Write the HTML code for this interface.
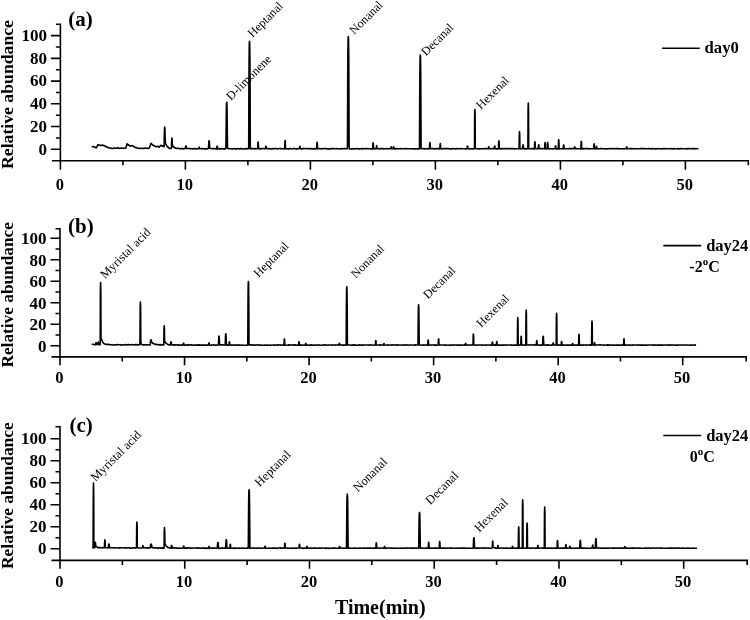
<!DOCTYPE html>
<html lang="en"><head><meta charset="utf-8"><title>Chromatograms</title>
<style>
html,body{margin:0;padding:0;background:#fff;}
svg{display:block;}
text{font-family:"Liberation Serif","Times New Roman",serif;fill:#000;}
.b{font-weight:bold;}
.tk{font-weight:bold;font-size:17px;}
.tkx{font-weight:bold;font-size:16.5px;}
.pk{font-size:12.2px;}
.pc{font-size:12.5px;}
.pm{font-size:12.4px;}
.sans{font-family:"Liberation Sans",Arial,sans-serif;font-size:11.8px;}
.ax{stroke:#000;stroke-width:1.6;fill:none;stroke-linecap:butt;}
.tr{stroke:#000;stroke-width:1.6;fill:none;stroke-linejoin:round;stroke-linecap:round;}
</style></head><body>
<svg width="750" height="620" viewBox="0 0 750 620">
<rect width="750" height="620" fill="#fff"/>

<path class="ax" d="M60.40 23.50 V160.70 M55.90 24.30 H60.40 M51.90 160.70 H749.10 M50.90 149.30 H60.40 M50.90 126.56 H60.40 M50.90 103.82 H60.40 M50.90 81.08 H60.40 M50.90 58.34 H60.40 M50.90 35.60 H60.40 M55.90 137.93 H60.40 M55.90 115.19 H60.40 M55.90 92.45 H60.40 M55.90 69.71 H60.40 M55.90 46.97 H60.40 M60.40 160.70 v9.0 M185.40 160.70 v9.0 M310.40 160.70 v9.0 M435.40 160.70 v9.0 M560.40 160.70 v9.0 M685.40 160.70 v9.0 M122.90 160.70 v4.5 M247.90 160.70 v4.5 M372.90 160.70 v4.5 M497.90 160.70 v4.5 M622.90 160.70 v4.5 M748.30 160.70 v4.5 "/>
<text class="tk" x="46.9" y="154.5" text-anchor="end">0</text>
<text class="tk" x="46.9" y="131.8" text-anchor="end">20</text>
<text class="tk" x="46.9" y="109.0" text-anchor="end">40</text>
<text class="tk" x="46.9" y="86.3" text-anchor="end">60</text>
<text class="tk" x="46.9" y="63.5" text-anchor="end">80</text>
<text class="tk" x="46.9" y="40.8" text-anchor="end">100</text>
<text class="tkx" x="59.8" y="190.4" text-anchor="middle">0</text>
<text class="tkx" x="184.8" y="190.4" text-anchor="middle">10</text>
<text class="tkx" x="309.8" y="190.4" text-anchor="middle">20</text>
<text class="tkx" x="434.8" y="190.4" text-anchor="middle">30</text>
<text class="tkx" x="559.8" y="190.4" text-anchor="middle">40</text>
<text class="tkx" x="684.8" y="190.4" text-anchor="middle">50</text>
<text class="b" font-size="17.70" text-anchor="middle" transform="translate(12.8 94.5) rotate(-90)">Relative abundance</text>
<text class="b" font-size="21" x="68.2" y="26.4">(a)</text>
<path class="tr" d="M92.30 146.75 L92.50 146.79 L92.70 146.83 L92.90 146.87 L93.10 146.91 L93.30 146.61 L93.50 146.65 L93.70 146.69 L93.90 146.74 L94.10 146.78 L94.30 146.86 L94.50 146.90 L94.70 146.99 L94.90 147.08 L95.10 147.17 L95.30 147.50 L95.50 147.59 L95.70 147.67 L95.90 147.76 L96.10 147.85 L96.30 147.82 L96.50 147.44 L96.70 147.05 L96.90 146.66 L97.10 146.28 L97.30 145.91 L97.50 145.52 L97.70 145.13 L97.90 144.74 L98.10 144.61 L98.30 144.63 L98.50 144.75 L98.70 144.87 L98.90 144.99 L99.10 145.11 L99.30 145.17 L99.50 145.29 L99.70 145.41 L99.90 145.35 L100.10 145.30 L100.30 145.57 L100.50 145.51 L100.70 145.46 L100.90 145.40 L101.10 145.34 L101.30 145.32 L101.50 145.26 L101.70 145.20 L101.90 145.26 L102.10 145.32 L102.30 145.00 L102.50 145.06 L102.70 145.12 L102.90 145.17 L103.10 145.23 L103.30 145.49 L103.50 145.55 L103.70 145.60 L103.90 145.66 L104.10 145.74 L104.30 145.67 L104.50 145.76 L104.70 145.85 L104.90 145.95 L105.10 146.04 L105.30 146.49 L105.50 146.58 L105.70 146.67 L105.90 146.76 L106.10 146.85 L106.30 146.73 L106.50 146.82 L106.70 146.92 L106.90 147.01 L107.10 147.09 L107.30 147.05 L107.50 147.13 L107.70 147.21 L107.90 147.30 L108.10 147.38 L108.30 147.70 L108.50 147.79 L108.70 147.87 L108.90 147.96 L109.10 148.04 L109.30 147.78 L109.50 147.87 L109.70 147.95 L109.90 147.95 L110.10 147.96 L110.30 147.98 L110.50 147.99 L110.70 147.99 L110.90 147.99 L111.10 148.00 L111.30 148.42 L111.50 148.42 L111.70 148.42 L111.90 148.43 L112.10 148.43 L112.30 148.44 L112.50 148.44 L112.70 148.44 L112.90 148.45 L113.10 148.45 L113.30 148.21 L113.50 148.21 L113.70 148.22 L113.90 148.22 L114.10 148.22 L114.30 148.04 L114.50 148.04 L114.70 148.04 L114.90 148.05 L115.10 148.05 L115.30 148.32 L115.50 148.32 L115.70 148.33 L115.90 148.33 L116.10 148.29 L116.30 148.29 L116.50 148.21 L116.70 148.13 L116.90 148.05 L117.10 147.97 L117.30 147.79 L117.50 147.71 L117.70 147.63 L117.90 147.72 L118.10 147.81 L118.30 148.08 L118.50 148.17 L118.70 148.26 L118.90 148.34 L119.10 148.39 L119.30 148.30 L119.50 148.30 L119.70 148.30 L119.90 148.30 L120.10 148.30 L120.30 148.19 L120.50 148.19 L120.70 148.19 L120.90 148.19 L121.10 148.19 L121.30 148.16 L121.50 148.16 L121.70 148.16 L121.90 148.16 L122.10 148.16 L122.30 148.29 L122.50 148.29 L122.70 148.29 L122.90 148.29 L123.10 148.29 L123.30 148.29 L123.50 148.29 L123.70 148.29 L123.90 148.29 L124.10 148.29 L124.30 148.30 L124.50 148.30 L124.70 148.30 L124.90 148.30 L125.10 148.30 L125.30 148.18 L125.50 148.18 L125.70 148.18 L125.90 147.80 L126.10 147.05 L126.30 146.37 L126.50 145.61 L126.70 144.85 L126.90 144.09 L127.10 143.81 L127.30 144.12 L127.50 144.30 L127.70 144.48 L127.90 144.66 L128.10 144.84 L128.30 144.64 L128.50 144.82 L128.70 144.96 L128.90 145.10 L129.10 145.24 L129.30 145.51 L129.50 145.65 L129.70 145.79 L129.90 145.93 L130.10 146.06 L130.30 146.16 L130.50 146.08 L130.70 146.00 L130.90 145.92 L131.10 145.84 L131.30 145.98 L131.50 145.90 L131.70 145.82 L131.90 145.74 L132.10 145.76 L132.30 145.50 L132.50 145.63 L132.70 145.75 L132.90 145.88 L133.10 146.00 L133.30 146.19 L133.50 146.31 L133.70 146.44 L133.90 146.56 L134.10 146.67 L134.30 147.10 L134.50 147.18 L134.70 147.26 L134.90 147.34 L135.10 147.42 L135.30 147.39 L135.50 147.47 L135.70 147.55 L135.90 147.63 L136.10 147.71 L136.30 147.61 L136.50 147.68 L136.70 147.76 L136.90 147.84 L137.10 147.92 L137.30 148.01 L137.50 148.09 L137.70 148.17 L137.90 148.24 L138.10 148.32 L138.30 148.30 L138.50 148.29 L138.70 148.29 L138.90 148.28 L139.10 148.28 L139.30 148.52 L139.50 148.51 L139.70 148.51 L139.90 148.51 L140.10 148.50 L140.30 148.30 L140.50 148.30 L140.70 148.29 L140.90 148.29 L141.10 148.28 L141.30 148.36 L141.50 148.35 L141.70 148.35 L141.90 148.34 L142.10 148.34 L142.30 148.51 L142.50 148.50 L142.70 148.50 L142.90 148.50 L143.10 148.49 L143.30 148.35 L143.50 148.35 L143.70 148.34 L143.90 148.34 L144.10 148.33 L144.30 148.19 L144.50 148.18 L144.70 148.18 L144.90 148.17 L145.10 148.17 L145.30 148.18 L145.50 148.18 L145.70 148.17 L145.90 148.17 L146.10 148.16 L146.30 148.32 L146.50 148.32 L146.70 148.31 L146.90 148.31 L147.10 148.31 L147.30 148.26 L147.50 148.26 L147.70 148.25 L147.90 148.25 L148.10 148.24 L148.30 148.50 L148.50 148.50 L148.70 148.36 L148.90 148.23 L149.10 148.09 L149.30 147.85 L149.50 147.72 L149.70 147.14 L149.90 146.57 L150.10 145.99 L150.30 145.15 L150.50 144.57 L150.70 144.00 L150.90 143.42 L151.10 143.23 L151.30 143.60 L151.50 143.80 L151.70 143.99 L151.90 144.18 L152.10 144.38 L152.30 144.69 L152.50 144.88 L152.70 145.07 L152.90 145.27 L153.10 145.42 L153.30 145.35 L153.50 145.46 L153.70 145.57 L153.90 145.68 L154.10 145.79 L154.30 145.82 L154.50 145.93 L154.70 146.04 L154.90 146.15 L155.10 146.26 L155.30 146.38 L155.50 146.49 L155.70 146.60 L155.90 146.56 L156.10 146.51 L156.30 146.61 L156.50 146.56 L156.70 146.52 L156.90 146.47 L157.10 146.43 L157.30 146.35 L157.50 146.30 L157.70 146.26 L157.90 146.42 L158.10 146.57 L158.30 146.70 L158.50 146.86 L158.70 147.01 L158.90 147.17 L159.10 147.15 L159.30 146.81 L159.50 146.61 L159.70 146.40 L159.90 146.20 L160.10 145.99 L160.30 145.91 L160.50 145.71 L160.70 145.50 L160.90 145.30 L161.10 145.28 L161.30 145.49 L161.50 145.65 L161.70 145.81 L161.90 145.97 L162.10 146.12 L162.30 146.24 L162.50 146.16 L162.70 146.08 L162.90 146.01 L163.10 145.93 L163.30 146.19 L163.50 146.33 L163.70 146.48 L163.90 146.63 L164.10 146.77 L164.30 136.99 L164.50 128.42 L164.70 127.10 L164.90 128.71 L165.10 137.58 L165.30 142.29 L165.50 142.96 L165.70 143.58 L165.90 144.15 L166.10 144.62 L166.30 144.87 L166.50 145.21 L166.70 145.52 L166.90 145.80 L167.10 146.05 L167.30 146.47 L167.50 146.68 L167.70 146.87 L167.90 147.05 L168.10 147.21 L168.30 147.45 L168.50 147.59 L168.70 147.94 L168.90 148.02 L169.10 148.09 L169.30 148.26 L169.50 148.32 L169.70 148.37 L169.90 148.42 L170.10 148.46 L170.30 148.34 L170.50 148.37 L170.70 148.40 L170.90 148.43 L171.10 148.45 L171.30 148.24 L171.50 148.26 L171.70 139.38 L171.90 138.08 L172.10 139.41 L172.30 145.15 L172.50 145.51 L172.70 145.82 L172.90 146.11 L173.10 146.36 L173.30 146.70 L173.50 146.91 L173.70 147.09 L173.90 147.25 L174.10 147.40 L174.30 147.38 L174.50 147.49 L174.70 147.60 L174.90 147.69 L175.10 147.78 L175.30 148.15 L175.50 148.22 L175.70 148.28 L175.90 148.33 L176.10 148.38 L176.30 148.29 L176.50 148.33 L176.70 148.36 L176.90 148.40 L177.10 148.43 L177.30 148.24 L177.50 148.27 L177.70 148.29 L177.90 148.30 L178.10 148.32 L178.30 148.51 L178.50 148.52 L178.70 148.54 L178.90 148.55 L179.10 148.56 L179.30 148.62 L179.50 148.63 L179.70 148.63 L179.90 148.64 L180.10 148.65 L180.30 148.74 L180.50 148.75 L180.70 148.75 L180.90 148.75 L181.10 148.76 L181.30 148.63 L181.50 148.63 L181.70 148.63 L181.90 148.63 L182.10 148.63 L182.30 148.44 L182.50 148.44 L182.70 148.44 L182.90 148.45 L183.10 148.45 L183.30 148.90 L183.50 148.90 L183.70 148.90 L183.90 148.91 L184.10 148.91 L184.30 148.54 L184.50 148.54 L184.70 148.54 L184.90 148.54 L185.10 148.54 L185.30 148.52 L185.50 147.25 L185.70 146.13 L185.90 145.95 L186.10 146.13 L186.30 147.22 L186.50 148.49 L186.70 148.49 L186.90 148.49 L187.10 148.49 L187.30 148.56 L187.50 148.56 L187.70 148.56 L187.90 148.56 L188.10 148.57 L188.30 148.53 L188.50 148.53 L188.70 148.53 L188.90 148.53 L189.10 148.53 L189.30 148.67 L189.50 148.67 L189.70 148.67 L189.90 148.67 L190.10 148.67 L190.30 148.65 L190.50 148.65 L190.70 148.65 L190.90 148.65 L191.10 148.65 L191.30 148.72 L191.50 148.72 L191.70 148.72 L191.90 148.72 L192.10 148.72 L192.30 148.90 L192.50 148.90 L192.70 148.90 L192.90 148.90 L193.10 148.90 L193.30 148.51 L193.50 148.51 L193.70 148.51 L193.90 148.51 L194.10 148.51 L194.30 148.65 L194.50 148.65 L194.70 148.65 L194.90 148.65 L195.10 148.65 L195.30 148.83 L195.50 148.83 L195.70 148.83 L195.90 148.83 L196.10 148.83 L196.30 148.69 L196.50 148.69 L196.70 148.69 L196.90 148.69 L197.10 148.69 L197.30 148.70 L197.50 148.70 L197.70 148.70 L197.90 148.70 L198.10 148.70 L198.30 148.76 L198.50 148.76 L198.70 148.76 L198.90 147.37 L199.10 147.08 L199.30 147.38 L199.50 148.77 L199.70 148.77 L199.90 148.77 L200.10 148.77 L200.30 148.68 L200.50 148.68 L200.70 148.68 L200.90 148.68 L201.10 148.68 L201.30 148.64 L201.50 148.64 L201.70 148.64 L201.90 148.64 L202.10 148.64 L202.30 148.64 L202.50 148.64 L202.70 148.64 L202.90 148.64 L203.10 148.64 L203.30 148.72 L203.50 148.72 L203.70 148.72 L203.90 148.72 L204.10 148.72 L204.30 148.92 L204.50 148.92 L204.70 148.92 L204.90 148.92 L205.10 148.92 L205.30 148.83 L205.50 148.83 L205.70 148.83 L205.90 148.83 L206.10 148.83 L206.30 148.85 L206.50 148.85 L206.70 148.85 L206.90 148.85 L207.10 148.85 L207.30 148.66 L207.50 148.66 L207.70 148.66 L207.90 148.66 L208.10 148.66 L208.30 148.53 L208.50 148.53 L208.70 144.71 L208.90 141.35 L209.10 140.78 L209.30 141.38 L209.50 144.74 L209.70 148.10 L209.90 148.23 L210.10 148.33 L210.30 148.39 L210.50 148.44 L210.70 148.47 L210.90 148.50 L211.10 148.52 L211.30 148.52 L211.50 148.53 L211.70 148.54 L211.90 148.54 L212.10 148.54 L212.30 148.81 L212.50 148.82 L212.70 148.82 L212.90 148.82 L213.10 148.82 L213.30 148.54 L213.50 148.54 L213.70 148.54 L213.90 148.54 L214.10 148.54 L214.30 148.62 L214.50 148.62 L214.70 148.62 L214.90 148.62 L215.10 148.62 L215.30 148.90 L215.50 148.90 L215.70 148.90 L215.90 148.90 L216.10 148.90 L216.30 148.94 L216.50 148.94 L216.70 148.94 L216.90 146.62 L217.10 146.14 L217.30 146.62 L217.50 148.94 L217.70 148.94 L217.90 148.94 L218.10 148.94 L218.30 148.59 L218.50 148.59 L218.70 148.59 L218.90 148.59 L219.10 148.59 L219.30 148.83 L219.50 148.83 L219.70 148.83 L219.90 148.83 L220.10 148.83 L220.30 148.89 L220.50 148.90 L220.70 148.90 L220.90 148.90 L221.10 148.90 L221.30 148.65 L221.50 148.65 L221.70 148.65 L221.90 148.65 L222.10 148.65 L222.30 148.78 L222.50 148.78 L222.70 148.78 L222.90 148.78 L223.10 148.78 L223.30 148.92 L223.50 148.92 L223.70 148.92 L223.90 148.92 L224.10 148.92 L224.30 148.87 L224.50 148.87 L224.70 148.87 L224.90 148.87 L225.10 148.87 L225.30 148.70 L225.50 148.70 L225.70 148.70 L225.90 148.70 L226.10 134.92 L226.30 112.81 L226.50 103.77 L226.70 102.26 L226.90 103.77 L227.10 112.81 L227.30 135.04 L227.50 147.81 L227.70 148.21 L227.90 148.45 L228.10 148.60 L228.30 148.48 L228.50 148.53 L228.70 148.56 L228.90 148.58 L229.10 148.59 L229.30 148.72 L229.50 148.73 L229.70 148.73 L229.90 148.73 L230.10 148.73 L230.30 148.80 L230.50 148.80 L230.70 148.80 L230.90 148.80 L231.10 148.80 L231.30 148.73 L231.50 148.73 L231.70 148.73 L231.90 148.73 L232.10 148.73 L232.30 148.94 L232.50 148.94 L232.70 148.94 L232.90 148.94 L233.10 148.94 L233.30 148.77 L233.50 148.77 L233.70 148.77 L233.90 148.77 L234.10 148.77 L234.30 148.75 L234.50 148.75 L234.70 148.75 L234.90 148.75 L235.10 148.75 L235.30 148.86 L235.50 148.86 L235.70 148.86 L235.90 148.86 L236.10 148.86 L236.30 148.90 L236.50 148.90 L236.70 148.90 L236.90 148.90 L237.10 148.90 L237.30 148.53 L237.50 148.53 L237.70 148.53 L237.90 148.53 L238.10 148.53 L238.30 148.71 L238.50 148.71 L238.70 148.71 L238.90 148.71 L239.10 148.71 L239.30 148.86 L239.50 148.86 L239.70 148.86 L239.90 148.86 L240.10 148.86 L240.30 148.67 L240.50 148.67 L240.70 148.67 L240.90 148.67 L241.10 148.67 L241.30 148.57 L241.50 148.57 L241.70 148.57 L241.90 148.57 L242.10 148.57 L242.30 148.95 L242.50 148.95 L242.70 148.95 L242.90 148.95 L243.10 148.95 L243.30 148.95 L243.50 148.95 L243.70 148.95 L243.90 148.95 L244.10 148.95 L244.30 148.89 L244.50 148.89 L244.70 148.89 L244.90 148.89 L245.10 148.89 L245.30 148.61 L245.50 148.61 L245.70 148.61 L245.90 148.61 L246.10 148.61 L246.30 148.88 L246.50 148.88 L246.70 148.88 L246.90 148.88 L247.10 148.88 L247.30 148.62 L247.50 148.62 L247.70 148.62 L247.90 148.62 L248.10 148.62 L248.30 148.63 L248.50 148.64 L248.70 148.64 L248.90 92.33 L249.10 57.59 L249.30 43.56 L249.50 41.20 L249.70 43.56 L249.90 57.65 L250.10 92.40 L250.30 148.85 L250.50 148.85 L250.70 148.85 L250.90 148.85 L251.10 148.85 L251.30 148.49 L251.50 148.49 L251.70 148.49 L251.90 148.49 L252.10 148.49 L252.30 148.58 L252.50 148.58 L252.70 148.58 L252.90 148.58 L253.10 148.58 L253.30 148.71 L253.50 148.71 L253.70 148.71 L253.90 148.71 L254.10 148.71 L254.30 148.85 L254.50 148.85 L254.70 148.85 L254.90 148.85 L255.10 148.85 L255.30 148.65 L255.50 148.65 L255.70 148.65 L255.90 148.65 L256.10 148.65 L256.30 148.77 L256.50 148.77 L256.70 148.77 L256.90 148.77 L257.10 148.77 L257.30 148.69 L257.50 148.69 L257.70 148.69 L257.90 143.11 L258.10 141.95 L258.30 143.23 L258.50 148.81 L258.70 148.81 L258.90 148.81 L259.10 148.81 L259.30 148.66 L259.50 148.66 L259.70 148.66 L259.90 148.66 L260.10 148.66 L260.30 148.93 L260.50 148.93 L260.70 148.93 L260.90 148.93 L261.10 148.93 L261.30 148.82 L261.50 148.82 L261.70 148.82 L261.90 148.82 L262.10 148.82 L262.30 148.50 L262.50 148.50 L262.70 148.50 L262.90 148.50 L263.10 148.50 L263.30 148.54 L263.50 148.54 L263.70 148.54 L263.90 148.54 L264.10 148.54 L264.30 148.82 L264.50 148.82 L264.70 148.82 L264.90 148.82 L265.10 148.82 L265.30 148.55 L265.50 148.55 L265.70 146.60 L265.90 146.20 L266.10 146.60 L266.30 148.81 L266.50 148.81 L266.70 148.81 L266.90 148.81 L267.10 148.81 L267.30 148.51 L267.50 148.51 L267.70 148.51 L267.90 148.51 L268.10 148.51 L268.30 148.61 L268.50 148.61 L268.70 148.61 L268.90 148.61 L269.10 148.61 L269.30 148.76 L269.50 148.76 L269.70 148.76 L269.90 148.76 L270.10 148.76 L270.30 148.84 L270.50 148.84 L270.70 148.84 L270.90 148.84 L271.10 148.84 L271.30 148.96 L271.50 148.96 L271.70 148.96 L271.90 148.96 L272.10 148.96 L272.30 148.54 L272.50 148.54 L272.70 148.54 L272.90 148.54 L273.10 148.54 L273.30 148.95 L273.50 148.95 L273.70 148.95 L273.90 148.95 L274.10 148.95 L274.30 148.57 L274.50 148.57 L274.70 148.57 L274.90 148.57 L275.10 148.57 L275.30 148.50 L275.50 148.50 L275.70 148.51 L275.90 148.51 L276.10 148.51 L276.30 148.69 L276.50 148.69 L276.70 148.69 L276.90 148.69 L277.10 148.69 L277.30 148.88 L277.50 148.88 L277.70 148.88 L277.90 148.88 L278.10 148.88 L278.30 148.55 L278.50 148.55 L278.70 148.55 L278.90 148.55 L279.10 148.55 L279.30 148.50 L279.50 148.50 L279.70 148.50 L279.90 148.50 L280.10 148.50 L280.30 148.63 L280.50 148.63 L280.70 148.63 L280.90 148.63 L281.10 148.63 L281.30 148.72 L281.50 148.72 L281.70 148.72 L281.90 148.72 L282.10 148.72 L282.30 148.78 L282.50 148.78 L282.70 148.78 L282.90 148.78 L283.10 148.78 L283.30 148.80 L283.50 148.80 L283.70 148.80 L283.90 148.80 L284.10 148.80 L284.30 148.87 L284.50 148.87 L284.70 148.87 L284.90 141.89 L285.10 140.45 L285.30 141.67 L285.50 148.64 L285.70 148.64 L285.90 148.64 L286.10 148.64 L286.30 148.76 L286.50 148.76 L286.70 148.76 L286.90 148.76 L287.10 148.76 L287.30 148.87 L287.50 148.87 L287.70 148.87 L287.90 148.87 L288.10 148.87 L288.30 148.92 L288.50 148.92 L288.70 148.92 L288.90 148.92 L289.10 148.92 L289.30 148.65 L289.50 148.65 L289.70 148.65 L289.90 148.65 L290.10 148.65 L290.30 148.82 L290.50 148.82 L290.70 148.82 L290.90 148.82 L291.10 148.82 L291.30 148.73 L291.50 148.73 L291.70 148.73 L291.90 148.73 L292.10 148.73 L292.30 148.81 L292.50 148.81 L292.70 148.81 L292.90 148.81 L293.10 148.81 L293.30 148.55 L293.50 148.55 L293.70 148.55 L293.90 148.55 L294.10 148.55 L294.30 148.54 L294.50 148.54 L294.70 148.54 L294.90 148.54 L295.10 148.54 L295.30 148.96 L295.50 148.96 L295.70 148.96 L295.90 148.96 L296.10 148.96 L296.30 148.87 L296.50 148.87 L296.70 148.87 L296.90 148.87 L297.10 148.87 L297.30 148.81 L297.50 148.81 L297.70 148.81 L297.90 148.81 L298.10 148.81 L298.30 148.50 L298.50 148.50 L298.70 148.50 L298.90 148.50 L299.10 148.50 L299.30 148.59 L299.50 148.59 L299.70 146.64 L299.90 146.24 L300.10 146.64 L300.30 148.81 L300.50 148.81 L300.70 148.81 L300.90 148.81 L301.10 148.81 L301.30 148.87 L301.50 148.87 L301.70 148.87 L301.90 148.87 L302.10 148.87 L302.30 148.65 L302.50 148.65 L302.70 148.65 L302.90 148.65 L303.10 148.65 L303.30 148.57 L303.50 148.57 L303.70 148.57 L303.90 148.57 L304.10 148.57 L304.30 148.52 L304.50 148.52 L304.70 148.52 L304.90 148.52 L305.10 148.52 L305.30 148.80 L305.50 148.80 L305.70 148.80 L305.90 148.80 L306.10 148.80 L306.30 148.55 L306.50 148.55 L306.70 148.55 L306.90 148.55 L307.10 148.55 L307.30 148.64 L307.50 148.64 L307.70 148.64 L307.90 148.64 L308.10 148.64 L308.30 148.74 L308.50 148.74 L308.70 148.74 L308.90 148.74 L309.10 148.74 L309.30 148.50 L309.50 148.50 L309.70 148.50 L309.90 148.50 L310.10 148.50 L310.30 148.86 L310.50 148.86 L310.70 148.86 L310.90 148.86 L311.10 148.86 L311.30 148.62 L311.50 148.62 L311.70 148.62 L311.90 148.62 L312.10 148.62 L312.30 148.93 L312.50 148.93 L312.70 148.93 L312.90 148.93 L313.10 148.93 L313.30 148.89 L313.50 148.89 L313.70 148.89 L313.90 148.89 L314.10 148.89 L314.30 148.53 L314.50 148.53 L314.70 148.53 L314.90 148.53 L315.10 148.53 L315.30 148.87 L315.50 148.87 L315.70 148.87 L315.90 148.87 L316.10 148.87 L316.30 148.61 L316.50 148.61 L316.70 148.61 L316.90 143.31 L317.10 142.21 L317.30 143.38 L317.50 148.68 L317.70 148.68 L317.90 148.68 L318.10 148.68 L318.30 148.57 L318.50 148.57 L318.70 148.57 L318.90 148.57 L319.10 148.57 L319.30 148.79 L319.50 148.79 L319.70 148.79 L319.90 148.79 L320.10 148.79 L320.30 148.81 L320.50 148.81 L320.70 148.81 L320.90 148.81 L321.10 148.81 L321.30 148.83 L321.50 148.83 L321.70 148.83 L321.90 148.83 L322.10 148.83 L322.30 148.55 L322.50 148.55 L322.70 148.55 L322.90 148.55 L323.10 148.55 L323.30 148.68 L323.50 148.68 L323.70 148.68 L323.90 148.68 L324.10 148.68 L324.30 148.51 L324.50 148.51 L324.70 148.51 L324.90 148.51 L325.10 148.51 L325.30 148.54 L325.50 148.54 L325.70 148.54 L325.90 148.54 L326.10 148.54 L326.30 148.90 L326.50 148.90 L326.70 148.90 L326.90 148.90 L327.10 148.90 L327.30 148.71 L327.50 148.71 L327.70 148.71 L327.90 148.71 L328.10 148.71 L328.30 148.92 L328.50 148.92 L328.70 148.92 L328.90 148.92 L329.10 148.92 L329.30 148.95 L329.50 148.95 L329.70 148.95 L329.90 148.95 L330.10 148.88 L330.30 148.87 L330.50 148.87 L330.70 148.87 L330.90 148.87 L331.10 148.87 L331.30 148.61 L331.50 148.61 L331.70 148.61 L331.90 148.61 L332.10 148.61 L332.30 148.64 L332.50 148.64 L332.70 148.64 L332.90 148.64 L333.10 148.64 L333.30 148.63 L333.50 148.63 L333.70 148.63 L333.90 148.63 L334.10 148.63 L334.30 148.78 L334.50 148.78 L334.70 148.78 L334.90 148.78 L335.10 148.78 L335.30 148.69 L335.50 148.69 L335.70 148.69 L335.90 148.69 L336.10 148.69 L336.30 148.64 L336.50 148.64 L336.70 148.64 L336.90 148.64 L337.10 148.64 L337.30 148.77 L337.50 148.77 L337.70 148.77 L337.90 148.77 L338.10 148.77 L338.30 148.71 L338.50 148.71 L338.70 148.71 L338.90 148.71 L339.10 148.71 L339.30 148.82 L339.50 148.82 L339.70 148.82 L339.90 148.82 L340.10 148.82 L340.30 148.86 L340.50 148.86 L340.70 148.86 L340.90 148.86 L341.10 148.86 L341.30 148.80 L341.50 148.80 L341.70 148.80 L341.90 148.80 L342.10 148.80 L342.30 148.61 L342.50 148.61 L342.70 148.61 L342.90 148.61 L343.10 148.61 L343.30 148.71 L343.50 148.71 L343.70 148.71 L343.90 148.71 L344.10 148.71 L344.30 148.60 L344.50 148.60 L344.70 148.60 L344.90 148.60 L345.10 148.60 L345.30 148.74 L345.50 148.74 L345.70 148.74 L345.90 148.74 L346.10 148.74 L346.30 148.80 L346.50 148.80 L346.70 148.80 L346.90 148.80 L347.10 148.80 L347.30 148.64 L347.50 145.75 L347.70 85.40 L347.90 52.31 L348.10 38.90 L348.30 36.63 L348.50 38.88 L348.70 52.30 L348.90 85.39 L349.10 145.74 L349.30 148.89 L349.50 148.89 L349.70 148.89 L349.90 148.89 L350.10 148.89 L350.30 148.68 L350.50 148.68 L350.70 148.68 L350.90 148.68 L351.10 148.68 L351.30 148.86 L351.50 148.86 L351.70 148.86 L351.90 148.86 L352.10 148.86 L352.30 148.85 L352.50 148.85 L352.70 148.85 L352.90 148.85 L353.10 148.85 L353.30 148.61 L353.50 148.61 L353.70 148.61 L353.90 148.61 L354.10 148.61 L354.30 148.88 L354.50 148.88 L354.70 148.88 L354.90 148.88 L355.10 148.88 L355.30 148.81 L355.50 148.81 L355.70 148.81 L355.90 148.81 L356.10 148.81 L356.30 148.58 L356.50 148.58 L356.70 148.58 L356.90 148.58 L357.10 148.58 L357.30 148.76 L357.50 148.76 L357.70 148.76 L357.90 148.76 L358.10 148.76 L358.30 148.85 L358.50 148.85 L358.70 148.85 L358.90 148.85 L359.10 148.85 L359.30 148.84 L359.50 148.84 L359.70 148.84 L359.90 148.84 L360.10 148.84 L360.30 148.81 L360.50 148.81 L360.70 148.81 L360.90 148.81 L361.10 148.81 L361.30 148.65 L361.50 148.65 L361.70 148.65 L361.90 148.65 L362.10 148.65 L362.30 148.86 L362.50 148.86 L362.70 148.86 L362.90 148.86 L363.10 148.86 L363.30 148.60 L363.50 148.60 L363.70 148.60 L363.90 148.60 L364.10 148.60 L364.30 148.77 L364.50 148.77 L364.70 148.77 L364.90 148.77 L365.10 148.77 L365.30 148.58 L365.50 148.58 L365.70 148.58 L365.90 148.58 L366.10 148.58 L366.30 148.60 L366.50 148.60 L366.70 148.60 L366.90 148.60 L367.10 148.60 L367.30 148.80 L367.50 148.80 L367.70 148.80 L367.90 148.80 L368.10 148.80 L368.30 148.81 L368.50 148.81 L368.70 148.81 L368.90 148.81 L369.10 148.81 L369.30 148.74 L369.50 148.74 L369.70 148.74 L369.90 148.74 L370.10 148.74 L370.30 148.86 L370.50 148.86 L370.70 148.86 L370.90 148.86 L371.10 148.86 L371.30 148.68 L371.50 148.68 L371.70 148.68 L371.90 148.68 L372.10 148.68 L372.30 148.88 L372.50 148.88 L372.70 148.88 L372.90 143.76 L373.10 142.71 L373.30 143.77 L373.50 148.89 L373.70 148.89 L373.90 148.89 L374.10 148.89 L374.30 148.58 L374.50 148.58 L374.70 148.58 L374.90 148.58 L375.10 148.58 L375.30 148.80 L375.50 148.80 L375.70 148.80 L375.90 148.80 L376.10 148.80 L376.30 148.70 L376.50 146.19 L376.70 145.67 L376.90 146.19 L377.10 148.70 L377.30 148.75 L377.50 148.75 L377.70 148.75 L377.90 148.75 L378.10 148.75 L378.30 148.79 L378.50 148.79 L378.70 148.79 L378.90 148.79 L379.10 148.79 L379.30 148.87 L379.50 148.87 L379.70 148.87 L379.90 148.87 L380.10 148.87 L380.30 148.60 L380.50 148.60 L380.70 148.60 L380.90 148.60 L381.10 148.60 L381.30 148.58 L381.50 148.58 L381.70 148.58 L381.90 148.58 L382.10 148.58 L382.30 148.58 L382.50 148.58 L382.70 148.58 L382.90 148.58 L383.10 148.58 L383.30 148.85 L383.50 148.85 L383.70 148.85 L383.90 148.85 L384.10 148.85 L384.30 148.82 L384.50 148.82 L384.70 148.82 L384.90 148.82 L385.10 148.82 L385.30 148.69 L385.50 148.69 L385.70 148.69 L385.90 148.69 L386.10 148.69 L386.30 148.58 L386.50 148.58 L386.70 148.58 L386.90 148.58 L387.10 148.58 L387.30 148.72 L387.50 148.72 L387.70 148.72 L387.90 148.72 L388.10 148.72 L388.30 148.67 L388.50 148.67 L388.70 148.67 L388.90 148.67 L389.10 148.67 L389.30 148.68 L389.50 148.68 L389.70 148.68 L389.90 148.68 L390.10 148.68 L390.30 148.81 L390.50 148.81 L390.70 148.81 L390.90 148.81 L391.10 147.47 L391.30 146.70 L391.50 147.38 L391.70 148.72 L391.90 148.72 L392.10 148.72 L392.30 148.79 L392.50 148.79 L392.70 148.79 L392.90 148.79 L393.10 148.79 L393.30 148.81 L393.50 147.47 L393.70 146.80 L393.90 147.47 L394.10 148.81 L394.30 148.86 L394.50 148.86 L394.70 148.86 L394.90 148.86 L395.10 148.86 L395.30 148.80 L395.50 148.80 L395.70 148.80 L395.90 148.80 L396.10 148.80 L396.30 148.58 L396.50 148.58 L396.70 148.58 L396.90 148.58 L397.10 148.58 L397.30 148.75 L397.50 148.75 L397.70 148.75 L397.90 148.75 L398.10 148.75 L398.30 148.68 L398.50 148.68 L398.70 148.68 L398.90 148.68 L399.10 148.68 L399.30 148.69 L399.50 148.69 L399.70 148.69 L399.90 148.69 L400.10 148.69 L400.30 148.59 L400.50 148.59 L400.70 148.59 L400.90 148.59 L401.10 148.59 L401.30 148.77 L401.50 148.77 L401.70 148.77 L401.90 148.77 L402.10 148.77 L402.30 148.79 L402.50 148.79 L402.70 148.79 L402.90 148.79 L403.10 148.79 L403.30 148.79 L403.50 148.79 L403.70 148.79 L403.90 148.79 L404.10 148.79 L404.30 148.79 L404.50 148.79 L404.70 148.79 L404.90 148.79 L405.10 148.79 L405.30 148.62 L405.50 148.62 L405.70 148.62 L405.90 148.62 L406.10 148.62 L406.30 148.61 L406.50 148.61 L406.70 148.61 L406.90 148.61 L407.10 148.61 L407.30 148.79 L407.50 148.79 L407.70 148.79 L407.90 148.79 L408.10 148.79 L408.30 148.78 L408.50 148.78 L408.70 148.78 L408.90 148.78 L409.10 148.78 L409.30 148.72 L409.50 148.72 L409.70 148.72 L409.90 148.72 L410.10 148.72 L410.30 148.71 L410.50 148.71 L410.70 148.71 L410.90 148.71 L411.10 148.71 L411.30 148.70 L411.50 148.70 L411.70 148.70 L411.90 148.70 L412.10 148.70 L412.30 148.81 L412.50 148.81 L412.70 148.81 L412.90 148.81 L413.10 148.81 L413.30 148.88 L413.50 148.88 L413.70 148.88 L413.90 148.88 L414.10 148.88 L414.30 148.81 L414.50 148.81 L414.70 148.81 L414.90 148.81 L415.10 148.81 L415.30 148.87 L415.50 148.87 L415.70 148.87 L415.90 148.87 L416.10 148.87 L416.30 148.72 L416.50 148.72 L416.70 148.72 L416.90 148.72 L417.10 148.72 L417.30 148.87 L417.50 148.87 L417.70 148.87 L417.90 148.87 L418.10 148.87 L418.30 148.87 L418.50 148.87 L418.70 148.87 L418.90 148.87 L419.10 148.87 L419.30 148.69 L419.50 148.69 L419.70 102.40 L419.90 70.16 L420.10 57.09 L420.30 55.00 L420.50 57.20 L420.70 70.27 L420.90 102.51 L421.10 148.80 L421.30 148.64 L421.50 148.64 L421.70 148.64 L421.90 148.64 L422.10 148.64 L422.30 148.73 L422.50 148.73 L422.70 148.73 L422.90 148.73 L423.10 148.73 L423.30 148.62 L423.50 148.62 L423.70 148.62 L423.90 148.62 L424.10 148.62 L424.30 148.84 L424.50 148.84 L424.70 148.84 L424.90 148.84 L425.10 148.84 L425.30 148.73 L425.50 148.73 L425.70 148.73 L425.90 148.73 L426.10 148.73 L426.30 148.64 L426.50 148.64 L426.70 148.64 L426.90 148.64 L427.10 148.64 L427.30 148.87 L427.50 148.87 L427.70 148.87 L427.90 148.87 L428.10 148.87 L428.30 148.59 L428.50 148.59 L428.70 148.59 L428.90 148.59 L429.10 148.59 L429.30 148.84 L429.50 148.84 L429.70 143.72 L429.90 142.66 L430.10 143.72 L430.30 148.64 L430.50 148.64 L430.70 148.64 L430.90 148.64 L431.10 148.64 L431.30 148.58 L431.50 148.58 L431.70 148.58 L431.90 148.58 L432.10 148.58 L432.30 148.63 L432.50 148.63 L432.70 148.63 L432.90 148.63 L433.10 148.63 L433.30 148.79 L433.50 148.79 L433.70 148.79 L433.90 148.79 L434.10 148.79 L434.30 148.86 L434.50 148.86 L434.70 148.86 L434.90 148.86 L435.10 148.86 L435.30 148.73 L435.50 148.73 L435.70 148.73 L435.90 148.73 L436.10 148.73 L436.30 148.60 L436.50 148.60 L436.70 148.60 L436.90 148.60 L437.10 148.60 L437.30 148.80 L437.50 148.80 L437.70 148.80 L437.90 148.80 L438.10 148.80 L438.30 148.61 L438.50 148.61 L438.70 148.61 L438.90 148.61 L439.10 148.61 L439.30 148.85 L439.50 148.85 L439.70 148.85 L439.90 148.85 L440.10 144.66 L440.30 143.55 L440.50 144.42 L440.70 148.60 L440.90 148.60 L441.10 148.60 L441.30 148.88 L441.50 148.88 L441.70 148.88 L441.90 148.88 L442.10 148.88 L442.30 148.79 L442.50 148.79 L442.70 148.79 L442.90 148.79 L443.10 148.79 L443.30 148.60 L443.50 148.60 L443.70 148.60 L443.90 148.60 L444.10 148.60 L444.30 148.63 L444.50 148.63 L444.70 148.63 L444.90 148.63 L445.10 148.63 L445.30 148.60 L445.50 148.60 L445.70 148.60 L445.90 148.60 L446.10 148.60 L446.30 148.62 L446.50 148.62 L446.70 148.62 L446.90 148.62 L447.10 148.62 L447.30 148.65 L447.50 148.65 L447.70 148.65 L447.90 148.65 L448.10 148.65 L448.30 148.67 L448.50 148.67 L448.70 148.67 L448.90 148.67 L449.10 148.67 L449.30 148.83 L449.50 148.83 L449.70 148.83 L449.90 148.83 L450.10 148.83 L450.30 148.75 L450.50 148.75 L450.70 148.75 L450.90 148.75 L451.10 148.75 L451.30 148.84 L451.50 148.84 L451.70 148.84 L451.90 148.84 L452.10 148.84 L452.30 148.66 L452.50 148.66 L452.70 148.66 L452.90 148.66 L453.10 148.66 L453.30 148.68 L453.50 148.68 L453.70 148.68 L453.90 148.68 L454.10 148.68 L454.30 148.81 L454.50 148.81 L454.70 148.81 L454.90 148.81 L455.10 148.81 L455.30 148.87 L455.50 148.87 L455.70 148.87 L455.90 148.87 L456.10 148.87 L456.30 148.58 L456.50 148.58 L456.70 148.58 L456.90 148.58 L457.10 148.58 L457.30 148.63 L457.50 148.63 L457.70 148.63 L457.90 148.63 L458.10 148.63 L458.30 148.72 L458.50 148.72 L458.70 148.72 L458.90 148.72 L459.10 148.72 L459.30 148.72 L459.50 148.72 L459.70 148.72 L459.90 148.72 L460.10 148.72 L460.30 148.62 L460.50 148.62 L460.70 148.62 L460.90 148.62 L461.10 148.62 L461.30 148.75 L461.50 148.75 L461.70 148.75 L461.90 148.75 L462.10 148.75 L462.30 148.76 L462.50 148.76 L462.70 148.76 L462.90 148.76 L463.10 148.76 L463.30 148.78 L463.50 148.78 L463.70 148.78 L463.90 148.78 L464.10 148.78 L464.30 148.81 L464.50 148.81 L464.70 148.81 L464.90 148.81 L465.10 148.81 L465.30 148.88 L465.50 148.88 L465.70 148.88 L465.90 148.88 L466.10 148.88 L466.30 148.68 L466.50 148.68 L466.70 148.68 L466.90 148.68 L467.10 148.68 L467.30 146.44 L467.50 145.96 L467.70 146.44 L467.90 148.76 L468.10 148.76 L468.30 148.71 L468.50 148.71 L468.70 148.71 L468.90 148.71 L469.10 148.71 L469.30 148.87 L469.50 148.87 L469.70 148.87 L469.90 148.87 L470.10 148.87 L470.30 148.78 L470.50 148.78 L470.70 148.78 L470.90 148.78 L471.10 148.78 L471.30 148.85 L471.50 148.85 L471.70 148.85 L471.90 148.85 L472.10 148.85 L472.30 148.85 L472.50 148.85 L472.70 148.85 L472.90 148.85 L473.10 148.85 L473.30 148.81 L473.50 148.81 L473.70 148.81 L473.90 148.81 L474.10 148.81 L474.30 148.63 L474.50 148.63 L474.70 114.48 L474.90 109.43 L475.10 114.48 L475.30 148.76 L475.50 148.76 L475.70 148.76 L475.90 148.76 L476.10 148.76 L476.30 148.76 L476.50 148.76 L476.70 148.76 L476.90 148.76 L477.10 148.76 L477.30 148.70 L477.50 148.70 L477.70 148.70 L477.90 148.70 L478.10 148.70 L478.30 148.82 L478.50 148.82 L478.70 148.82 L478.90 148.82 L479.10 148.82 L479.30 148.89 L479.50 148.89 L479.70 148.89 L479.90 148.89 L480.10 148.89 L480.30 148.72 L480.50 148.72 L480.70 148.72 L480.90 148.72 L481.10 148.72 L481.30 148.73 L481.50 148.73 L481.70 148.73 L481.90 148.73 L482.10 148.73 L482.30 148.68 L482.50 148.68 L482.70 148.68 L482.90 148.68 L483.10 148.68 L483.30 148.75 L483.50 148.75 L483.70 148.75 L483.90 148.75 L484.10 148.75 L484.30 148.67 L484.50 148.67 L484.70 148.67 L484.90 148.67 L485.10 148.67 L485.30 148.66 L485.50 148.66 L485.70 148.66 L485.90 148.66 L486.10 148.66 L486.30 148.81 L486.50 148.81 L486.70 148.81 L486.90 148.81 L487.10 148.81 L487.30 148.73 L487.50 148.73 L487.70 148.73 L487.90 148.73 L488.10 148.73 L488.30 148.74 L488.50 147.07 L488.70 146.72 L488.90 147.07 L489.10 148.74 L489.30 148.82 L489.50 148.82 L489.70 148.82 L489.90 148.82 L490.10 148.82 L490.30 148.76 L490.50 148.76 L490.70 148.76 L490.90 148.76 L491.10 148.76 L491.30 148.71 L491.50 148.71 L491.70 148.71 L491.90 148.71 L492.10 148.71 L492.30 148.60 L492.50 148.60 L492.70 148.60 L492.90 148.60 L493.10 148.60 L493.30 148.60 L493.50 148.60 L493.70 148.60 L493.90 148.60 L494.10 148.60 L494.30 148.80 L494.50 146.48 L494.70 146.00 L494.90 146.48 L495.10 148.80 L495.30 148.68 L495.50 148.68 L495.70 148.68 L495.90 148.68 L496.10 148.68 L496.30 148.88 L496.50 148.88 L496.70 148.88 L496.90 148.88 L497.10 148.88 L497.30 148.87 L497.50 148.87 L497.70 148.87 L497.90 148.87 L498.10 148.87 L498.30 148.73 L498.50 148.73 L498.70 142.13 L498.90 140.76 L499.10 142.13 L499.30 148.61 L499.50 148.61 L499.70 148.61 L499.90 148.61 L500.10 148.61 L500.30 148.84 L500.50 148.84 L500.70 148.84 L500.90 148.84 L501.10 148.84 L501.30 148.65 L501.50 148.65 L501.70 148.65 L501.90 148.65 L502.10 148.65 L502.30 148.61 L502.50 148.61 L502.70 148.61 L502.90 148.61 L503.10 148.61 L503.30 148.79 L503.50 148.79 L503.70 148.79 L503.90 148.79 L504.10 148.79 L504.30 148.67 L504.50 148.67 L504.70 148.67 L504.90 148.67 L505.10 148.67 L505.30 148.62 L505.50 148.62 L505.70 148.62 L505.90 148.62 L506.10 148.62 L506.30 148.77 L506.50 148.77 L506.70 148.77 L506.90 148.77 L507.10 148.77 L507.30 148.67 L507.50 148.67 L507.70 148.67 L507.90 148.67 L508.10 148.67 L508.30 148.66 L508.50 148.66 L508.70 148.66 L508.90 148.66 L509.10 148.66 L509.30 148.70 L509.50 148.70 L509.70 148.70 L509.90 148.70 L510.10 148.70 L510.30 148.62 L510.50 148.62 L510.70 148.62 L510.90 148.62 L511.10 148.62 L511.30 148.61 L511.50 148.61 L511.70 148.61 L511.90 148.61 L512.10 148.61 L512.30 148.59 L512.50 148.59 L512.70 148.59 L512.90 148.59 L513.10 148.59 L513.30 148.71 L513.50 148.71 L513.70 148.71 L513.90 148.71 L514.10 148.71 L514.30 148.83 L514.50 148.83 L514.70 148.83 L514.90 148.83 L515.10 148.83 L515.30 148.81 L515.50 148.81 L515.70 148.81 L515.90 148.81 L516.10 148.81 L516.30 148.82 L516.50 148.82 L516.70 148.82 L516.90 148.82 L517.10 148.82 L517.30 148.71 L517.50 148.71 L517.70 148.71 L517.90 148.71 L518.10 148.71 L518.30 148.65 L518.50 148.65 L518.70 148.65 L518.90 148.65 L519.10 148.65 L519.30 134.45 L519.50 131.47 L519.70 134.45 L519.90 148.87 L520.10 148.87 L520.30 148.67 L520.50 148.67 L520.70 148.67 L520.90 148.67 L521.10 148.67 L521.30 148.66 L521.50 148.66 L521.70 148.66 L521.90 148.66 L522.10 148.66 L522.30 148.78 L522.50 148.78 L522.70 148.78 L522.90 145.53 L523.10 144.85 L523.30 145.47 L523.50 148.73 L523.70 148.73 L523.90 148.73 L524.10 148.73 L524.30 148.84 L524.50 148.84 L524.70 148.84 L524.90 148.84 L525.10 148.84 L525.30 148.66 L525.50 148.66 L525.70 148.66 L525.90 148.66 L526.10 148.66 L526.30 148.88 L526.50 148.88 L526.70 148.88 L526.90 148.88 L527.10 148.88 L527.30 148.58 L527.50 148.58 L527.70 148.58 L527.90 148.58 L528.10 108.95 L528.30 103.14 L528.50 109.00 L528.70 148.63 L528.90 148.63 L529.10 148.63 L529.30 148.69 L529.50 148.69 L529.70 148.69 L529.90 148.69 L530.10 148.69 L530.30 148.81 L530.50 148.81 L530.70 148.81 L530.90 148.81 L531.10 148.81 L531.30 148.60 L531.50 148.60 L531.70 148.60 L531.90 148.60 L532.10 148.60 L532.30 148.59 L532.50 148.59 L532.70 148.59 L532.90 148.59 L533.10 148.59 L533.30 148.85 L533.50 148.85 L533.70 148.85 L533.90 148.85 L534.10 148.85 L534.30 148.64 L534.50 148.64 L534.70 142.88 L534.90 141.69 L535.10 142.88 L535.30 148.62 L535.50 148.62 L535.70 148.62 L535.90 148.62 L536.10 148.62 L536.30 148.68 L536.50 148.68 L536.70 148.68 L536.90 148.68 L537.10 148.68 L537.30 148.67 L537.50 148.67 L537.70 148.67 L537.90 148.67 L538.10 148.67 L538.30 148.75 L538.50 145.50 L538.70 144.82 L538.90 145.50 L539.10 148.75 L539.30 148.60 L539.50 148.60 L539.70 148.60 L539.90 148.60 L540.10 148.60 L540.30 148.58 L540.50 148.58 L540.70 148.58 L540.90 148.58 L541.10 148.58 L541.30 148.77 L541.50 148.77 L541.70 148.77 L541.90 148.77 L542.10 148.77 L542.30 148.64 L542.50 148.64 L542.70 148.64 L542.90 148.64 L543.10 148.64 L543.30 148.75 L543.50 148.75 L543.70 148.75 L543.90 148.75 L544.10 148.75 L544.30 148.84 L544.50 148.84 L544.70 148.84 L544.90 143.54 L545.10 142.44 L545.30 143.49 L545.50 148.79 L545.70 148.79 L545.90 148.79 L546.10 148.79 L546.30 148.85 L546.50 148.85 L546.70 148.85 L546.90 148.85 L547.10 148.85 L547.30 148.60 L547.50 143.49 L547.70 142.43 L547.90 143.49 L548.10 148.60 L548.30 148.59 L548.50 148.59 L548.70 148.59 L548.90 148.59 L549.10 148.59 L549.30 148.85 L549.50 148.85 L549.70 148.85 L549.90 148.85 L550.10 148.85 L550.30 148.70 L550.50 148.70 L550.70 148.70 L550.90 148.70 L551.10 148.70 L551.30 148.76 L551.50 148.76 L551.70 148.76 L551.90 148.76 L552.10 148.76 L552.30 148.85 L552.50 148.85 L552.70 148.85 L552.90 148.85 L553.10 148.85 L553.30 148.80 L553.50 148.80 L553.70 148.80 L553.90 148.80 L554.10 148.80 L554.30 148.81 L554.50 148.81 L554.70 148.81 L554.90 148.81 L555.10 148.81 L555.30 146.33 L555.50 145.85 L555.70 146.33 L555.90 148.65 L556.10 148.65 L556.30 148.89 L556.50 148.89 L556.70 148.89 L556.90 148.89 L557.10 148.89 L557.30 148.83 L557.50 148.83 L557.70 148.83 L557.90 148.83 L558.10 148.83 L558.30 148.75 L558.50 140.83 L558.70 139.66 L558.90 140.83 L559.10 148.75 L559.30 148.88 L559.50 148.88 L559.70 148.88 L559.90 148.88 L560.10 148.88 L560.30 148.69 L560.50 148.69 L560.70 148.69 L560.90 148.69 L561.10 148.69 L561.30 148.70 L561.50 148.70 L561.70 148.70 L561.90 148.70 L562.10 148.70 L562.30 148.62 L562.50 148.62 L562.70 148.62 L562.90 148.62 L563.10 148.62 L563.30 148.82 L563.50 145.57 L563.70 144.90 L563.90 145.57 L564.10 148.82 L564.30 148.80 L564.50 148.80 L564.70 148.80 L564.90 148.80 L565.10 148.80 L565.30 148.72 L565.50 148.72 L565.70 148.72 L565.90 148.72 L566.10 148.72 L566.30 148.80 L566.50 148.80 L566.70 148.80 L566.90 148.80 L567.10 148.80 L567.30 148.70 L567.50 148.70 L567.70 148.70 L567.90 148.70 L568.10 148.70 L568.30 148.81 L568.50 148.81 L568.70 148.81 L568.90 148.81 L569.10 148.81 L569.30 148.67 L569.50 148.67 L569.70 148.67 L569.90 148.67 L570.10 148.67 L570.30 148.64 L570.50 148.64 L570.70 148.64 L570.90 148.64 L571.10 148.64 L571.30 148.63 L571.50 148.63 L571.70 148.63 L571.90 148.63 L572.10 148.63 L572.30 148.58 L572.50 148.58 L572.70 148.58 L572.90 148.58 L573.10 148.58 L573.30 148.72 L573.50 148.72 L573.70 148.72 L573.90 148.72 L574.10 148.72 L574.30 148.73 L574.50 147.16 L574.70 146.83 L574.90 147.16 L575.10 148.73 L575.30 148.62 L575.50 148.62 L575.70 148.62 L575.90 148.62 L576.10 148.62 L576.30 148.65 L576.50 148.65 L576.70 148.65 L576.90 148.65 L577.10 148.65 L577.30 148.71 L577.50 148.71 L577.70 148.71 L577.90 148.71 L578.10 148.71 L578.30 148.77 L578.50 148.77 L578.70 148.77 L578.90 148.77 L579.10 148.77 L579.30 148.80 L579.50 148.80 L579.70 148.80 L579.90 148.80 L580.10 148.80 L580.30 148.86 L580.50 148.86 L580.70 148.86 L580.90 148.86 L581.10 142.81 L581.30 141.34 L581.50 142.59 L581.70 148.63 L581.90 148.63 L582.10 148.63 L582.30 148.85 L582.50 148.85 L582.70 148.85 L582.90 148.85 L583.10 148.85 L583.30 148.65 L583.50 148.65 L583.70 148.65 L583.90 148.65 L584.10 148.65 L584.30 148.72 L584.50 148.72 L584.70 148.72 L584.90 148.72 L585.10 148.72 L585.30 148.58 L585.50 148.58 L585.70 148.58 L585.90 148.58 L586.10 148.58 L586.30 148.65 L586.50 148.65 L586.70 148.65 L586.90 148.65 L587.10 148.65 L587.30 148.58 L587.50 148.58 L587.70 148.58 L587.90 148.58 L588.10 148.58 L588.30 148.85 L588.50 148.85 L588.70 148.85 L588.90 148.85 L589.10 148.85 L589.30 148.73 L589.50 148.73 L589.70 148.73 L589.90 148.73 L590.10 148.73 L590.30 148.71 L590.50 148.71 L590.70 148.71 L590.90 148.71 L591.10 148.71 L591.30 148.79 L591.50 148.79 L591.70 148.79 L591.90 148.79 L592.10 148.79 L592.30 148.73 L592.50 148.73 L592.70 148.73 L592.90 148.73 L593.10 148.73 L593.30 148.78 L593.50 148.78 L593.70 148.78 L593.90 144.59 L594.10 143.73 L594.30 144.54 L594.50 148.72 L594.70 148.72 L594.90 148.72 L595.10 148.72 L595.30 148.89 L595.50 148.89 L595.70 148.89 L595.90 148.89 L596.10 148.89 L596.30 146.80 L596.50 146.40 L596.70 146.80 L596.90 148.75 L597.10 148.75 L597.30 148.75 L597.50 148.75 L597.70 148.75 L597.90 148.75 L598.10 148.75 L598.30 148.79 L598.50 148.79 L598.70 148.79 L598.90 148.79 L599.10 148.79 L599.30 148.76 L599.50 148.76 L599.70 148.76 L599.90 148.76 L600.10 148.76 L600.30 148.64 L600.50 148.64 L600.70 148.64 L600.90 148.64 L601.10 148.64 L601.30 148.67 L601.50 148.67 L601.70 148.67 L601.90 148.67 L602.10 148.67 L602.30 148.73 L602.50 148.73 L602.70 148.73 L602.90 148.73 L603.10 148.73 L603.30 148.68 L603.50 148.68 L603.70 148.68 L603.90 148.68 L604.10 148.68 L604.30 148.77 L604.50 148.77 L604.70 148.77 L604.90 148.77 L605.10 148.77 L605.30 148.83 L605.50 148.83 L605.70 148.83 L605.90 148.83 L606.10 148.83 L606.30 148.89 L606.50 148.89 L606.70 148.89 L606.90 148.89 L607.10 148.89 L607.30 148.80 L607.50 148.80 L607.70 148.80 L607.90 148.80 L608.10 148.80 L608.30 148.70 L608.50 148.70 L608.70 148.70 L608.90 148.70 L609.10 148.70 L609.30 148.61 L609.50 148.61 L609.70 148.61 L609.90 148.61 L610.10 148.61 L610.30 148.63 L610.50 148.63 L610.70 148.63 L610.90 148.63 L611.10 148.63 L611.30 148.73 L611.50 148.73 L611.70 148.73 L611.90 148.73 L612.10 148.73 L612.30 148.58 L612.50 148.58 L612.70 148.58 L612.90 148.58 L613.10 148.58 L613.30 148.74 L613.50 148.74 L613.70 148.74 L613.90 148.74 L614.10 148.74 L614.30 148.62 L614.50 148.62 L614.70 148.62 L614.90 148.62 L615.10 148.62 L615.30 148.76 L615.50 148.76 L615.70 148.76 L615.90 148.76 L616.10 148.76 L616.30 148.65 L616.50 148.65 L616.70 148.65 L616.90 148.65 L617.10 148.65 L617.30 148.58 L617.50 148.58 L617.70 148.58 L617.90 148.58 L618.10 148.58 L618.30 148.79 L618.50 148.79 L618.70 148.79 L618.90 148.79 L619.10 148.79 L619.30 148.84 L619.50 148.84 L619.70 148.84 L619.90 148.84 L620.10 148.84 L620.30 148.69 L620.50 148.69 L620.70 148.69 L620.90 148.69 L621.10 148.69 L621.30 148.72 L621.50 148.72 L621.70 148.72 L621.90 148.72 L622.10 148.72 L622.30 148.78 L622.50 148.78 L622.70 148.78 L622.90 148.78 L623.10 148.78 L623.30 148.89 L623.50 148.89 L623.70 148.89 L623.90 148.89 L624.10 148.89 L624.30 148.77 L624.50 148.77 L624.70 148.77 L624.90 148.77 L625.10 148.77 L625.30 148.76 L625.50 148.76 L625.70 148.76 L625.90 148.76 L626.10 148.76 L626.30 148.76 L626.50 147.19 L626.70 146.86 L626.90 147.19 L627.10 148.76 L627.30 148.62 L627.50 148.62 L627.70 148.62 L627.90 148.62 L628.10 148.62 L628.30 148.70 L628.50 148.70 L628.70 148.70 L628.90 148.70 L629.10 148.70 L629.30 148.66 L629.50 148.66 L629.70 148.66 L629.90 148.66 L630.10 148.66 L630.30 148.60 L630.50 148.60 L630.70 148.60 L630.90 148.60 L631.10 148.60 L631.30 148.65 L631.50 148.65 L631.70 148.65 L631.90 148.65 L632.10 148.65 L632.30 148.73 L632.50 148.73 L632.70 148.73 L632.90 148.73 L633.10 148.73 L633.30 148.65 L633.50 148.65 L633.70 148.65 L633.90 148.65 L634.10 148.65 L634.30 148.69 L634.50 148.69 L634.70 148.69 L634.90 148.69 L635.10 148.69 L635.30 148.68 L635.50 148.68 L635.70 148.68 L635.90 148.68 L636.10 148.68 L636.30 148.69 L636.50 148.69 L636.70 148.69 L636.90 148.69 L637.10 148.69 L637.30 148.76 L637.50 148.76 L637.70 148.76 L637.90 148.76 L638.10 148.76 L638.30 148.69 L638.50 148.69 L638.70 148.69 L638.90 148.69 L639.10 148.69 L639.30 148.69 L639.50 148.69 L639.70 148.69 L639.90 148.69 L640.10 148.69 L640.30 148.59 L640.50 148.59 L640.70 148.59 L640.90 148.59 L641.10 148.59 L641.30 148.64 L641.50 148.64 L641.70 148.64 L641.90 148.64 L642.10 148.64 L642.30 148.62 L642.50 148.62 L642.70 148.62 L642.90 148.62 L643.10 148.62 L643.30 148.65 L643.50 148.65 L643.70 148.65 L643.90 148.65 L644.10 148.65 L644.30 148.63 L644.50 148.63 L644.70 148.63 L644.90 148.63 L645.10 148.63 L645.30 148.70 L645.50 148.70 L645.70 148.70 L645.90 148.70 L646.10 148.70 L646.30 148.78 L646.50 148.78 L646.70 148.78 L646.90 148.78 L647.10 148.78 L647.30 148.81 L647.50 148.81 L647.70 148.81 L647.90 148.81 L648.10 148.81 L648.30 148.67 L648.50 148.67 L648.70 148.67 L648.90 148.67 L649.10 148.67 L649.30 148.61 L649.50 148.61 L649.70 148.61 L649.90 148.61 L650.10 148.61 L650.30 148.72 L650.50 148.72 L650.70 148.72 L650.90 148.72 L651.10 148.72 L651.30 148.84 L651.50 148.84 L651.70 148.84 L651.90 148.84 L652.10 148.84 L652.30 148.63 L652.50 148.63 L652.70 148.63 L652.90 148.63 L653.10 148.63 L653.30 148.74 L653.50 148.74 L653.70 148.74 L653.90 148.74 L654.10 148.74 L654.30 148.74 L654.50 148.74 L654.70 148.74 L654.90 148.74 L655.10 148.74 L655.30 148.88 L655.50 148.88 L655.70 148.88 L655.90 148.88 L656.10 148.88 L656.30 148.73 L656.50 148.73 L656.70 148.73 L656.90 148.73 L657.10 148.73 L657.30 148.65 L657.50 148.65 L657.70 148.65 L657.90 148.65 L658.10 148.65 L658.30 148.76 L658.50 148.76 L658.70 148.76 L658.90 148.76 L659.10 148.76 L659.30 148.78 L659.50 148.78 L659.70 148.78 L659.90 148.78 L660.10 148.78 L660.30 148.68 L660.50 148.68 L660.70 148.68 L660.90 148.68 L661.10 148.68 L661.30 148.88 L661.50 148.88 L661.70 148.88 L661.90 148.88 L662.10 148.88 L662.30 148.73 L662.50 148.73 L662.70 148.73 L662.90 148.73 L663.10 148.73 L663.30 148.59 L663.50 148.59 L663.70 148.59 L663.90 148.59 L664.10 148.59 L664.30 148.67 L664.50 148.67 L664.70 148.67 L664.90 148.67 L665.10 148.67 L665.30 148.76 L665.50 148.76 L665.70 148.76 L665.90 148.76 L666.10 148.76 L666.30 148.67 L666.50 148.67 L666.70 148.67 L666.90 148.67 L667.10 148.67 L667.30 148.70 L667.50 148.70 L667.70 148.70 L667.90 148.70 L668.10 148.70 L668.30 148.82 L668.50 148.82 L668.70 148.82 L668.90 148.82 L669.10 148.82 L669.30 148.82 L669.50 148.82 L669.70 148.82 L669.90 148.82 L670.10 148.82 L670.30 148.61 L670.50 148.61 L670.70 148.61 L670.90 148.61 L671.10 148.61 L671.30 148.81 L671.50 148.81 L671.70 148.81 L671.90 148.81 L672.10 148.81 L672.30 148.87 L672.50 148.87 L672.70 148.87 L672.90 148.87 L673.10 148.87 L673.30 148.63 L673.50 148.63 L673.70 148.63 L673.90 148.63 L674.10 148.63 L674.30 148.72 L674.50 148.72 L674.70 148.72 L674.90 148.72 L675.10 148.72 L675.30 148.77 L675.50 148.77 L675.70 148.77 L675.90 148.77 L676.10 148.77 L676.30 148.73 L676.50 148.73 L676.70 148.73 L676.90 148.73 L677.10 148.73 L677.30 148.66 L677.50 148.66 L677.70 148.66 L677.90 148.66 L678.10 148.66 L678.30 148.84 L678.50 148.84 L678.70 148.84 L678.90 148.84 L679.10 148.84 L679.30 148.68 L679.50 148.68 L679.70 148.68 L679.90 148.68 L680.10 148.68 L680.30 148.66 L680.50 148.66 L680.70 148.66 L680.90 148.66 L681.10 148.66 L681.30 148.63 L681.50 148.63 L681.70 148.63 L681.90 148.63 L682.10 148.63 L682.30 148.80 L682.50 148.80 L682.70 148.80 L682.90 148.80 L683.10 148.80 L683.30 148.70 L683.50 148.70 L683.70 148.70 L683.90 148.70 L684.10 148.70 L684.30 148.82 L684.50 148.82 L684.70 148.82 L684.90 148.82 L685.10 148.82 L685.30 148.71 L685.50 148.71 L685.70 148.71 L685.90 148.71 L686.10 148.71 L686.30 148.84 L686.50 148.84 L686.70 148.84 L686.90 148.84 L687.10 148.84 L687.30 148.64 L687.50 148.64 L687.70 148.64 L687.90 148.64 L688.10 148.64 L688.30 148.61 L688.50 148.61 L688.70 148.61 L688.90 148.61 L689.10 148.61 L689.30 148.79 L689.50 148.79 L689.70 148.79 L689.90 148.79 L690.10 148.79 L690.30 148.82 L690.50 148.82 L690.70 148.82 L690.90 148.82 L691.10 148.82 L691.30 148.58 L691.50 148.58 L691.70 148.58 L691.90 148.58 L692.10 148.58 L692.30 148.67 L692.50 148.67 L692.70 148.67 L692.90 148.67 L693.10 148.67 L693.30 148.62 L693.50 148.62 L693.70 148.62 L693.90 148.62 L694.10 148.62 L694.30 148.88 L694.50 148.88 L694.70 148.88 L694.90 148.88 L695.10 148.88 L695.30 148.60 L695.50 148.60 L695.70 148.60 L695.90 148.60 L696.10 148.60 L696.30 148.69 L696.50 148.69 L696.70 148.69 L696.90 148.69 L697.10 148.69 L697.30 148.79 L697.50 148.79 L697.70 148.79 L697.90 148.79"/>
<text class="pk" transform="translate(231.0 101.0) rotate(-45)">D-limonene</text>
<text class="pk" transform="translate(252.5 38.0) rotate(-45)">Heptanal</text>
<text class="pk" transform="translate(354.3 35.0) rotate(-45)">Nonanal</text>
<text class="pk" transform="translate(426.0 56.5) rotate(-45)">Decanal</text>
<text class="pk" transform="translate(481.0 110.0) rotate(-45)">Hexenal</text>
<path class="ax" d="M662 48.2 H699.7"/>
<text class="b" font-size="16.7" x="704.6" y="53.3">day0</text>
<path class="ax" d="M60.00 227.90 V356.90 M55.50 228.70 H60.00 M51.50 356.90 H747.00 M50.50 345.70 H60.00 M50.50 324.20 H60.00 M50.50 302.70 H60.00 M50.50 281.20 H60.00 M50.50 259.70 H60.00 M50.50 238.20 H60.00 M55.50 334.95 H60.00 M55.50 313.45 H60.00 M55.50 291.95 H60.00 M55.50 270.45 H60.00 M55.50 248.95 H60.00 M60.00 356.90 v8.3 M184.54 356.90 v8.3 M309.08 356.90 v8.3 M433.62 356.90 v8.3 M558.16 356.90 v8.3 M682.70 356.90 v8.3 M122.27 356.90 v4.5 M246.81 356.90 v4.5 M371.35 356.90 v4.5 M495.89 356.90 v4.5 M620.43 356.90 v4.5 M746.20 356.90 v4.5 "/>
<text class="tk" x="46.5" y="351.9" text-anchor="end">0</text>
<text class="tk" x="46.5" y="330.4" text-anchor="end">20</text>
<text class="tk" x="46.5" y="308.9" text-anchor="end">40</text>
<text class="tk" x="46.5" y="287.4" text-anchor="end">60</text>
<text class="tk" x="46.5" y="265.9" text-anchor="end">80</text>
<text class="tk" x="46.5" y="244.4" text-anchor="end">100</text>
<text class="tkx" x="59.4" y="383.2" text-anchor="middle">0</text>
<text class="tkx" x="183.9" y="383.2" text-anchor="middle">10</text>
<text class="tkx" x="308.5" y="383.2" text-anchor="middle">20</text>
<text class="tkx" x="433.0" y="383.2" text-anchor="middle">30</text>
<text class="tkx" x="557.6" y="383.2" text-anchor="middle">40</text>
<text class="tkx" x="682.1" y="383.2" text-anchor="middle">50</text>
<text class="b" font-size="17.30" text-anchor="middle" transform="translate(12.8 294.8) rotate(-90)">Relative abundance</text>
<text class="b" font-size="21" x="68.0" y="233.2">(b)</text>
<path class="tr" d="M92.20 344.31 L92.40 344.32 L92.60 344.32 L92.80 344.32 L93.00 344.32 L93.20 344.33 L93.40 344.33 L93.60 344.34 L93.80 344.34 L94.00 344.34 L94.20 344.75 L94.40 344.75 L94.60 344.75 L94.80 344.75 L95.00 344.76 L95.20 344.75 L95.40 344.75 L95.60 344.75 L95.80 343.03 L96.00 342.68 L96.20 342.70 L96.40 344.42 L96.60 344.42 L96.80 344.43 L97.00 344.43 L97.20 344.48 L97.40 344.48 L97.60 344.48 L97.80 344.48 L98.00 342.42 L98.20 342.02 L98.40 342.45 L98.60 344.52 L98.80 344.52 L99.00 344.53 L99.20 344.69 L99.40 344.69 L99.60 344.70 L99.80 344.70 L100.00 344.70 L100.20 344.57 L100.40 290.44 L100.60 282.44 L100.80 290.44 L101.00 336.84 L101.20 337.75 L101.40 338.55 L101.60 339.26 L101.80 339.89 L102.00 340.44 L102.20 340.94 L102.40 341.38 L102.60 341.76 L102.80 342.09 L103.00 342.39 L103.20 342.85 L103.40 343.08 L103.60 343.28 L103.80 343.46 L104.00 343.62 L104.20 343.64 L104.40 343.77 L104.60 343.88 L104.80 343.98 L105.00 344.06 L105.20 344.16 L105.40 344.22 L105.60 344.28 L105.80 344.34 L106.00 344.38 L106.20 344.28 L106.40 344.31 L106.60 344.35 L106.80 344.38 L107.00 344.40 L107.20 344.30 L107.40 344.32 L107.60 344.34 L107.80 344.36 L108.00 344.37 L108.20 344.41 L108.40 344.42 L108.60 344.43 L108.80 344.44 L109.00 344.45 L109.20 344.64 L109.40 344.65 L109.60 344.65 L109.80 344.66 L110.00 344.66 L110.20 344.71 L110.40 344.72 L110.60 344.72 L110.80 344.73 L111.00 344.73 L111.20 344.81 L111.40 344.82 L111.60 344.82 L111.80 344.82 L112.00 344.83 L112.20 344.93 L112.40 344.94 L112.60 344.94 L112.80 344.94 L113.00 344.95 L113.20 344.95 L113.40 344.95 L113.60 344.96 L113.80 344.96 L114.00 344.96 L114.20 344.76 L114.40 344.76 L114.60 344.77 L114.80 344.77 L115.00 344.77 L115.20 344.84 L115.40 344.84 L115.60 344.84 L115.80 344.84 L116.00 344.84 L116.20 344.82 L116.40 344.82 L116.60 344.82 L116.80 344.82 L117.00 344.82 L117.20 344.59 L117.40 344.59 L117.60 344.59 L117.80 344.60 L118.00 344.60 L118.20 344.76 L118.40 344.77 L118.60 344.77 L118.80 344.77 L119.00 344.77 L119.20 344.76 L119.40 344.76 L119.60 344.76 L119.80 344.76 L120.00 344.76 L120.20 344.91 L120.40 344.91 L120.60 344.91 L120.80 344.91 L121.00 344.91 L121.20 345.01 L121.40 345.01 L121.60 345.01 L121.80 345.01 L122.00 345.02 L122.20 344.88 L122.40 344.88 L122.60 344.88 L122.80 344.89 L123.00 344.89 L123.20 344.97 L123.40 344.97 L123.60 344.98 L123.80 344.98 L124.00 344.98 L124.20 344.81 L124.40 344.81 L124.60 344.81 L124.80 344.81 L125.00 344.81 L125.20 344.60 L125.40 344.60 L125.60 344.60 L125.80 344.60 L126.00 344.60 L126.20 344.75 L126.40 344.75 L126.60 344.75 L126.80 344.75 L127.00 344.75 L127.20 344.98 L127.40 344.98 L127.60 344.98 L127.80 344.98 L128.00 344.98 L128.20 344.66 L128.40 344.66 L128.60 344.66 L128.80 344.66 L129.00 344.66 L129.20 344.71 L129.40 344.71 L129.60 344.71 L129.80 344.71 L130.00 344.71 L130.20 344.74 L130.40 344.74 L130.60 344.74 L130.80 344.75 L131.00 344.75 L131.20 344.67 L131.40 344.67 L131.60 344.67 L131.80 344.67 L132.00 344.67 L132.20 344.74 L132.40 344.74 L132.60 344.74 L132.80 344.74 L133.00 344.74 L133.20 344.73 L133.40 344.73 L133.60 344.73 L133.80 344.74 L134.00 344.74 L134.20 344.93 L134.40 344.93 L134.60 344.94 L134.80 344.94 L135.00 344.94 L135.20 344.66 L135.40 344.66 L135.60 344.66 L135.80 344.66 L136.00 344.66 L136.20 344.67 L136.40 344.67 L136.60 344.67 L136.80 344.67 L137.00 344.67 L137.20 345.03 L137.40 345.04 L137.60 345.04 L137.80 345.04 L138.00 345.04 L138.20 344.77 L138.40 344.77 L138.60 344.77 L138.80 344.77 L139.00 344.77 L139.20 344.79 L139.40 344.79 L139.60 344.79 L139.80 344.80 L140.00 339.60 L140.20 306.77 L140.40 302.06 L140.60 306.77 L140.80 339.72 L141.00 342.85 L141.20 343.50 L141.40 343.96 L141.60 344.26 L141.80 344.47 L142.00 344.61 L142.20 344.72 L142.40 344.78 L142.60 344.82 L142.80 344.85 L143.00 344.87 L143.20 344.69 L143.40 344.70 L143.60 344.70 L143.80 344.71 L144.00 344.71 L144.20 344.91 L144.40 344.91 L144.60 344.91 L144.80 344.91 L145.00 344.91 L145.20 344.76 L145.40 344.76 L145.60 344.76 L145.80 344.77 L146.00 344.77 L146.20 344.98 L146.40 344.98 L146.60 344.98 L146.80 344.98 L147.00 344.99 L147.20 344.75 L147.40 344.75 L147.60 344.75 L147.80 344.75 L148.00 344.75 L148.20 344.74 L148.40 344.74 L148.60 344.74 L148.80 344.74 L149.00 344.75 L149.20 344.94 L149.40 344.94 L149.60 344.95 L149.80 344.95 L150.00 344.95 L150.20 344.90 L150.40 342.37 L150.60 340.61 L150.80 339.90 L151.00 339.78 L151.20 339.74 L151.40 340.46 L151.60 342.22 L151.80 342.39 L152.00 342.54 L152.20 342.78 L152.40 342.91 L152.60 343.03 L152.80 343.15 L153.00 343.26 L153.20 343.47 L153.40 343.56 L153.60 343.65 L153.80 343.74 L154.00 343.82 L154.20 344.01 L154.40 344.08 L154.60 344.14 L154.80 344.20 L155.00 344.26 L155.20 344.27 L155.40 344.32 L155.60 344.36 L155.80 344.40 L156.00 344.45 L156.20 344.31 L156.40 344.35 L156.60 344.38 L156.80 344.41 L157.00 344.44 L157.20 344.71 L157.40 344.74 L157.60 344.76 L157.80 344.78 L158.00 344.80 L158.20 344.49 L158.40 344.51 L158.60 344.53 L158.80 344.54 L159.00 344.56 L159.20 344.86 L159.40 344.87 L159.60 344.89 L159.80 344.90 L160.00 344.91 L160.20 344.63 L160.40 344.64 L160.60 344.65 L160.80 344.66 L161.00 344.66 L161.20 344.94 L161.40 344.95 L161.60 344.96 L161.80 344.96 L162.00 344.97 L162.20 344.68 L162.40 344.69 L162.60 344.69 L162.80 344.70 L163.00 344.70 L163.20 344.87 L163.40 344.87 L163.60 344.87 L163.80 344.87 L164.00 328.63 L164.20 325.80 L164.40 328.72 L164.60 340.49 L164.80 341.01 L165.00 341.48 L165.20 341.88 L165.40 342.25 L165.60 342.56 L165.80 342.85 L166.00 343.10 L166.20 343.26 L166.40 343.45 L166.60 343.62 L166.80 343.77 L167.00 343.91 L167.20 344.05 L167.40 344.16 L167.60 344.25 L167.80 344.33 L168.00 344.40 L168.20 344.59 L168.40 344.64 L168.60 344.69 L168.80 344.74 L169.00 344.78 L169.20 344.86 L169.40 344.89 L169.60 344.91 L169.80 344.94 L170.00 344.96 L170.20 344.84 L170.40 344.85 L170.60 343.38 L170.80 342.08 L171.00 341.87 L171.20 341.91 L171.40 343.23 L171.60 344.73 L171.80 344.74 L172.00 344.74 L172.20 344.89 L172.40 344.89 L172.60 344.90 L172.80 344.90 L173.00 344.90 L173.20 345.16 L173.40 345.16 L173.60 345.16 L173.80 345.16 L174.00 345.16 L174.20 344.83 L174.40 344.83 L174.60 344.83 L174.80 344.83 L175.00 344.84 L175.20 344.88 L175.40 344.88 L175.60 344.88 L175.80 344.88 L176.00 344.88 L176.20 344.80 L176.40 344.81 L176.60 344.81 L176.80 344.81 L177.00 344.81 L177.20 345.13 L177.40 345.13 L177.60 345.13 L177.80 345.13 L178.00 345.13 L178.20 344.88 L178.40 344.88 L178.60 344.88 L178.80 344.88 L179.00 344.88 L179.20 345.19 L179.40 345.19 L179.60 345.19 L179.80 345.19 L180.00 345.19 L180.20 344.93 L180.40 344.93 L180.60 344.93 L180.80 344.93 L181.00 344.93 L181.20 345.10 L181.40 345.10 L181.60 345.10 L181.80 345.10 L182.00 345.10 L182.20 345.12 L182.40 345.12 L182.60 345.12 L182.80 345.12 L183.00 345.12 L183.20 344.83 L183.40 343.45 L183.60 343.17 L183.80 343.46 L184.00 344.83 L184.20 345.18 L184.40 345.18 L184.60 345.18 L184.80 345.18 L185.00 345.18 L185.20 344.99 L185.40 344.99 L185.60 344.99 L185.80 344.99 L186.00 344.99 L186.20 344.84 L186.40 344.84 L186.60 344.84 L186.80 344.84 L187.00 344.85 L187.20 345.12 L187.40 345.12 L187.60 345.12 L187.80 345.12 L188.00 345.12 L188.20 345.14 L188.40 345.14 L188.60 345.14 L188.80 345.14 L189.00 345.14 L189.20 344.84 L189.40 344.84 L189.60 344.84 L189.80 344.84 L190.00 344.84 L190.20 345.04 L190.40 345.04 L190.60 345.04 L190.80 345.04 L191.00 345.04 L191.20 344.91 L191.40 344.91 L191.60 344.91 L191.80 344.91 L192.00 344.91 L192.20 345.22 L192.40 345.22 L192.60 345.22 L192.80 345.22 L193.00 345.22 L193.20 345.07 L193.40 345.07 L193.60 345.07 L193.80 345.07 L194.00 345.08 L194.20 345.16 L194.40 345.16 L194.60 345.16 L194.80 345.16 L195.00 345.16 L195.20 344.94 L195.40 344.94 L195.60 344.94 L195.80 344.94 L196.00 344.94 L196.20 345.20 L196.40 345.20 L196.60 345.20 L196.80 345.20 L197.00 345.20 L197.20 344.81 L197.40 344.81 L197.60 344.81 L197.80 344.81 L198.00 344.81 L198.20 345.23 L198.40 345.23 L198.60 345.23 L198.80 345.23 L199.00 345.23 L199.20 344.91 L199.40 344.91 L199.60 344.91 L199.80 344.92 L200.00 344.92 L200.20 345.24 L200.40 345.24 L200.60 345.24 L200.80 345.24 L201.00 345.24 L201.20 345.13 L201.40 345.13 L201.60 345.13 L201.80 345.13 L202.00 345.13 L202.20 344.88 L202.40 344.88 L202.60 344.88 L202.80 344.88 L203.00 344.88 L203.20 345.18 L203.40 345.18 L203.60 345.18 L203.80 345.18 L204.00 345.18 L204.20 345.17 L204.40 345.17 L204.60 345.17 L204.80 345.17 L205.00 345.17 L205.20 344.94 L205.40 344.94 L205.60 344.94 L205.80 344.94 L206.00 344.94 L206.20 345.08 L206.40 345.08 L206.60 345.08 L206.80 345.08 L207.00 345.08 L207.20 345.23 L207.40 345.23 L207.60 345.23 L207.80 345.23 L208.00 345.23 L208.20 344.80 L208.40 344.80 L208.60 344.80 L208.80 343.17 L209.00 342.83 L209.20 343.55 L209.40 345.18 L209.60 345.18 L209.80 345.18 L210.00 345.18 L210.20 345.24 L210.40 345.24 L210.60 345.24 L210.80 345.24 L211.00 345.24 L211.20 345.10 L211.40 345.10 L211.60 345.10 L211.80 345.10 L212.00 345.10 L212.20 344.98 L212.40 344.98 L212.60 344.98 L212.80 344.98 L213.00 344.98 L213.20 344.92 L213.40 344.92 L213.60 344.92 L213.80 344.92 L214.00 344.92 L214.20 345.20 L214.40 345.20 L214.60 345.20 L214.80 345.20 L215.00 345.20 L215.20 345.10 L215.40 345.10 L215.60 345.10 L215.80 345.10 L216.00 345.10 L216.20 345.24 L216.40 345.24 L216.60 345.24 L216.80 345.24 L217.00 345.24 L217.20 345.05 L217.40 345.05 L217.60 345.05 L217.80 345.06 L218.00 345.06 L218.20 344.91 L218.40 344.91 L218.60 340.58 L218.80 336.76 L219.00 336.12 L219.20 336.78 L219.40 340.59 L219.60 344.92 L219.80 344.92 L220.00 344.92 L220.20 344.85 L220.40 344.85 L220.60 344.85 L220.80 344.85 L221.00 344.85 L221.20 344.92 L221.40 344.92 L221.60 344.92 L221.80 344.92 L222.00 344.92 L222.20 344.87 L222.40 344.87 L222.60 344.87 L222.80 344.87 L223.00 344.87 L223.20 344.94 L223.40 344.94 L223.60 344.94 L223.80 344.94 L224.00 344.94 L224.20 345.05 L224.40 345.05 L224.60 345.05 L224.80 345.05 L225.00 345.05 L225.20 345.16 L225.40 339.53 L225.60 334.58 L225.80 333.75 L226.00 334.58 L226.20 339.33 L226.40 344.96 L226.60 344.96 L226.80 344.96 L227.00 344.96 L227.20 345.12 L227.40 345.12 L227.60 345.12 L227.80 345.12 L228.00 345.12 L228.20 345.22 L228.40 345.22 L228.60 345.22 L228.80 345.22 L229.00 345.22 L229.20 342.30 L229.40 341.72 L229.60 342.30 L229.80 345.06 L230.00 345.06 L230.20 344.87 L230.40 344.87 L230.60 344.87 L230.80 344.87 L231.00 344.87 L231.20 345.21 L231.40 345.21 L231.60 345.21 L231.80 345.21 L232.00 345.21 L232.20 345.00 L232.40 345.00 L232.60 345.00 L232.80 345.00 L233.00 345.00 L233.20 345.09 L233.40 345.09 L233.60 345.09 L233.80 345.09 L234.00 345.09 L234.20 345.03 L234.40 345.03 L234.60 345.03 L234.80 345.03 L235.00 345.03 L235.20 345.20 L235.40 345.20 L235.60 345.20 L235.80 345.20 L236.00 345.20 L236.20 344.83 L236.40 344.83 L236.60 344.83 L236.80 344.83 L237.00 344.83 L237.20 345.15 L237.40 345.15 L237.60 345.15 L237.80 345.15 L238.00 345.15 L238.20 344.99 L238.40 344.99 L238.60 344.99 L238.80 344.99 L239.00 344.99 L239.20 345.08 L239.40 345.08 L239.60 345.08 L239.80 345.08 L240.00 345.08 L240.20 345.26 L240.40 345.26 L240.60 345.26 L240.80 345.26 L241.00 345.26 L241.20 345.02 L241.40 345.02 L241.60 345.02 L241.80 345.02 L242.00 345.02 L242.20 345.20 L242.40 345.20 L242.60 345.20 L242.80 345.20 L243.00 345.20 L243.20 345.24 L243.40 345.24 L243.60 345.24 L243.80 345.24 L244.00 345.24 L244.20 345.25 L244.40 345.25 L244.60 345.25 L244.80 345.25 L245.00 345.25 L245.20 345.20 L245.40 345.20 L245.60 345.20 L245.80 345.20 L246.00 345.20 L246.20 345.23 L246.40 345.23 L246.60 345.23 L246.80 345.23 L247.00 345.23 L247.20 344.98 L247.40 344.98 L247.60 344.98 L247.80 344.98 L248.00 304.14 L248.20 284.79 L248.40 281.54 L248.60 284.79 L248.80 304.19 L249.00 345.04 L249.20 344.83 L249.40 344.83 L249.60 344.83 L249.80 344.83 L250.00 344.83 L250.20 344.85 L250.40 344.85 L250.60 344.85 L250.80 344.85 L251.00 344.85 L251.20 344.82 L251.40 344.82 L251.60 344.82 L251.80 344.82 L252.00 344.82 L252.20 345.17 L252.40 345.17 L252.60 345.17 L252.80 345.17 L253.00 345.17 L253.20 345.07 L253.40 345.07 L253.60 345.07 L253.80 345.07 L254.00 345.07 L254.20 345.16 L254.40 345.16 L254.60 345.16 L254.80 345.16 L255.00 345.16 L255.20 345.00 L255.40 345.00 L255.60 345.00 L255.80 345.00 L256.00 345.00 L256.20 344.99 L256.40 344.99 L256.60 344.99 L256.80 344.99 L257.00 344.99 L257.20 344.91 L257.40 344.91 L257.60 344.91 L257.80 344.91 L258.00 344.91 L258.20 344.95 L258.40 344.95 L258.60 344.95 L258.80 344.95 L259.00 344.95 L259.20 345.16 L259.40 345.16 L259.60 345.16 L259.80 345.16 L260.00 345.16 L260.20 345.08 L260.40 345.08 L260.60 345.08 L260.80 345.08 L261.00 345.08 L261.20 345.04 L261.40 345.04 L261.60 345.04 L261.80 345.04 L262.00 345.04 L262.20 345.27 L262.40 345.27 L262.60 345.27 L262.80 345.27 L263.00 345.27 L263.20 345.26 L263.40 345.26 L263.60 345.26 L263.80 345.26 L264.00 345.26 L264.20 345.09 L264.40 345.09 L264.60 345.09 L264.80 345.09 L265.00 345.09 L265.20 345.22 L265.40 345.22 L265.60 345.22 L265.80 345.22 L266.00 345.22 L266.20 344.95 L266.40 344.95 L266.60 344.95 L266.80 344.95 L267.00 344.95 L267.20 345.17 L267.40 345.17 L267.60 345.17 L267.80 345.17 L268.00 345.17 L268.20 345.23 L268.40 345.23 L268.60 345.23 L268.80 345.23 L269.00 345.23 L269.20 345.19 L269.40 345.19 L269.60 345.19 L269.80 345.19 L270.00 345.19 L270.20 345.17 L270.40 345.17 L270.60 345.17 L270.80 345.17 L271.00 345.17 L271.20 345.18 L271.40 345.18 L271.60 345.18 L271.80 345.18 L272.00 345.18 L272.20 345.04 L272.40 345.04 L272.60 345.04 L272.80 345.04 L273.00 345.04 L273.20 345.07 L273.40 345.07 L273.60 345.07 L273.80 345.07 L274.00 345.07 L274.20 345.14 L274.40 345.14 L274.60 345.14 L274.80 345.14 L275.00 345.14 L275.20 344.99 L275.40 344.99 L275.60 344.99 L275.80 344.99 L276.00 344.99 L276.20 345.18 L276.40 345.18 L276.60 345.18 L276.80 345.18 L277.00 345.18 L277.20 344.87 L277.40 344.87 L277.60 344.87 L277.80 344.87 L278.00 344.87 L278.20 344.84 L278.40 344.84 L278.60 344.84 L278.80 344.84 L279.00 344.84 L279.20 344.95 L279.40 344.95 L279.60 344.95 L279.80 344.95 L280.00 344.95 L280.20 345.08 L280.40 345.08 L280.60 345.08 L280.80 345.08 L281.00 345.08 L281.20 345.05 L281.40 345.05 L281.60 345.05 L281.80 345.05 L282.00 345.05 L282.20 345.01 L282.40 345.01 L282.60 345.01 L282.80 345.01 L283.00 345.01 L283.20 345.25 L283.40 345.25 L283.60 345.25 L283.80 345.25 L284.00 345.25 L284.20 339.98 L284.40 338.92 L284.60 339.98 L284.80 345.09 L285.00 345.09 L285.20 345.04 L285.40 345.04 L285.60 345.04 L285.80 345.04 L286.00 345.04 L286.20 345.19 L286.40 345.19 L286.60 345.19 L286.80 345.19 L287.00 345.19 L287.20 345.23 L287.40 345.23 L287.60 345.23 L287.80 345.23 L288.00 345.23 L288.20 344.91 L288.40 344.91 L288.60 344.91 L288.80 344.91 L289.00 344.91 L289.20 345.11 L289.40 345.11 L289.60 345.11 L289.80 345.11 L290.00 345.11 L290.20 345.04 L290.40 345.04 L290.60 345.04 L290.80 345.04 L291.00 345.04 L291.20 344.86 L291.40 344.86 L291.60 344.86 L291.80 344.86 L292.00 344.86 L292.20 345.00 L292.40 345.00 L292.60 345.00 L292.80 345.00 L293.00 345.00 L293.20 345.15 L293.40 345.15 L293.60 345.15 L293.80 345.15 L294.00 345.15 L294.20 344.83 L294.40 344.83 L294.60 344.83 L294.80 344.83 L295.00 344.83 L295.20 345.11 L295.40 345.11 L295.60 345.11 L295.80 345.11 L296.00 345.11 L296.20 345.27 L296.40 345.27 L296.60 345.27 L296.80 345.27 L297.00 345.27 L297.20 344.97 L297.40 344.97 L297.60 344.97 L297.80 344.97 L298.00 344.97 L298.20 345.23 L298.40 345.23 L298.60 345.23 L298.80 342.29 L299.00 341.68 L299.20 342.20 L299.40 345.14 L299.60 345.14 L299.80 345.14 L300.00 345.14 L300.20 344.90 L300.40 344.90 L300.60 344.90 L300.80 344.90 L301.00 344.90 L301.20 344.97 L301.40 344.97 L301.60 344.97 L301.80 344.97 L302.00 344.97 L302.20 345.27 L302.40 345.27 L302.60 345.27 L302.80 345.27 L303.00 345.27 L303.20 345.07 L303.40 345.07 L303.60 345.07 L303.80 345.07 L304.00 345.07 L304.20 345.09 L304.40 345.09 L304.60 345.09 L304.80 345.09 L305.00 345.09 L305.20 345.06 L305.40 345.06 L305.60 343.68 L305.80 343.40 L306.00 343.68 L306.20 345.18 L306.40 345.18 L306.60 345.18 L306.80 345.18 L307.00 345.18 L307.20 345.01 L307.40 345.01 L307.60 345.01 L307.80 345.01 L308.00 345.01 L308.20 345.25 L308.40 345.25 L308.60 345.25 L308.80 345.25 L309.00 345.25 L309.20 345.15 L309.40 345.15 L309.60 345.15 L309.80 345.15 L310.00 345.15 L310.20 345.11 L310.40 345.11 L310.60 345.11 L310.80 345.11 L311.00 345.11 L311.20 344.86 L311.40 344.86 L311.60 344.86 L311.80 344.86 L312.00 344.86 L312.20 345.24 L312.40 345.24 L312.60 345.24 L312.80 345.24 L313.00 345.24 L313.20 344.94 L313.40 344.94 L313.60 344.94 L313.80 344.94 L314.00 344.94 L314.20 345.19 L314.40 345.19 L314.60 345.19 L314.80 345.19 L315.00 345.19 L315.20 345.02 L315.40 345.02 L315.60 345.02 L315.80 345.02 L316.00 345.02 L316.20 345.10 L316.40 345.10 L316.60 345.10 L316.80 345.10 L317.00 345.10 L317.20 345.07 L317.40 345.07 L317.60 345.07 L317.80 345.07 L318.00 345.07 L318.20 344.94 L318.40 344.94 L318.60 344.94 L318.80 344.94 L319.00 344.94 L319.20 345.10 L319.40 345.10 L319.60 345.10 L319.80 345.10 L320.00 345.10 L320.20 345.22 L320.40 345.22 L320.60 345.22 L320.80 345.22 L321.00 345.22 L321.20 345.22 L321.40 345.22 L321.60 345.22 L321.80 345.22 L322.00 345.22 L322.20 345.24 L322.40 345.24 L322.60 345.24 L322.80 345.24 L323.00 345.24 L323.20 344.90 L323.40 344.90 L323.60 344.90 L323.80 344.90 L324.00 344.90 L324.20 344.99 L324.40 344.99 L324.60 344.99 L324.80 344.99 L325.00 344.99 L325.20 344.85 L325.40 344.85 L325.60 344.85 L325.80 344.85 L326.00 344.85 L326.20 344.97 L326.40 344.97 L326.60 344.97 L326.80 344.97 L327.00 344.97 L327.20 345.27 L327.40 345.27 L327.60 345.27 L327.80 345.27 L328.00 345.27 L328.20 344.98 L328.40 344.98 L328.60 344.98 L328.80 344.98 L329.00 344.98 L329.20 344.93 L329.40 344.93 L329.60 344.93 L329.80 344.93 L330.00 344.97 L330.20 344.99 L330.40 344.99 L330.60 344.99 L330.80 344.99 L331.00 344.99 L331.20 345.05 L331.40 345.05 L331.60 345.05 L331.80 345.05 L332.00 345.05 L332.20 345.10 L332.40 345.10 L332.60 345.10 L332.80 345.10 L333.00 345.10 L333.20 345.07 L333.40 345.07 L333.60 345.07 L333.80 345.07 L334.00 345.07 L334.20 344.96 L334.40 344.96 L334.60 344.96 L334.80 344.96 L335.00 344.96 L335.20 345.12 L335.40 345.12 L335.60 345.12 L335.80 345.12 L336.00 345.12 L336.20 345.05 L336.40 345.05 L336.60 345.05 L336.80 345.05 L337.00 345.05 L337.20 345.06 L337.40 345.06 L337.60 345.06 L337.80 345.06 L338.00 345.06 L338.20 344.92 L338.40 344.92 L338.60 344.92 L338.80 344.92 L339.00 344.92 L339.20 343.59 L339.40 343.30 L339.60 343.59 L339.80 344.96 L340.00 344.96 L340.20 344.92 L340.40 344.92 L340.60 344.92 L340.80 344.92 L341.00 344.92 L341.20 344.95 L341.40 344.95 L341.60 344.95 L341.80 344.95 L342.00 344.95 L342.20 345.12 L342.40 345.12 L342.60 345.12 L342.80 345.12 L343.00 345.12 L343.20 345.13 L343.40 345.13 L343.60 345.13 L343.80 345.13 L344.00 345.13 L344.20 345.06 L344.40 345.06 L344.60 345.06 L344.80 345.06 L345.00 345.06 L345.20 345.13 L345.40 345.13 L345.60 345.13 L345.80 345.13 L346.00 345.13 L346.20 345.08 L346.40 307.53 L346.60 289.70 L346.80 286.71 L347.00 289.70 L347.20 307.46 L347.40 345.00 L347.60 345.00 L347.80 345.00 L348.00 345.00 L348.20 344.93 L348.40 344.93 L348.60 344.93 L348.80 344.93 L349.00 344.93 L349.20 345.03 L349.40 345.03 L349.60 345.03 L349.80 345.03 L350.00 345.03 L350.20 344.96 L350.40 344.96 L350.60 344.96 L350.80 344.96 L351.00 344.96 L351.20 345.18 L351.40 345.18 L351.60 345.18 L351.80 345.18 L352.00 345.18 L352.20 345.10 L352.40 345.10 L352.60 345.10 L352.80 345.10 L353.00 345.10 L353.20 344.90 L353.40 344.90 L353.60 344.90 L353.80 344.90 L354.00 344.90 L354.20 345.16 L354.40 345.16 L354.60 345.16 L354.80 345.16 L355.00 345.16 L355.20 345.08 L355.40 345.08 L355.60 345.08 L355.80 345.08 L356.00 345.08 L356.20 345.18 L356.40 345.18 L356.60 345.18 L356.80 345.18 L357.00 345.18 L357.20 345.18 L357.40 345.18 L357.60 345.18 L357.80 345.18 L358.00 345.18 L358.20 344.94 L358.40 344.94 L358.60 344.94 L358.80 344.94 L359.00 344.94 L359.20 344.91 L359.40 344.91 L359.60 344.91 L359.80 344.91 L360.00 344.91 L360.20 345.01 L360.40 345.01 L360.60 345.01 L360.80 345.01 L361.00 345.01 L361.20 345.17 L361.40 345.17 L361.60 345.17 L361.80 345.17 L362.00 345.17 L362.20 345.12 L362.40 345.12 L362.60 345.12 L362.80 345.12 L363.00 345.12 L363.20 345.14 L363.40 345.14 L363.60 345.14 L363.80 345.14 L364.00 345.14 L364.20 345.00 L364.40 345.00 L364.60 345.00 L364.80 345.00 L365.00 345.00 L365.20 345.00 L365.40 345.00 L365.60 345.00 L365.80 345.00 L366.00 345.00 L366.20 345.07 L366.40 345.07 L366.60 345.07 L366.80 345.07 L367.00 345.07 L367.20 345.05 L367.40 345.05 L367.60 345.05 L367.80 345.05 L368.00 345.05 L368.20 345.17 L368.40 345.17 L368.60 345.17 L368.80 345.17 L369.00 345.17 L369.20 345.04 L369.40 345.04 L369.60 345.04 L369.80 345.04 L370.00 345.04 L370.20 344.92 L370.40 344.92 L370.60 344.92 L370.80 344.92 L371.00 344.92 L371.20 344.98 L371.40 344.98 L371.60 344.98 L371.80 344.98 L372.00 344.98 L372.20 345.18 L372.40 345.18 L372.60 345.18 L372.80 345.18 L373.00 345.18 L373.20 345.05 L373.40 345.05 L373.60 345.05 L373.80 345.05 L374.00 345.05 L374.20 344.99 L374.40 344.99 L374.60 344.99 L374.80 344.99 L375.00 344.99 L375.20 345.13 L375.40 345.13 L375.60 341.32 L375.80 340.53 L376.00 341.32 L376.20 344.94 L376.40 344.94 L376.60 344.94 L376.80 344.94 L377.00 344.94 L377.20 345.07 L377.40 345.07 L377.60 345.07 L377.80 345.07 L378.00 345.07 L378.20 344.99 L378.40 344.99 L378.60 344.99 L378.80 344.99 L379.00 344.99 L379.20 345.08 L379.40 345.08 L379.60 345.08 L379.80 345.08 L380.00 345.08 L380.20 344.91 L380.40 344.91 L380.60 344.91 L380.80 344.91 L381.00 344.91 L381.20 344.97 L381.40 344.97 L381.60 344.97 L381.80 344.97 L382.00 344.97 L382.20 345.03 L382.40 345.03 L382.60 345.03 L382.80 345.03 L383.00 345.03 L383.20 345.16 L383.40 345.16 L383.60 345.16 L383.80 343.79 L384.00 343.50 L384.20 343.70 L384.40 345.07 L384.60 345.07 L384.80 345.07 L385.00 345.07 L385.20 345.20 L385.40 345.20 L385.60 345.20 L385.80 345.20 L386.00 345.20 L386.20 345.03 L386.40 345.03 L386.60 345.03 L386.80 345.03 L387.00 345.03 L387.20 344.94 L387.40 344.94 L387.60 344.94 L387.80 344.94 L388.00 344.94 L388.20 345.15 L388.40 345.15 L388.60 345.15 L388.80 345.15 L389.00 345.15 L389.20 345.05 L389.40 345.05 L389.60 345.05 L389.80 345.05 L390.00 345.05 L390.20 345.06 L390.40 345.06 L390.60 345.06 L390.80 345.06 L391.00 345.06 L391.20 345.08 L391.40 345.08 L391.60 345.08 L391.80 345.08 L392.00 345.08 L392.20 344.99 L392.40 344.99 L392.60 344.99 L392.80 344.99 L393.00 344.99 L393.20 344.92 L393.40 344.92 L393.60 344.92 L393.80 344.92 L394.00 344.92 L394.20 344.99 L394.40 344.99 L394.60 344.99 L394.80 344.99 L395.00 344.99 L395.20 345.06 L395.40 345.06 L395.60 345.06 L395.80 345.06 L396.00 345.06 L396.20 344.92 L396.40 344.92 L396.60 344.92 L396.80 344.92 L397.00 344.92 L397.20 345.11 L397.40 345.11 L397.60 345.11 L397.80 345.11 L398.00 345.11 L398.20 344.98 L398.40 344.98 L398.60 344.98 L398.80 344.98 L399.00 344.98 L399.20 345.01 L399.40 345.01 L399.60 345.01 L399.80 345.01 L400.00 345.01 L400.20 344.98 L400.40 344.98 L400.60 344.98 L400.80 344.98 L401.00 344.98 L401.20 344.95 L401.40 344.95 L401.60 344.95 L401.80 344.95 L402.00 344.95 L402.20 345.14 L402.40 345.14 L402.60 345.14 L402.80 345.14 L403.00 345.14 L403.20 345.02 L403.40 345.02 L403.60 345.02 L403.80 345.02 L404.00 345.02 L404.20 345.08 L404.40 345.08 L404.60 345.08 L404.80 345.08 L405.00 345.08 L405.20 345.00 L405.40 345.00 L405.60 345.00 L405.80 345.00 L406.00 345.00 L406.20 344.91 L406.40 344.91 L406.60 344.91 L406.80 344.91 L407.00 344.91 L407.20 345.01 L407.40 345.01 L407.60 345.01 L407.80 345.01 L408.00 345.01 L408.20 345.20 L408.40 345.20 L408.60 345.20 L408.80 345.20 L409.00 345.20 L409.20 345.07 L409.40 345.07 L409.60 345.07 L409.80 345.07 L410.00 345.07 L410.20 344.99 L410.40 344.99 L410.60 344.99 L410.80 344.99 L411.00 344.99 L411.20 344.94 L411.40 344.94 L411.60 344.94 L411.80 344.94 L412.00 344.94 L412.20 345.01 L412.40 345.01 L412.60 345.01 L412.80 345.01 L413.00 345.01 L413.20 344.96 L413.40 344.96 L413.60 344.96 L413.80 344.96 L414.00 344.96 L414.20 345.20 L414.40 345.20 L414.60 345.20 L414.80 345.20 L415.00 345.20 L415.20 344.92 L415.40 344.92 L415.60 344.92 L415.80 344.92 L416.00 344.92 L416.20 344.99 L416.40 344.99 L416.60 344.99 L416.80 344.99 L417.00 344.99 L417.20 345.02 L417.40 345.02 L417.60 345.02 L417.80 345.02 L418.00 345.02 L418.20 323.29 L418.40 307.37 L418.60 304.70 L418.80 307.37 L419.00 323.29 L419.20 344.94 L419.40 344.94 L419.60 344.94 L419.80 344.94 L420.00 344.94 L420.20 345.18 L420.40 345.18 L420.60 345.18 L420.80 345.18 L421.00 345.18 L421.20 344.96 L421.40 344.96 L421.60 344.96 L421.80 344.96 L422.00 344.96 L422.20 344.97 L422.40 344.97 L422.60 344.97 L422.80 344.97 L423.00 344.97 L423.20 345.15 L423.40 345.15 L423.60 345.15 L423.80 345.15 L424.00 345.15 L424.20 344.98 L424.40 344.98 L424.60 344.98 L424.80 344.98 L425.00 344.98 L425.20 345.03 L425.40 345.03 L425.60 345.03 L425.80 345.03 L426.00 345.03 L426.20 345.15 L426.40 345.15 L426.60 345.15 L426.80 345.15 L427.00 345.15 L427.20 344.96 L427.40 344.96 L427.60 344.96 L427.80 344.96 L428.00 340.72 L428.20 340.04 L428.40 340.92 L428.60 345.16 L428.80 345.16 L429.00 345.16 L429.20 345.02 L429.40 345.02 L429.60 345.02 L429.80 345.02 L430.00 345.02 L430.20 345.07 L430.40 345.07 L430.60 345.07 L430.80 345.07 L431.00 345.07 L431.20 345.13 L431.40 345.13 L431.60 345.13 L431.80 345.13 L432.00 345.13 L432.20 345.03 L432.40 345.03 L432.60 345.03 L432.80 345.03 L433.00 345.03 L433.20 345.06 L433.40 345.06 L433.60 345.06 L433.80 345.06 L434.00 345.06 L434.20 345.14 L434.40 345.14 L434.60 345.14 L434.80 345.14 L435.00 345.14 L435.20 344.91 L435.40 344.91 L435.60 344.91 L435.80 344.91 L436.00 344.91 L436.20 345.18 L436.40 345.18 L436.60 345.18 L436.80 345.18 L437.00 345.18 L437.20 345.20 L437.40 345.20 L437.60 345.20 L437.80 345.20 L438.00 345.20 L438.20 345.06 L438.40 339.69 L438.60 338.89 L438.80 339.69 L439.00 345.06 L439.20 344.95 L439.40 344.95 L439.60 344.95 L439.80 344.95 L440.00 344.95 L440.20 345.01 L440.40 345.01 L440.60 345.01 L440.80 345.01 L441.00 345.01 L441.20 344.98 L441.40 344.98 L441.60 344.98 L441.80 344.98 L442.00 344.98 L442.20 345.06 L442.40 345.06 L442.60 345.06 L442.80 345.06 L443.00 345.06 L443.20 345.00 L443.40 345.00 L443.60 345.00 L443.80 345.00 L444.00 345.00 L444.20 345.10 L444.40 345.10 L444.60 345.10 L444.80 345.10 L445.00 345.10 L445.20 345.13 L445.40 345.13 L445.60 345.13 L445.80 345.13 L446.00 345.13 L446.20 345.05 L446.40 345.05 L446.60 345.05 L446.80 345.05 L447.00 345.05 L447.20 345.20 L447.40 345.20 L447.60 345.20 L447.80 345.20 L448.00 345.20 L448.20 345.18 L448.40 345.18 L448.60 345.18 L448.80 345.18 L449.00 345.18 L449.20 344.98 L449.40 344.98 L449.60 344.98 L449.80 344.98 L450.00 344.98 L450.20 345.15 L450.40 345.15 L450.60 345.15 L450.80 345.15 L451.00 345.15 L451.20 344.98 L451.40 344.98 L451.60 344.98 L451.80 344.98 L452.00 344.98 L452.20 344.97 L452.40 344.97 L452.60 344.97 L452.80 344.97 L453.00 344.97 L453.20 345.08 L453.40 345.08 L453.60 345.08 L453.80 345.08 L454.00 345.08 L454.20 345.00 L454.40 345.00 L454.60 345.00 L454.80 345.00 L455.00 345.00 L455.20 344.97 L455.40 344.97 L455.60 344.97 L455.80 344.97 L456.00 344.97 L456.20 344.95 L456.40 344.95 L456.60 344.95 L456.80 344.95 L457.00 344.95 L457.20 345.16 L457.40 345.16 L457.60 345.16 L457.80 345.16 L458.00 345.16 L458.20 345.16 L458.40 345.16 L458.60 345.16 L458.80 345.16 L459.00 345.16 L459.20 345.09 L459.40 345.09 L459.60 345.09 L459.80 345.09 L460.00 345.09 L460.20 345.07 L460.40 345.07 L460.60 345.07 L460.80 345.07 L461.00 345.07 L461.20 345.12 L461.40 345.12 L461.60 345.12 L461.80 345.12 L462.00 345.12 L462.20 345.20 L462.40 345.20 L462.60 345.20 L462.80 345.20 L463.00 345.20 L463.20 345.04 L463.40 345.04 L463.60 345.04 L463.80 345.04 L464.00 345.04 L464.20 344.91 L464.40 344.91 L464.60 344.91 L464.80 344.91 L465.00 344.91 L465.20 345.10 L465.40 343.72 L465.60 343.43 L465.80 343.72 L466.00 345.10 L466.20 345.04 L466.40 345.04 L466.60 345.04 L466.80 345.04 L467.00 345.04 L467.20 345.09 L467.40 345.09 L467.60 345.09 L467.80 345.09 L468.00 345.09 L468.20 345.07 L468.40 345.07 L468.60 345.07 L468.80 345.07 L469.00 345.07 L469.20 344.94 L469.40 344.94 L469.60 344.94 L469.80 344.94 L470.00 344.94 L470.20 345.11 L470.40 345.11 L470.60 345.11 L470.80 345.11 L471.00 345.11 L471.20 345.01 L471.40 345.01 L471.60 345.01 L471.80 345.01 L472.00 345.01 L472.20 345.06 L472.40 345.06 L472.60 345.06 L472.80 345.06 L473.00 345.06 L473.20 335.56 L473.40 334.16 L473.60 335.56 L473.80 345.04 L474.00 345.04 L474.20 344.93 L474.40 344.93 L474.60 344.93 L474.80 344.93 L475.00 344.93 L475.20 345.18 L475.40 345.18 L475.60 345.18 L475.80 345.18 L476.00 345.18 L476.20 344.96 L476.40 344.96 L476.60 344.96 L476.80 344.96 L477.00 344.96 L477.20 345.11 L477.40 345.11 L477.60 345.11 L477.80 345.11 L478.00 345.11 L478.20 345.01 L478.40 345.01 L478.60 345.01 L478.80 345.01 L479.00 345.01 L479.20 344.97 L479.40 344.97 L479.60 344.97 L479.80 344.97 L480.00 344.97 L480.20 345.01 L480.40 345.01 L480.60 345.01 L480.80 345.01 L481.00 345.01 L481.20 345.09 L481.40 345.09 L481.60 345.09 L481.80 345.09 L482.00 345.09 L482.20 344.95 L482.40 344.95 L482.60 344.95 L482.80 344.95 L483.00 344.95 L483.20 345.18 L483.40 345.18 L483.60 345.18 L483.80 345.18 L484.00 345.18 L484.20 345.01 L484.40 345.01 L484.60 345.01 L484.80 345.01 L485.00 345.01 L485.20 345.09 L485.40 345.09 L485.60 345.09 L485.80 345.09 L486.00 345.09 L486.20 345.05 L486.40 345.05 L486.60 345.05 L486.80 345.05 L487.00 345.05 L487.20 344.95 L487.40 344.95 L487.60 344.95 L487.80 344.95 L488.00 344.95 L488.20 344.97 L488.40 344.97 L488.60 344.97 L488.80 344.97 L489.00 344.97 L489.20 345.02 L489.40 345.02 L489.60 345.02 L489.80 345.02 L490.00 345.02 L490.20 345.11 L490.40 345.11 L490.60 345.11 L490.80 345.11 L491.00 345.11 L491.20 345.14 L491.40 345.14 L491.60 345.14 L491.80 345.14 L492.00 345.14 L492.20 342.56 L492.40 342.04 L492.60 342.56 L492.80 345.07 L493.00 345.07 L493.20 345.14 L493.40 345.14 L493.60 345.14 L493.80 345.14 L494.00 345.14 L494.20 345.12 L494.40 345.12 L494.60 345.12 L494.80 345.12 L495.00 345.12 L495.20 344.92 L495.40 344.92 L495.60 344.92 L495.80 344.92 L496.00 344.92 L496.20 345.17 L496.40 345.17 L496.60 342.23 L496.80 341.62 L497.00 342.23 L497.20 344.96 L497.40 344.96 L497.60 344.96 L497.80 344.96 L498.00 344.96 L498.20 345.09 L498.40 345.09 L498.60 345.09 L498.80 345.09 L499.00 345.09 L499.20 345.10 L499.40 345.10 L499.60 345.10 L499.80 345.10 L500.00 345.10 L500.20 345.11 L500.40 345.11 L500.60 345.11 L500.80 345.11 L501.00 345.11 L501.20 345.18 L501.40 345.18 L501.60 345.18 L501.80 345.18 L502.00 345.18 L502.20 345.07 L502.40 345.07 L502.60 345.07 L502.80 345.07 L503.00 345.07 L503.20 345.16 L503.40 345.16 L503.60 345.16 L503.80 345.16 L504.00 345.16 L504.20 345.07 L504.40 345.07 L504.60 345.07 L504.80 345.07 L505.00 345.07 L505.20 345.12 L505.40 345.12 L505.60 345.12 L505.80 345.12 L506.00 345.12 L506.20 344.94 L506.40 344.94 L506.60 344.94 L506.80 344.94 L507.00 344.94 L507.20 344.93 L507.40 344.93 L507.60 344.93 L507.80 344.93 L508.00 344.93 L508.20 345.07 L508.40 345.07 L508.60 345.07 L508.80 345.07 L509.00 345.07 L509.20 345.01 L509.40 345.01 L509.60 345.01 L509.80 345.01 L510.00 345.01 L510.20 344.93 L510.40 344.93 L510.60 344.93 L510.80 344.93 L511.00 344.93 L511.20 345.11 L511.40 345.11 L511.60 345.11 L511.80 345.11 L512.00 345.11 L512.20 345.18 L512.40 345.18 L512.60 345.18 L512.80 345.18 L513.00 345.18 L513.20 345.13 L513.40 345.13 L513.60 345.13 L513.80 345.13 L514.00 345.13 L514.20 345.15 L514.40 345.15 L514.60 345.15 L514.80 345.15 L515.00 345.15 L515.20 345.00 L515.40 345.00 L515.60 345.00 L515.80 345.00 L516.00 345.00 L516.20 345.09 L516.40 345.09 L516.60 345.09 L516.80 345.09 L517.00 345.09 L517.20 345.10 L517.40 345.10 L517.60 321.01 L517.80 317.44 L518.00 321.01 L518.20 344.97 L518.40 344.97 L518.60 344.97 L518.80 344.97 L519.00 344.97 L519.20 345.14 L519.40 345.14 L519.60 345.14 L519.80 345.14 L520.00 345.14 L520.20 344.96 L520.40 344.96 L520.60 344.96 L520.80 344.96 L521.00 337.31 L521.20 336.23 L521.40 337.36 L521.60 345.01 L521.80 345.01 L522.00 345.01 L522.20 345.09 L522.40 345.09 L522.60 345.09 L522.80 345.09 L523.00 345.09 L523.20 344.96 L523.40 344.96 L523.60 344.96 L523.80 344.96 L524.00 344.96 L524.20 345.10 L524.40 345.10 L524.60 345.10 L524.80 345.10 L525.00 345.10 L525.20 344.94 L525.40 344.94 L525.60 344.94 L525.80 344.94 L526.00 314.46 L526.20 309.94 L526.40 314.44 L526.60 344.93 L526.80 344.93 L527.00 344.93 L527.20 345.05 L527.40 345.05 L527.60 345.05 L527.80 345.05 L528.00 345.05 L528.20 345.00 L528.40 345.00 L528.60 345.00 L528.80 345.00 L529.00 345.00 L529.20 344.92 L529.40 344.92 L529.60 344.92 L529.80 344.92 L530.00 344.92 L530.20 344.98 L530.40 344.98 L530.60 344.98 L530.80 344.98 L531.00 344.98 L531.20 344.98 L531.40 344.98 L531.60 344.98 L531.80 344.98 L532.00 344.98 L532.20 344.94 L532.40 344.94 L532.60 344.94 L532.80 344.94 L533.00 344.94 L533.20 344.92 L533.40 344.92 L533.60 344.92 L533.80 344.92 L534.00 344.92 L534.20 344.98 L534.40 344.98 L534.60 344.98 L534.80 344.98 L535.00 344.98 L535.20 344.91 L535.40 344.91 L535.60 344.91 L535.80 344.91 L536.00 344.91 L536.20 345.12 L536.40 345.12 L536.60 341.31 L536.80 340.52 L537.00 341.31 L537.20 345.02 L537.40 345.02 L537.60 345.02 L537.80 345.02 L538.00 345.02 L538.20 345.00 L538.40 345.00 L538.60 345.00 L538.80 345.00 L539.00 345.00 L539.20 345.09 L539.40 345.09 L539.60 345.09 L539.80 345.09 L540.00 345.09 L540.20 345.09 L540.40 345.09 L540.60 345.09 L540.80 345.09 L541.00 345.09 L541.20 345.15 L541.40 345.15 L541.60 345.15 L541.80 345.15 L542.00 345.15 L542.20 344.92 L542.40 344.92 L542.60 344.92 L542.80 340.58 L543.00 336.77 L543.20 336.31 L543.40 336.95 L543.60 340.76 L543.80 345.10 L544.00 345.10 L544.20 345.06 L544.40 345.06 L544.60 345.06 L544.80 345.06 L545.00 345.06 L545.20 344.94 L545.40 344.94 L545.60 344.94 L545.80 344.94 L546.00 344.94 L546.20 345.15 L546.40 345.15 L546.60 345.15 L546.80 345.15 L547.00 345.15 L547.20 344.92 L547.40 344.92 L547.60 344.92 L547.80 344.92 L548.00 344.92 L548.20 345.17 L548.40 345.17 L548.60 345.17 L548.80 345.17 L549.00 345.17 L549.20 345.20 L549.40 345.20 L549.60 345.20 L549.80 345.20 L550.00 345.20 L550.20 345.10 L550.40 345.10 L550.60 345.10 L550.80 345.10 L551.00 345.10 L551.20 345.10 L551.40 345.10 L551.60 345.10 L551.80 345.10 L552.00 345.10 L552.20 344.93 L552.40 344.93 L552.60 344.93 L552.80 344.93 L553.00 343.21 L553.20 342.86 L553.40 343.22 L553.60 344.94 L553.80 344.94 L554.00 344.94 L554.20 344.98 L554.40 344.98 L554.60 344.98 L554.80 344.98 L555.00 344.98 L555.20 345.07 L555.40 345.07 L555.60 345.07 L555.80 345.07 L556.00 345.07 L556.20 345.04 L556.40 317.30 L556.60 313.20 L556.80 317.30 L557.00 345.04 L557.20 345.13 L557.40 345.13 L557.60 345.13 L557.80 345.13 L558.00 345.13 L558.20 344.95 L558.40 344.95 L558.60 344.95 L558.80 344.95 L559.00 344.95 L559.20 345.09 L559.40 345.09 L559.60 345.09 L559.80 345.09 L560.00 345.09 L560.20 345.12 L560.40 345.12 L560.60 345.12 L560.80 345.12 L561.00 345.12 L561.20 345.01 L561.40 342.07 L561.60 341.47 L561.80 342.07 L562.00 345.01 L562.20 345.16 L562.40 345.16 L562.60 345.16 L562.80 345.16 L563.00 345.16 L563.20 345.11 L563.40 345.11 L563.60 345.11 L563.80 345.11 L564.00 345.11 L564.20 344.93 L564.40 344.93 L564.60 344.93 L564.80 344.93 L565.00 344.93 L565.20 345.18 L565.40 345.18 L565.60 345.18 L565.80 345.18 L566.00 345.18 L566.20 345.16 L566.40 345.16 L566.60 345.16 L566.80 345.16 L567.00 345.16 L567.20 345.14 L567.40 345.14 L567.60 345.14 L567.80 345.14 L568.00 345.14 L568.20 345.13 L568.40 345.13 L568.60 345.13 L568.80 345.13 L569.00 345.13 L569.20 345.08 L569.40 345.08 L569.60 345.08 L569.80 345.08 L570.00 345.08 L570.20 345.13 L570.40 345.13 L570.60 345.13 L570.80 345.13 L571.00 345.13 L571.20 345.10 L571.40 345.10 L571.60 345.10 L571.80 345.10 L572.00 345.10 L572.20 345.13 L572.40 343.76 L572.60 343.47 L572.80 343.76 L573.00 345.13 L573.20 345.13 L573.40 345.13 L573.60 345.13 L573.80 345.13 L574.00 345.13 L574.20 345.02 L574.40 345.02 L574.60 345.02 L574.80 345.02 L575.00 345.02 L575.20 345.10 L575.40 345.10 L575.60 345.10 L575.80 345.10 L576.00 345.10 L576.20 345.09 L576.40 345.09 L576.60 345.09 L576.80 345.09 L577.00 345.09 L577.20 344.97 L577.40 344.97 L577.60 344.97 L577.80 344.97 L578.00 344.97 L578.20 345.19 L578.40 345.19 L578.60 345.19 L578.80 335.70 L579.00 334.30 L579.20 335.68 L579.40 345.16 L579.60 345.16 L579.80 345.16 L580.00 345.16 L580.20 344.95 L580.40 344.95 L580.60 344.95 L580.80 344.95 L581.00 344.95 L581.20 345.08 L581.40 345.08 L581.60 345.08 L581.80 345.08 L582.00 345.08 L582.20 344.97 L582.40 344.97 L582.60 344.97 L582.80 344.97 L583.00 344.97 L583.20 345.17 L583.40 345.17 L583.60 345.17 L583.80 345.17 L584.00 345.17 L584.20 345.05 L584.40 345.05 L584.60 345.05 L584.80 345.05 L585.00 345.05 L585.20 344.95 L585.40 344.95 L585.60 344.95 L585.80 344.95 L586.00 344.95 L586.20 345.10 L586.40 345.10 L586.60 345.10 L586.80 345.10 L587.00 345.10 L587.20 344.97 L587.40 344.97 L587.60 344.97 L587.80 344.97 L588.00 344.97 L588.20 345.02 L588.40 345.02 L588.60 345.02 L588.80 345.02 L589.00 345.02 L589.20 345.09 L589.40 345.09 L589.60 345.09 L589.80 345.09 L590.00 345.09 L590.20 344.91 L590.40 344.91 L590.60 344.91 L590.80 344.91 L591.00 344.91 L591.20 345.09 L591.40 345.09 L591.60 345.09 L591.80 324.19 L592.00 321.10 L592.20 324.17 L592.40 345.06 L592.60 345.06 L592.80 345.06 L593.00 345.06 L593.20 345.02 L593.40 345.02 L593.60 345.02 L593.80 345.02 L594.00 345.02 L594.20 345.11 L594.40 343.04 L594.60 342.61 L594.80 343.04 L595.00 345.11 L595.20 344.95 L595.40 344.95 L595.60 344.95 L595.80 344.95 L596.00 344.95 L596.20 345.03 L596.40 345.03 L596.60 345.03 L596.80 345.03 L597.00 345.03 L597.20 345.03 L597.40 345.03 L597.60 345.03 L597.80 345.03 L598.00 345.03 L598.20 345.04 L598.40 345.04 L598.60 345.04 L598.80 345.04 L599.00 345.04 L599.20 344.91 L599.40 344.91 L599.60 344.91 L599.80 344.91 L600.00 344.91 L600.20 344.91 L600.40 344.91 L600.60 344.91 L600.80 344.91 L601.00 344.91 L601.20 344.95 L601.40 344.95 L601.60 344.95 L601.80 344.95 L602.00 344.95 L602.20 345.07 L602.40 345.07 L602.60 345.07 L602.80 345.07 L603.00 345.07 L603.20 345.08 L603.40 345.08 L603.60 345.08 L603.80 345.08 L604.00 345.08 L604.20 345.05 L604.40 345.05 L604.60 345.05 L604.80 345.05 L605.00 345.05 L605.20 345.19 L605.40 345.19 L605.60 345.19 L605.80 345.19 L606.00 345.19 L606.20 345.17 L606.40 345.17 L606.60 345.17 L606.80 345.17 L607.00 345.17 L607.20 344.91 L607.40 344.91 L607.60 344.91 L607.80 344.91 L608.00 344.91 L608.20 345.17 L608.40 345.17 L608.60 345.17 L608.80 345.17 L609.00 345.17 L609.20 344.92 L609.40 344.92 L609.60 344.92 L609.80 344.92 L610.00 344.92 L610.20 345.00 L610.40 345.00 L610.60 345.00 L610.80 345.00 L611.00 345.00 L611.20 344.93 L611.40 344.93 L611.60 344.93 L611.80 344.93 L612.00 344.93 L612.20 345.18 L612.40 345.18 L612.60 345.18 L612.80 345.18 L613.00 345.18 L613.20 345.11 L613.40 345.11 L613.60 345.11 L613.80 345.11 L614.00 345.11 L614.20 344.97 L614.40 344.97 L614.60 344.97 L614.80 344.97 L615.00 344.97 L615.20 345.20 L615.40 345.20 L615.60 345.20 L615.80 345.20 L616.00 345.20 L616.20 345.17 L616.40 345.17 L616.60 345.17 L616.80 345.17 L617.00 345.17 L617.20 345.10 L617.40 345.10 L617.60 345.10 L617.80 345.10 L618.00 345.10 L618.20 345.15 L618.40 345.15 L618.60 345.15 L618.80 345.15 L619.00 345.15 L619.20 345.16 L619.40 345.16 L619.60 345.16 L619.80 345.16 L620.00 345.16 L620.20 345.00 L620.40 345.00 L620.60 345.00 L620.80 345.00 L621.00 345.00 L621.20 345.18 L621.40 345.18 L621.60 345.18 L621.80 345.18 L622.00 345.18 L622.20 344.91 L622.40 344.91 L622.60 344.91 L622.80 344.91 L623.00 344.91 L623.20 345.01 L623.40 345.01 L623.60 345.01 L623.80 339.90 L624.00 338.84 L624.20 340.08 L624.40 345.19 L624.60 345.19 L624.80 345.19 L625.00 345.19 L625.20 344.93 L625.40 344.93 L625.60 344.93 L625.80 344.93 L626.00 344.93 L626.20 345.13 L626.40 345.13 L626.60 345.13 L626.80 345.13 L627.00 345.13 L627.20 345.06 L627.40 345.06 L627.60 345.06 L627.80 345.06 L628.00 345.06 L628.20 345.04 L628.40 345.04 L628.60 345.04 L628.80 345.04 L629.00 345.04 L629.20 345.16 L629.40 345.16 L629.60 345.16 L629.80 345.16 L630.00 345.16 L630.20 345.05 L630.40 345.05 L630.60 345.05 L630.80 345.05 L631.00 345.05 L631.20 345.19 L631.40 345.19 L631.60 345.19 L631.80 345.19 L632.00 345.19 L632.20 345.15 L632.40 345.15 L632.60 345.15 L632.80 345.15 L633.00 345.15 L633.20 344.93 L633.40 344.93 L633.60 344.93 L633.80 344.93 L634.00 344.93 L634.20 344.96 L634.40 344.96 L634.60 344.96 L634.80 344.96 L635.00 344.96 L635.20 345.05 L635.40 345.05 L635.60 345.05 L635.80 345.05 L636.00 345.05 L636.20 345.00 L636.40 345.00 L636.60 345.00 L636.80 345.00 L637.00 345.00 L637.20 344.94 L637.40 344.94 L637.60 344.94 L637.80 344.94 L638.00 344.94 L638.20 345.16 L638.40 345.16 L638.60 345.16 L638.80 345.16 L639.00 345.16 L639.20 345.06 L639.40 345.06 L639.60 345.06 L639.80 345.06 L640.00 345.06 L640.20 345.17 L640.40 345.17 L640.60 345.17 L640.80 345.17 L641.00 345.17 L641.20 345.17 L641.40 345.17 L641.60 345.17 L641.80 345.17 L642.00 345.17 L642.20 345.17 L642.40 345.17 L642.60 345.17 L642.80 345.17 L643.00 345.17 L643.20 345.14 L643.40 345.14 L643.60 345.14 L643.80 345.14 L644.00 345.14 L644.20 345.19 L644.40 345.19 L644.60 345.19 L644.80 345.19 L645.00 345.19 L645.20 345.14 L645.40 345.14 L645.60 345.14 L645.80 345.14 L646.00 345.14 L646.20 345.09 L646.40 345.09 L646.60 345.09 L646.80 345.09 L647.00 345.09 L647.20 345.02 L647.40 345.02 L647.60 345.02 L647.80 345.02 L648.00 345.02 L648.20 344.95 L648.40 344.95 L648.60 344.95 L648.80 344.95 L649.00 344.95 L649.20 344.93 L649.40 344.93 L649.60 344.93 L649.80 344.93 L650.00 344.93 L650.20 344.99 L650.40 344.99 L650.60 344.99 L650.80 344.99 L651.00 344.99 L651.20 345.05 L651.40 345.05 L651.60 345.05 L651.80 345.05 L652.00 345.05 L652.20 344.93 L652.40 344.93 L652.60 344.93 L652.80 344.93 L653.00 344.93 L653.20 345.16 L653.40 345.16 L653.60 345.16 L653.80 345.16 L654.00 345.16 L654.20 345.17 L654.40 345.17 L654.60 345.17 L654.80 345.17 L655.00 345.17 L655.20 344.96 L655.40 344.96 L655.60 344.96 L655.80 344.96 L656.00 344.96 L656.20 345.02 L656.40 345.02 L656.60 345.02 L656.80 345.02 L657.00 345.02 L657.20 345.14 L657.40 345.14 L657.60 345.14 L657.80 345.14 L658.00 345.14 L658.20 345.09 L658.40 345.09 L658.60 345.09 L658.80 345.09 L659.00 345.09 L659.20 345.12 L659.40 345.12 L659.60 345.12 L659.80 345.12 L660.00 345.12 L660.20 345.08 L660.40 345.08 L660.60 345.08 L660.80 345.08 L661.00 345.08 L661.20 345.08 L661.40 345.08 L661.60 345.08 L661.80 345.08 L662.00 345.08 L662.20 345.09 L662.40 345.09 L662.60 345.09 L662.80 345.09 L663.00 345.09 L663.20 344.97 L663.40 344.97 L663.60 344.97 L663.80 344.97 L664.00 344.97 L664.20 344.96 L664.40 344.96 L664.60 344.96 L664.80 344.96 L665.00 344.96 L665.20 345.04 L665.40 345.04 L665.60 345.04 L665.80 345.04 L666.00 345.04 L666.20 345.06 L666.40 345.06 L666.60 345.06 L666.80 345.06 L667.00 345.06 L667.20 345.12 L667.40 345.12 L667.60 345.12 L667.80 345.12 L668.00 345.12 L668.20 344.98 L668.40 344.98 L668.60 344.98 L668.80 344.98 L669.00 344.98 L669.20 344.91 L669.40 344.91 L669.60 344.91 L669.80 344.91 L670.00 344.91 L670.20 345.14 L670.40 345.14 L670.60 345.14 L670.80 345.14 L671.00 345.14 L671.20 344.99 L671.40 344.99 L671.60 344.99 L671.80 344.99 L672.00 344.99 L672.20 345.00 L672.40 345.00 L672.60 345.00 L672.80 345.00 L673.00 345.00 L673.20 345.01 L673.40 345.01 L673.60 345.01 L673.80 345.01 L674.00 345.01 L674.20 345.20 L674.40 345.20 L674.60 345.20 L674.80 345.20 L675.00 345.20 L675.20 345.04 L675.40 345.04 L675.60 345.04 L675.80 345.04 L676.00 345.04 L676.20 345.14 L676.40 345.14 L676.60 345.14 L676.80 345.14 L677.00 345.14 L677.20 345.15 L677.40 345.15 L677.60 345.15 L677.80 345.15 L678.00 345.15 L678.20 345.03 L678.40 345.03 L678.60 345.03 L678.80 345.03 L679.00 345.03 L679.20 345.01 L679.40 345.01 L679.60 345.01 L679.80 345.01 L680.00 345.01 L680.20 345.02 L680.40 345.02 L680.60 345.02 L680.80 345.02 L681.00 345.02 L681.20 344.98 L681.40 344.98 L681.60 344.98 L681.80 344.98 L682.00 344.98 L682.20 344.99 L682.40 344.99 L682.60 344.99 L682.80 344.99 L683.00 344.99 L683.20 345.06 L683.40 345.06 L683.60 345.06 L683.80 345.06 L684.00 345.06 L684.20 345.19 L684.40 345.19 L684.60 345.19 L684.80 345.19 L685.00 345.19 L685.20 344.97 L685.40 344.97 L685.60 344.97 L685.80 344.97 L686.00 344.97 L686.20 344.96 L686.40 344.96 L686.60 344.96 L686.80 344.96 L687.00 344.96 L687.20 344.95 L687.40 344.95 L687.60 344.95 L687.80 344.95 L688.00 344.95 L688.20 345.03 L688.40 345.03 L688.60 345.03 L688.80 345.03 L689.00 345.03 L689.20 345.19 L689.40 345.19 L689.60 345.19 L689.80 345.19 L690.00 345.19 L690.20 345.15 L690.40 345.15 L690.60 345.15 L690.80 345.15 L691.00 345.15 L691.20 345.17 L691.40 345.17 L691.60 345.17 L691.80 345.17 L692.00 345.17 L692.20 345.01 L692.40 345.01 L692.60 345.01 L692.80 345.01 L693.00 345.01 L693.20 345.04 L693.40 345.04 L693.60 345.04 L693.80 345.04 L694.00 345.04 L694.20 345.15 L694.40 345.15 L694.60 345.15 L694.80 345.15 L695.00 345.15 L695.20 344.92 L695.40 344.92"/>
<text class="pk pm" transform="translate(105.0 279.3) rotate(-45)">Myristal acid</text>
<text class="pk" transform="translate(258.4 278.0) rotate(-45)">Heptanal</text>
<text class="pk" transform="translate(355.7 278.7) rotate(-45)">Nonanal</text>
<text class="pk" transform="translate(428.0 299.5) rotate(-45)">Decanal</text>
<text class="pk" transform="translate(481.2 328.0) rotate(-45)">Hexenal</text>
<path class="ax" d="M663.3 245.6 H701.2"/>
<text class="b" font-size="16.5" x="706.2" y="250.8">day24</text>
<text class="b" font-size="16" x="689.3" y="272" font-size="16.4">-2<tspan font-size="11" dy="-7">o</tspan><tspan dy="7">C</tspan></text>
<path class="ax" d="M60.00 426.00 V560.40 M55.50 426.80 H60.00 M51.50 560.40 H748.00 M50.50 548.80 H60.00 M50.50 526.80 H60.00 M50.50 504.80 H60.00 M50.50 482.80 H60.00 M50.50 460.80 H60.00 M50.50 438.80 H60.00 M55.50 537.80 H60.00 M55.50 515.80 H60.00 M55.50 493.80 H60.00 M55.50 471.80 H60.00 M55.50 449.80 H60.00 M60.00 560.40 v8.3 M184.74 560.40 v8.3 M309.48 560.40 v8.3 M434.22 560.40 v8.3 M558.96 560.40 v8.3 M683.70 560.40 v8.3 M122.37 560.40 v4.5 M247.11 560.40 v4.5 M371.85 560.40 v4.5 M496.59 560.40 v4.5 M621.33 560.40 v4.5 M747.20 560.40 v4.5 "/>
<text class="tk" x="46.5" y="554.1" text-anchor="end">0</text>
<text class="tk" x="46.5" y="532.1" text-anchor="end">20</text>
<text class="tk" x="46.5" y="510.1" text-anchor="end">40</text>
<text class="tk" x="46.5" y="488.1" text-anchor="end">60</text>
<text class="tk" x="46.5" y="466.1" text-anchor="end">80</text>
<text class="tk" x="46.5" y="444.1" text-anchor="end">100</text>
<text class="tkx" x="59.4" y="587.3" text-anchor="middle">0</text>
<text class="tkx" x="184.1" y="587.3" text-anchor="middle">10</text>
<text class="tkx" x="308.9" y="587.3" text-anchor="middle">20</text>
<text class="tkx" x="433.6" y="587.3" text-anchor="middle">30</text>
<text class="tkx" x="558.4" y="587.3" text-anchor="middle">40</text>
<text class="tkx" x="683.1" y="587.3" text-anchor="middle">50</text>
<text class="b" font-size="17.45" text-anchor="middle" transform="translate(12.8 495.6) rotate(-90)">Relative abundance</text>
<text class="b" font-size="21" x="69.5" y="432.2">(c)</text>
<path class="tr" d="M92.70 547.72 L92.90 547.72 L93.10 547.73 L93.30 494.05 L93.50 482.94 L93.70 493.91 L93.90 547.60 L94.10 547.60 L94.30 547.60 L94.50 547.60 L94.70 547.69 L94.90 547.69 L95.10 543.23 L95.30 542.30 L95.50 543.23 L95.70 545.66 L95.90 545.96 L96.10 546.21 L96.30 546.43 L96.50 546.61 L96.70 546.75 L96.90 546.88 L97.10 547.00 L97.30 547.09 L97.50 547.17 L97.70 547.50 L97.90 547.56 L98.10 547.61 L98.30 547.65 L98.50 547.69 L98.70 547.74 L98.90 547.77 L99.10 547.79 L99.30 547.81 L99.50 547.83 L99.70 547.46 L99.90 547.47 L100.10 547.49 L100.30 547.50 L100.50 547.50 L100.70 547.78 L100.90 547.79 L101.10 547.79 L101.30 547.80 L101.50 547.80 L101.70 547.82 L101.90 547.82 L102.10 547.83 L102.30 547.83 L102.50 547.83 L102.70 547.48 L102.90 547.49 L103.10 547.49 L103.30 547.49 L103.50 547.50 L103.70 547.74 L103.90 547.74 L104.10 547.75 L104.30 547.75 L104.50 547.75 L104.70 541.20 L104.90 539.89 L105.10 541.21 L105.30 547.59 L105.50 547.59 L105.70 547.76 L105.90 547.76 L106.10 547.76 L106.30 547.77 L106.50 547.77 L106.70 547.69 L106.90 547.70 L107.10 547.70 L107.30 547.70 L107.50 547.70 L107.70 547.93 L107.90 547.93 L108.10 547.93 L108.30 547.94 L108.50 546.09 L108.70 544.25 L108.90 543.98 L109.10 544.25 L109.30 545.88 L109.50 547.72 L109.70 547.62 L109.90 547.62 L110.10 547.62 L110.30 547.62 L110.50 547.62 L110.70 547.78 L110.90 547.79 L111.10 547.79 L111.30 547.79 L111.50 547.79 L111.70 547.69 L111.90 547.69 L112.10 547.70 L112.30 547.70 L112.50 547.70 L112.70 547.73 L112.90 547.73 L113.10 547.74 L113.30 547.74 L113.50 547.74 L113.70 548.02 L113.90 548.02 L114.10 548.02 L114.30 548.03 L114.50 548.03 L114.70 547.71 L114.90 547.71 L115.10 547.71 L115.30 547.71 L115.50 547.72 L115.70 547.79 L115.90 547.80 L116.10 547.80 L116.30 547.80 L116.50 547.80 L116.70 547.94 L116.90 547.94 L117.10 547.94 L117.30 547.94 L117.50 547.94 L117.70 548.07 L117.90 548.07 L118.10 548.07 L118.30 548.07 L118.50 548.07 L118.70 547.69 L118.90 547.69 L119.10 547.69 L119.30 547.69 L119.50 547.69 L119.70 547.88 L119.90 547.88 L120.10 547.88 L120.30 547.88 L120.50 547.88 L120.70 547.77 L120.90 547.77 L121.10 547.77 L121.30 547.77 L121.50 547.78 L121.70 547.70 L121.90 547.70 L122.10 547.71 L122.30 547.71 L122.50 547.71 L122.70 547.79 L122.90 547.79 L123.10 547.79 L123.30 547.79 L123.50 547.79 L123.70 547.70 L123.90 547.70 L124.10 547.70 L124.30 547.70 L124.50 547.70 L124.70 547.95 L124.90 547.95 L125.10 547.95 L125.30 547.95 L125.50 547.95 L125.70 547.76 L125.90 547.77 L126.10 547.77 L126.30 547.77 L126.50 547.77 L126.70 547.93 L126.90 547.94 L127.10 547.94 L127.30 547.94 L127.50 547.94 L127.70 547.71 L127.90 547.71 L128.10 547.72 L128.30 547.72 L128.50 547.72 L128.70 547.75 L128.90 547.75 L129.10 547.75 L129.30 547.75 L129.50 547.75 L129.70 548.11 L129.90 548.11 L130.10 548.11 L130.30 548.11 L130.50 548.12 L130.70 548.10 L130.90 548.10 L131.10 548.10 L131.30 548.10 L131.50 548.10 L131.70 548.07 L131.90 548.07 L132.10 548.07 L132.30 548.07 L132.50 548.07 L132.70 547.73 L132.90 547.73 L133.10 547.73 L133.30 547.73 L133.50 547.73 L133.70 547.98 L133.90 547.98 L134.10 547.98 L134.30 547.98 L134.50 547.98 L134.70 547.89 L134.90 547.89 L135.10 547.89 L135.30 547.90 L135.50 547.90 L135.70 548.05 L135.90 548.05 L136.10 548.05 L136.30 548.05 L136.50 548.05 L136.70 525.34 L136.90 522.00 L137.10 525.34 L137.30 546.43 L137.50 547.03 L137.70 547.46 L137.90 547.68 L138.10 547.81 L138.30 547.89 L138.50 547.94 L138.70 547.99 L138.90 548.01 L139.10 548.02 L139.30 548.03 L139.50 548.03 L139.70 547.93 L139.90 547.93 L140.10 547.93 L140.30 547.94 L140.50 547.94 L140.70 547.94 L140.90 547.94 L141.10 547.94 L141.30 547.94 L141.50 547.94 L141.70 547.79 L141.90 547.80 L142.10 547.80 L142.30 547.80 L142.50 547.80 L142.70 546.08 L142.90 545.70 L143.10 546.08 L143.30 547.90 L143.50 547.90 L143.70 547.79 L143.90 547.79 L144.10 547.79 L144.30 547.79 L144.50 547.79 L144.70 547.83 L144.90 547.83 L145.10 547.83 L145.30 547.83 L145.50 547.83 L145.70 547.77 L145.90 547.77 L146.10 547.77 L146.30 547.77 L146.50 547.77 L146.70 547.92 L146.90 547.92 L147.10 547.92 L147.30 547.92 L147.50 547.92 L147.70 548.16 L147.90 548.16 L148.10 548.16 L148.30 548.16 L148.50 548.16 L148.70 547.84 L148.90 547.84 L149.10 547.84 L149.30 547.84 L149.50 547.84 L149.70 547.80 L149.90 547.80 L150.10 547.80 L150.30 547.80 L150.50 545.95 L150.70 544.69 L150.90 544.17 L151.10 544.09 L151.30 544.18 L151.50 544.70 L151.70 546.14 L151.90 547.55 L152.10 547.58 L152.30 547.62 L152.50 547.65 L152.70 547.61 L152.90 547.63 L153.10 547.65 L153.30 547.67 L153.50 547.69 L153.70 547.94 L153.90 547.96 L154.10 547.98 L154.30 547.99 L154.50 548.00 L154.70 547.73 L154.90 547.74 L155.10 547.75 L155.30 547.76 L155.50 547.77 L155.70 547.90 L155.90 547.91 L156.10 547.91 L156.30 547.92 L156.50 547.93 L156.70 548.07 L156.90 548.07 L157.10 548.08 L157.30 548.08 L157.50 548.09 L157.70 548.19 L157.90 548.20 L158.10 548.20 L158.30 548.20 L158.50 548.21 L158.70 547.84 L158.90 547.85 L159.10 547.85 L159.30 547.85 L159.50 547.85 L159.70 547.79 L159.90 547.80 L160.10 547.80 L160.30 547.80 L160.50 547.80 L160.70 548.22 L160.90 548.22 L161.10 548.22 L161.30 548.22 L161.50 548.22 L161.70 547.90 L161.90 547.90 L162.10 547.90 L162.30 547.90 L162.50 547.90 L162.70 548.08 L162.90 548.08 L163.10 548.08 L163.30 548.09 L163.50 548.09 L163.70 548.21 L163.90 548.21 L164.10 548.21 L164.30 530.78 L164.50 527.64 L164.70 530.71 L164.90 543.34 L165.10 543.91 L165.30 544.40 L165.50 544.84 L165.70 545.01 L165.90 545.36 L166.10 545.66 L166.30 545.93 L166.50 546.16 L166.70 546.32 L166.90 546.51 L167.10 546.67 L167.30 546.81 L167.50 546.94 L167.70 547.43 L167.90 547.53 L168.10 547.62 L168.30 547.69 L168.50 547.76 L168.70 547.56 L168.90 547.61 L169.10 547.66 L169.30 547.70 L169.50 547.74 L169.70 548.03 L169.90 548.06 L170.10 548.09 L170.30 548.11 L170.50 548.13 L170.70 547.83 L170.90 547.85 L171.10 547.86 L171.30 546.57 L171.50 545.44 L171.70 545.43 L171.90 545.63 L172.10 546.79 L172.30 548.10 L172.50 548.10 L172.70 547.85 L172.90 547.86 L173.10 547.86 L173.30 547.87 L173.50 547.87 L173.70 547.83 L173.90 547.83 L174.10 547.83 L174.30 547.83 L174.50 547.84 L174.70 548.06 L174.90 548.06 L175.10 548.06 L175.30 548.06 L175.50 548.06 L175.70 547.84 L175.90 547.84 L176.10 547.84 L176.30 547.84 L176.50 547.84 L176.70 548.16 L176.90 548.16 L177.10 548.16 L177.30 548.16 L177.50 548.16 L177.70 548.27 L177.90 548.27 L178.10 548.27 L178.30 548.27 L178.50 548.27 L178.70 548.03 L178.90 548.03 L179.10 548.03 L179.30 548.03 L179.50 548.03 L179.70 548.30 L179.90 548.30 L180.10 548.30 L180.30 548.30 L180.50 548.30 L180.70 548.22 L180.90 548.22 L181.10 548.22 L181.30 548.22 L181.50 548.22 L181.70 548.12 L181.90 548.12 L182.10 548.12 L182.30 548.12 L182.50 548.13 L182.70 548.03 L182.90 548.03 L183.10 548.03 L183.30 548.03 L183.50 546.21 L183.70 546.04 L183.90 546.42 L184.10 548.24 L184.30 548.24 L184.50 548.24 L184.70 548.30 L184.90 548.30 L185.10 548.30 L185.30 548.30 L185.50 548.30 L185.70 547.92 L185.90 547.92 L186.10 547.92 L186.30 547.92 L186.50 547.92 L186.70 548.17 L186.90 548.17 L187.10 548.17 L187.30 548.18 L187.50 548.18 L187.70 547.88 L187.90 547.88 L188.10 547.88 L188.30 547.88 L188.50 547.88 L188.70 547.91 L188.90 547.91 L189.10 547.91 L189.30 547.91 L189.50 547.91 L189.70 548.15 L189.90 548.15 L190.10 548.15 L190.30 548.15 L190.50 548.15 L190.70 548.11 L190.90 548.11 L191.10 548.11 L191.30 548.11 L191.50 548.11 L191.70 548.09 L191.90 548.09 L192.10 548.09 L192.30 548.09 L192.50 548.09 L192.70 548.03 L192.90 548.03 L193.10 548.03 L193.30 548.03 L193.50 548.03 L193.70 548.05 L193.90 548.05 L194.10 548.05 L194.30 548.05 L194.50 548.05 L194.70 548.07 L194.90 548.07 L195.10 548.07 L195.30 548.07 L195.50 548.07 L195.70 548.04 L195.90 548.04 L196.10 548.04 L196.30 548.04 L196.50 548.04 L196.70 547.90 L196.90 547.90 L197.10 547.90 L197.30 547.90 L197.50 547.90 L197.70 548.10 L197.90 548.10 L198.10 548.10 L198.30 548.10 L198.50 548.10 L198.70 548.13 L198.90 548.13 L199.10 548.13 L199.30 548.13 L199.50 548.13 L199.70 548.00 L199.90 548.00 L200.10 548.00 L200.30 548.00 L200.50 548.00 L200.70 548.22 L200.90 548.23 L201.10 548.23 L201.30 548.23 L201.50 548.23 L201.70 548.20 L201.90 548.20 L202.10 548.20 L202.30 548.20 L202.50 548.20 L202.70 547.88 L202.90 547.88 L203.10 547.89 L203.30 547.89 L203.50 547.89 L203.70 548.10 L203.90 548.10 L204.10 548.10 L204.30 548.10 L204.50 548.10 L204.70 548.08 L204.90 548.08 L205.10 548.09 L205.30 548.09 L205.50 548.09 L205.70 548.33 L205.90 548.33 L206.10 548.33 L206.30 548.33 L206.50 548.33 L206.70 548.15 L206.90 548.15 L207.10 548.15 L207.30 548.15 L207.50 548.15 L207.70 548.07 L207.90 548.07 L208.10 548.07 L208.30 548.07 L208.50 548.07 L208.70 548.33 L208.90 546.78 L209.10 546.46 L209.30 546.78 L209.50 548.33 L209.70 548.06 L209.90 548.06 L210.10 548.06 L210.30 548.06 L210.50 548.06 L210.70 548.05 L210.90 548.05 L211.10 548.05 L211.30 548.05 L211.50 548.05 L211.70 548.32 L211.90 548.32 L212.10 548.32 L212.30 548.32 L212.50 548.32 L212.70 548.05 L212.90 548.05 L213.10 548.05 L213.30 548.05 L213.50 548.05 L213.70 548.13 L213.90 548.13 L214.10 548.13 L214.30 548.13 L214.50 548.13 L214.70 548.03 L214.90 548.03 L215.10 548.03 L215.30 548.03 L215.50 548.03 L215.70 548.18 L215.90 548.18 L216.10 548.18 L216.30 548.18 L216.50 548.18 L216.70 548.02 L216.90 548.02 L217.10 548.02 L217.30 548.02 L217.50 544.40 L217.70 542.87 L217.90 542.62 L218.10 542.87 L218.30 544.39 L218.50 548.01 L218.70 548.34 L218.90 548.34 L219.10 548.34 L219.30 548.34 L219.50 548.34 L219.70 548.32 L219.90 548.32 L220.10 548.32 L220.30 548.32 L220.50 548.32 L220.70 548.04 L220.90 548.04 L221.10 548.04 L221.30 548.04 L221.50 548.04 L221.70 547.90 L221.90 547.90 L222.10 547.90 L222.30 547.90 L222.50 547.90 L222.70 548.23 L222.90 548.23 L223.10 548.23 L223.30 548.23 L223.50 548.23 L223.70 548.14 L223.90 548.14 L224.10 548.14 L224.30 548.14 L224.50 548.14 L224.70 548.08 L224.90 548.08 L225.10 548.08 L225.30 548.08 L225.50 548.08 L225.70 548.20 L225.90 543.92 L226.10 540.15 L226.30 539.51 L226.50 540.15 L226.70 543.90 L226.90 548.18 L227.10 548.18 L227.30 548.18 L227.50 548.18 L227.70 548.21 L227.90 548.21 L228.10 548.21 L228.30 548.21 L228.50 548.21 L228.70 548.18 L228.90 548.18 L229.10 548.18 L229.30 548.18 L229.50 548.18 L229.70 548.08 L229.90 548.08 L230.10 544.98 L230.30 544.34 L230.50 544.98 L230.70 548.22 L230.90 548.22 L231.10 548.22 L231.30 548.22 L231.50 548.22 L231.70 548.18 L231.90 548.18 L232.10 548.18 L232.30 548.18 L232.50 548.18 L232.70 548.00 L232.90 548.00 L233.10 548.00 L233.30 548.00 L233.50 548.00 L233.70 548.34 L233.90 548.34 L234.10 548.34 L234.30 548.34 L234.50 548.34 L234.70 548.09 L234.90 548.09 L235.10 548.09 L235.30 548.09 L235.50 548.09 L235.70 548.02 L235.90 548.02 L236.10 548.02 L236.30 548.02 L236.50 548.02 L236.70 548.21 L236.90 548.21 L237.10 548.21 L237.30 548.21 L237.50 548.21 L237.70 548.25 L237.90 548.25 L238.10 548.25 L238.30 548.25 L238.50 548.25 L238.70 547.99 L238.90 547.99 L239.10 547.99 L239.30 547.99 L239.50 547.99 L239.70 548.25 L239.90 548.25 L240.10 548.25 L240.30 548.25 L240.50 548.25 L240.70 548.27 L240.90 548.27 L241.10 548.27 L241.30 548.27 L241.50 548.27 L241.70 548.16 L241.90 548.16 L242.10 548.16 L242.30 548.16 L242.50 548.16 L242.70 548.04 L242.90 548.04 L243.10 548.04 L243.30 548.04 L243.50 548.04 L243.70 548.31 L243.90 548.31 L244.10 548.31 L244.30 548.31 L244.50 548.31 L244.70 548.21 L244.90 548.21 L245.10 548.21 L245.30 548.21 L245.50 548.21 L245.70 548.21 L245.90 548.21 L246.10 548.21 L246.30 548.21 L246.50 548.21 L246.70 547.97 L246.90 547.97 L247.10 547.97 L247.30 547.97 L247.50 547.97 L247.70 548.16 L247.90 548.16 L248.10 548.16 L248.30 548.16 L248.50 521.35 L248.70 499.86 L248.90 491.22 L249.10 489.77 L249.30 491.22 L249.50 499.86 L249.70 521.48 L249.90 548.28 L250.10 548.28 L250.30 548.28 L250.50 548.28 L250.70 548.21 L250.90 548.21 L251.10 548.21 L251.30 548.21 L251.50 548.21 L251.70 548.06 L251.90 548.06 L252.10 548.06 L252.30 548.06 L252.50 548.06 L252.70 547.95 L252.90 547.95 L253.10 547.95 L253.30 547.95 L253.50 547.95 L253.70 548.15 L253.90 548.15 L254.10 548.15 L254.30 548.15 L254.50 548.15 L254.70 548.26 L254.90 548.26 L255.10 548.26 L255.30 548.26 L255.50 548.26 L255.70 548.31 L255.90 548.31 L256.10 548.31 L256.30 548.31 L256.50 548.31 L256.70 548.12 L256.90 548.12 L257.10 548.12 L257.30 548.12 L257.50 548.12 L257.70 548.27 L257.90 548.27 L258.10 548.27 L258.30 548.27 L258.50 548.27 L258.70 547.99 L258.90 547.99 L259.10 547.99 L259.30 547.99 L259.50 547.99 L259.70 547.98 L259.90 547.98 L260.10 547.98 L260.30 547.98 L260.50 547.98 L260.70 548.28 L260.90 548.28 L261.10 548.28 L261.30 548.28 L261.50 548.28 L261.70 548.23 L261.90 548.23 L262.10 548.23 L262.30 548.23 L262.50 548.23 L262.70 547.99 L262.90 547.99 L263.10 547.99 L263.30 547.99 L263.50 547.99 L263.70 548.07 L263.90 548.07 L264.10 548.07 L264.30 548.07 L264.50 548.07 L264.70 547.99 L264.90 546.53 L265.10 546.23 L265.30 546.53 L265.50 547.99 L265.70 548.20 L265.90 548.20 L266.10 548.20 L266.30 548.20 L266.50 548.20 L266.70 548.30 L266.90 548.30 L267.10 548.30 L267.30 548.30 L267.50 548.30 L267.70 548.23 L267.90 548.23 L268.10 548.23 L268.30 548.23 L268.50 548.23 L268.70 548.00 L268.90 548.00 L269.10 548.00 L269.30 548.00 L269.50 548.00 L269.70 548.24 L269.90 548.24 L270.10 548.24 L270.30 548.24 L270.50 548.24 L270.70 548.20 L270.90 548.20 L271.10 548.20 L271.30 548.20 L271.50 548.20 L271.70 548.17 L271.90 548.17 L272.10 548.17 L272.30 548.17 L272.50 548.17 L272.70 548.17 L272.90 548.17 L273.10 548.17 L273.30 548.17 L273.50 548.17 L273.70 548.18 L273.90 548.18 L274.10 548.18 L274.30 548.18 L274.50 548.18 L274.70 547.94 L274.90 547.94 L275.10 547.94 L275.30 547.94 L275.50 547.94 L275.70 548.29 L275.90 548.29 L276.10 548.29 L276.30 548.29 L276.50 548.29 L276.70 548.36 L276.90 548.36 L277.10 548.36 L277.30 548.36 L277.50 548.36 L277.70 547.93 L277.90 547.93 L278.10 547.93 L278.30 547.93 L278.50 547.93 L278.70 547.96 L278.90 547.96 L279.10 547.96 L279.30 547.96 L279.50 547.96 L279.70 547.91 L279.90 547.91 L280.10 547.91 L280.30 547.91 L280.50 547.91 L280.70 548.17 L280.90 548.17 L281.10 548.17 L281.30 548.17 L281.50 548.17 L281.70 547.93 L281.90 547.93 L282.10 547.93 L282.30 547.93 L282.50 547.93 L282.70 547.94 L282.90 547.94 L283.10 547.94 L283.30 547.94 L283.50 547.94 L283.70 548.26 L283.90 548.26 L284.10 548.26 L284.30 548.26 L284.50 548.26 L284.70 544.01 L284.90 543.18 L285.10 544.01 L285.30 548.02 L285.50 548.02 L285.70 547.98 L285.90 547.98 L286.10 547.98 L286.30 547.98 L286.50 547.98 L286.70 548.06 L286.90 548.06 L287.10 548.06 L287.30 548.06 L287.50 548.06 L287.70 548.13 L287.90 548.13 L288.10 548.13 L288.30 548.13 L288.50 548.13 L288.70 548.23 L288.90 548.23 L289.10 548.23 L289.30 548.23 L289.50 548.23 L289.70 548.21 L289.90 548.21 L290.10 548.21 L290.30 548.21 L290.50 548.21 L290.70 548.26 L290.90 548.26 L291.10 548.26 L291.30 548.26 L291.50 548.26 L291.70 548.34 L291.90 548.34 L292.10 548.34 L292.30 548.34 L292.50 548.34 L292.70 548.10 L292.90 548.10 L293.10 548.10 L293.30 548.10 L293.50 548.10 L293.70 548.23 L293.90 548.23 L294.10 548.23 L294.30 548.23 L294.50 548.23 L294.70 547.99 L294.90 547.99 L295.10 547.99 L295.30 547.99 L295.50 547.99 L295.70 548.35 L295.90 548.35 L296.10 548.35 L296.30 548.35 L296.50 548.35 L296.70 547.95 L296.90 547.95 L297.10 547.95 L297.30 547.95 L297.50 547.95 L297.70 548.05 L297.90 548.05 L298.10 548.05 L298.30 548.05 L298.50 548.05 L298.70 547.94 L298.90 547.94 L299.10 547.94 L299.30 544.84 L299.50 544.20 L299.70 544.86 L299.90 547.95 L300.10 547.95 L300.30 547.95 L300.50 547.95 L300.70 547.95 L300.90 547.95 L301.10 547.95 L301.30 547.95 L301.50 547.95 L301.70 548.10 L301.90 548.10 L302.10 548.10 L302.30 548.10 L302.50 548.10 L302.70 548.36 L302.90 548.36 L303.10 548.36 L303.30 548.36 L303.50 548.36 L303.70 548.02 L303.90 548.02 L304.10 548.02 L304.30 548.02 L304.50 548.02 L304.70 548.29 L304.90 548.29 L305.10 548.29 L305.30 548.29 L305.50 548.29 L305.70 548.23 L305.90 548.23 L306.10 548.23 L306.30 548.23 L306.50 548.23 L306.70 546.60 L306.90 546.30 L307.10 546.60 L307.30 548.06 L307.50 548.06 L307.70 548.13 L307.90 548.13 L308.10 548.13 L308.30 548.13 L308.50 548.13 L308.70 548.18 L308.90 548.18 L309.10 548.18 L309.30 548.18 L309.50 548.18 L309.70 547.93 L309.90 547.93 L310.10 547.93 L310.30 547.93 L310.50 547.93 L310.70 548.09 L310.90 548.09 L311.10 548.09 L311.30 548.09 L311.50 548.09 L311.70 548.21 L311.90 548.21 L312.10 548.21 L312.30 548.21 L312.50 548.21 L312.70 548.25 L312.90 548.25 L313.10 548.25 L313.30 548.25 L313.50 548.25 L313.70 547.97 L313.90 547.97 L314.10 547.97 L314.30 547.97 L314.50 547.97 L314.70 548.15 L314.90 548.15 L315.10 548.15 L315.30 548.15 L315.50 548.15 L315.70 548.01 L315.90 548.01 L316.10 548.01 L316.30 548.01 L316.50 548.01 L316.70 548.21 L316.90 548.21 L317.10 548.21 L317.30 548.21 L317.50 548.21 L317.70 548.28 L317.90 548.28 L318.10 548.28 L318.30 548.28 L318.50 548.28 L318.70 548.12 L318.90 548.12 L319.10 548.12 L319.30 548.12 L319.50 548.12 L319.70 547.99 L319.90 547.99 L320.10 547.99 L320.30 547.99 L320.50 547.99 L320.70 548.29 L320.90 548.29 L321.10 548.29 L321.30 548.29 L321.50 548.29 L321.70 548.00 L321.90 548.00 L322.10 548.00 L322.30 548.00 L322.50 548.00 L322.70 547.94 L322.90 547.94 L323.10 547.94 L323.30 547.94 L323.50 547.94 L323.70 548.00 L323.90 548.00 L324.10 548.00 L324.30 548.00 L324.50 548.00 L324.70 547.99 L324.90 547.99 L325.10 547.99 L325.30 547.99 L325.50 547.99 L325.70 548.37 L325.90 548.37 L326.10 548.37 L326.30 548.37 L326.50 548.37 L326.70 548.08 L326.90 548.08 L327.10 548.08 L327.30 548.08 L327.50 548.08 L327.70 547.97 L327.90 547.97 L328.10 547.97 L328.30 547.97 L328.50 547.97 L328.70 548.35 L328.90 548.35 L329.10 548.35 L329.30 548.35 L329.50 548.35 L329.70 548.24 L329.90 548.24 L330.10 548.21 L330.30 548.21 L330.50 548.21 L330.70 548.21 L330.90 548.21 L331.10 548.21 L331.30 548.21 L331.50 548.21 L331.70 548.13 L331.90 548.13 L332.10 548.13 L332.30 548.13 L332.50 548.13 L332.70 548.16 L332.90 548.16 L333.10 548.16 L333.30 548.16 L333.50 548.16 L333.70 548.15 L333.90 548.15 L334.10 548.15 L334.30 548.15 L334.50 548.15 L334.70 548.05 L334.90 548.05 L335.10 548.05 L335.30 548.05 L335.50 548.05 L335.70 548.29 L335.90 548.29 L336.10 548.29 L336.30 548.29 L336.50 548.29 L336.70 548.28 L336.90 548.28 L337.10 548.28 L337.30 548.28 L337.50 548.28 L337.70 548.25 L337.90 548.25 L338.10 548.25 L338.30 548.25 L338.50 548.25 L338.70 548.25 L338.90 548.25 L339.10 548.25 L339.30 546.80 L339.50 546.49 L339.70 546.81 L339.90 548.27 L340.10 548.27 L340.30 548.27 L340.50 548.27 L340.70 547.99 L340.90 547.99 L341.10 547.99 L341.30 547.99 L341.50 547.99 L341.70 548.03 L341.90 548.03 L342.10 548.03 L342.30 548.03 L342.50 548.03 L342.70 548.27 L342.90 548.27 L343.10 548.27 L343.30 548.27 L343.50 548.27 L343.70 548.14 L343.90 548.14 L344.10 548.14 L344.30 548.14 L344.50 548.14 L344.70 548.20 L344.90 548.20 L345.10 548.20 L345.30 548.20 L345.50 548.20 L345.70 548.20 L345.90 548.20 L346.10 548.20 L346.30 548.20 L346.50 548.20 L346.70 523.31 L346.90 503.54 L347.10 495.52 L347.30 494.17 L347.50 495.52 L347.70 503.44 L347.90 523.22 L348.10 548.09 L348.30 548.09 L348.50 548.09 L348.70 548.11 L348.90 548.11 L349.10 548.11 L349.30 548.11 L349.50 548.11 L349.70 548.18 L349.90 548.18 L350.10 548.18 L350.30 548.18 L350.50 548.18 L350.70 548.23 L350.90 548.23 L351.10 548.23 L351.30 548.23 L351.50 548.23 L351.70 548.19 L351.90 548.19 L352.10 548.19 L352.30 548.19 L352.50 548.19 L352.70 548.26 L352.90 548.26 L353.10 548.26 L353.30 548.26 L353.50 548.26 L353.70 548.12 L353.90 548.12 L354.10 548.12 L354.30 548.12 L354.50 548.12 L354.70 548.07 L354.90 548.07 L355.10 548.07 L355.30 548.07 L355.50 548.07 L355.70 548.18 L355.90 548.18 L356.10 548.18 L356.30 548.18 L356.50 548.18 L356.70 548.27 L356.90 548.27 L357.10 548.27 L357.30 548.27 L357.50 548.27 L357.70 548.24 L357.90 548.24 L358.10 548.24 L358.30 548.24 L358.50 548.24 L358.70 548.18 L358.90 548.18 L359.10 548.18 L359.30 548.18 L359.50 548.18 L359.70 548.11 L359.90 548.11 L360.10 548.11 L360.30 548.11 L360.50 548.11 L360.70 548.05 L360.90 548.05 L361.10 548.05 L361.30 548.05 L361.50 548.05 L361.70 548.18 L361.90 548.18 L362.10 548.18 L362.30 548.18 L362.50 548.18 L362.70 548.05 L362.90 548.05 L363.10 548.05 L363.30 548.05 L363.50 548.05 L363.70 548.10 L363.90 548.10 L364.10 548.10 L364.30 548.10 L364.50 548.10 L364.70 548.16 L364.90 548.16 L365.10 548.16 L365.30 548.16 L365.50 548.16 L365.70 548.18 L365.90 548.18 L366.10 548.18 L366.30 548.18 L366.50 548.18 L366.70 548.14 L366.90 548.14 L367.10 548.14 L367.30 548.14 L367.50 548.14 L367.70 548.08 L367.90 548.08 L368.10 548.08 L368.30 548.08 L368.50 548.08 L368.70 548.16 L368.90 548.16 L369.10 548.16 L369.30 548.16 L369.50 548.16 L369.70 548.08 L369.90 548.08 L370.10 548.08 L370.30 548.08 L370.50 548.08 L370.70 548.15 L370.90 548.15 L371.10 548.15 L371.30 548.15 L371.50 548.15 L371.70 548.22 L371.90 548.22 L372.10 548.22 L372.30 548.22 L372.50 548.22 L372.70 548.13 L372.90 548.13 L373.10 548.13 L373.30 548.13 L373.50 548.13 L373.70 548.08 L373.90 548.08 L374.10 548.08 L374.30 548.08 L374.50 548.08 L374.70 548.27 L374.90 548.27 L375.10 548.27 L375.30 548.27 L375.50 548.27 L375.70 548.16 L375.90 548.16 L376.10 543.70 L376.30 542.77 L376.50 543.70 L376.70 548.16 L376.90 548.16 L377.10 548.16 L377.30 548.16 L377.50 548.16 L377.70 548.02 L377.90 548.02 L378.10 548.02 L378.30 548.02 L378.50 548.02 L378.70 548.01 L378.90 548.01 L379.10 548.01 L379.30 548.01 L379.50 548.01 L379.70 548.18 L379.90 548.18 L380.10 548.18 L380.30 548.18 L380.50 548.18 L380.70 548.02 L380.90 548.02 L381.10 548.02 L381.30 548.02 L381.50 548.02 L381.70 548.05 L381.90 548.05 L382.10 548.05 L382.30 548.05 L382.50 548.05 L382.70 548.21 L382.90 548.21 L383.10 548.21 L383.30 548.21 L383.50 548.21 L383.70 548.15 L383.90 548.15 L384.10 548.15 L384.30 546.69 L384.50 546.39 L384.70 546.80 L384.90 548.26 L385.10 548.26 L385.30 548.26 L385.50 548.26 L385.70 548.04 L385.90 548.04 L386.10 548.04 L386.30 548.04 L386.50 548.04 L386.70 548.09 L386.90 548.09 L387.10 548.09 L387.30 548.09 L387.50 548.09 L387.70 548.02 L387.90 548.02 L388.10 548.02 L388.30 548.02 L388.50 548.02 L388.70 548.05 L388.90 548.05 L389.10 548.05 L389.30 548.05 L389.50 548.05 L389.70 548.09 L389.90 548.09 L390.10 548.09 L390.30 548.09 L390.50 548.09 L390.70 548.07 L390.90 548.07 L391.10 548.07 L391.30 548.07 L391.50 548.07 L391.70 548.12 L391.90 548.12 L392.10 548.12 L392.30 548.12 L392.50 548.12 L392.70 548.26 L392.90 548.26 L393.10 548.26 L393.30 548.26 L393.50 548.26 L393.70 548.11 L393.90 548.11 L394.10 548.11 L394.30 548.11 L394.50 548.11 L394.70 548.29 L394.90 548.29 L395.10 548.29 L395.30 548.29 L395.50 548.29 L395.70 548.25 L395.90 548.25 L396.10 548.25 L396.30 548.25 L396.50 548.25 L396.70 548.06 L396.90 548.06 L397.10 548.06 L397.30 548.06 L397.50 548.06 L397.70 548.28 L397.90 548.28 L398.10 548.28 L398.30 548.28 L398.50 548.28 L398.70 548.27 L398.90 548.27 L399.10 548.27 L399.30 548.27 L399.50 548.27 L399.70 548.26 L399.90 548.26 L400.10 548.26 L400.30 548.26 L400.50 548.26 L400.70 548.02 L400.90 548.02 L401.10 548.02 L401.30 548.02 L401.50 548.02 L401.70 548.24 L401.90 548.24 L402.10 548.24 L402.30 548.24 L402.50 548.24 L402.70 548.29 L402.90 548.29 L403.10 548.29 L403.30 548.29 L403.50 548.29 L403.70 548.03 L403.90 548.03 L404.10 548.03 L404.30 548.03 L404.50 548.03 L404.70 548.26 L404.90 548.26 L405.10 548.26 L405.30 548.26 L405.50 548.26 L405.70 548.03 L405.90 548.03 L406.10 548.03 L406.30 548.03 L406.50 548.03 L406.70 548.09 L406.90 548.09 L407.10 548.09 L407.30 548.09 L407.50 548.09 L407.70 548.04 L407.90 548.04 L408.10 548.04 L408.30 548.04 L408.50 548.04 L408.70 548.00 L408.90 548.00 L409.10 548.00 L409.30 548.00 L409.50 548.00 L409.70 548.12 L409.90 548.12 L410.10 548.12 L410.30 548.12 L410.50 548.12 L410.70 548.05 L410.90 548.05 L411.10 548.05 L411.30 548.05 L411.50 548.05 L411.70 548.28 L411.90 548.28 L412.10 548.28 L412.30 548.28 L412.50 548.28 L412.70 548.06 L412.90 548.06 L413.10 548.06 L413.30 548.06 L413.50 548.06 L413.70 548.14 L413.90 548.14 L414.10 548.14 L414.30 548.14 L414.50 548.14 L414.70 548.07 L414.90 548.07 L415.10 548.07 L415.30 548.07 L415.50 548.07 L415.70 548.26 L415.90 548.26 L416.10 548.26 L416.30 548.26 L416.50 548.26 L416.70 548.06 L416.90 548.06 L417.10 548.06 L417.30 548.06 L417.50 548.06 L417.70 548.01 L417.90 548.01 L418.10 548.01 L418.30 548.01 L418.50 548.01 L418.70 548.28 L418.90 533.73 L419.10 519.26 L419.30 513.40 L419.50 512.42 L419.70 513.32 L419.90 519.18 L420.10 533.65 L420.30 548.19 L420.50 548.19 L420.70 548.12 L420.90 548.12 L421.10 548.12 L421.30 548.12 L421.50 548.12 L421.70 548.04 L421.90 548.04 L422.10 548.04 L422.30 548.04 L422.50 548.04 L422.70 548.22 L422.90 548.22 L423.10 548.22 L423.30 548.22 L423.50 548.22 L423.70 548.24 L423.90 548.24 L424.10 548.24 L424.30 548.24 L424.50 548.24 L424.70 548.22 L424.90 548.22 L425.10 548.22 L425.30 548.22 L425.50 548.22 L425.70 548.10 L425.90 548.10 L426.10 548.10 L426.30 548.10 L426.50 548.10 L426.70 548.06 L426.90 548.06 L427.10 548.06 L427.30 548.06 L427.50 548.06 L427.70 548.17 L427.90 548.17 L428.10 548.17 L428.30 548.17 L428.50 543.25 L428.70 542.24 L428.90 543.26 L429.10 548.18 L429.30 548.18 L429.50 548.18 L429.70 548.17 L429.90 548.17 L430.10 548.17 L430.30 548.17 L430.50 548.17 L430.70 548.19 L430.90 548.19 L431.10 548.19 L431.30 548.19 L431.50 548.19 L431.70 548.17 L431.90 548.17 L432.10 548.17 L432.30 548.17 L432.50 548.17 L432.70 548.27 L432.90 548.27 L433.10 548.27 L433.30 548.27 L433.50 548.27 L433.70 548.14 L433.90 548.14 L434.10 548.14 L434.30 548.14 L434.50 548.14 L434.70 547.99 L434.90 547.99 L435.10 547.99 L435.30 547.99 L435.50 547.99 L435.70 548.17 L435.90 548.17 L436.10 548.17 L436.30 548.17 L436.50 548.17 L436.70 548.06 L436.90 548.06 L437.10 548.06 L437.30 548.06 L437.50 548.06 L437.70 548.24 L437.90 548.24 L438.10 548.24 L438.30 548.24 L438.50 548.24 L438.70 548.08 L438.90 548.08 L439.10 548.08 L439.30 548.08 L439.50 542.43 L439.70 541.57 L439.90 542.41 L440.10 548.06 L440.30 548.06 L440.50 548.06 L440.70 548.09 L440.90 548.09 L441.10 548.09 L441.30 548.09 L441.50 548.09 L441.70 548.13 L441.90 548.13 L442.10 548.13 L442.30 548.13 L442.50 548.13 L442.70 548.14 L442.90 548.14 L443.10 548.14 L443.30 548.14 L443.50 548.14 L443.70 548.10 L443.90 548.10 L444.10 548.10 L444.30 548.10 L444.50 548.10 L444.70 548.02 L444.90 548.02 L445.10 548.02 L445.30 548.02 L445.50 548.02 L445.70 548.25 L445.90 548.25 L446.10 548.25 L446.30 548.25 L446.50 548.25 L446.70 548.26 L446.90 548.26 L447.10 548.26 L447.30 548.26 L447.50 548.26 L447.70 548.06 L447.90 548.06 L448.10 548.06 L448.30 548.06 L448.50 548.06 L448.70 548.01 L448.90 548.01 L449.10 548.01 L449.30 548.01 L449.50 548.01 L449.70 548.13 L449.90 548.13 L450.10 548.13 L450.30 548.13 L450.50 548.13 L450.70 548.16 L450.90 548.16 L451.10 548.16 L451.30 548.16 L451.50 548.16 L451.70 548.07 L451.90 548.07 L452.10 548.07 L452.30 548.07 L452.50 548.07 L452.70 548.24 L452.90 548.24 L453.10 548.24 L453.30 548.24 L453.50 548.24 L453.70 548.21 L453.90 548.21 L454.10 548.21 L454.30 548.21 L454.50 548.21 L454.70 548.23 L454.90 548.23 L455.10 548.23 L455.30 548.23 L455.50 548.23 L455.70 548.11 L455.90 548.11 L456.10 548.11 L456.30 548.11 L456.50 548.11 L456.70 548.20 L456.90 548.20 L457.10 548.20 L457.30 548.20 L457.50 548.20 L457.70 548.22 L457.90 548.22 L458.10 548.22 L458.30 548.22 L458.50 548.22 L458.70 548.08 L458.90 548.08 L459.10 548.08 L459.30 548.08 L459.50 548.08 L459.70 548.00 L459.90 548.00 L460.10 548.00 L460.30 548.00 L460.50 548.00 L460.70 548.20 L460.90 548.20 L461.10 548.20 L461.30 548.20 L461.50 548.20 L461.70 548.08 L461.90 548.08 L462.10 548.08 L462.30 548.08 L462.50 548.08 L462.70 548.17 L462.90 548.17 L463.10 548.17 L463.30 548.17 L463.50 548.17 L463.70 548.03 L463.90 548.03 L464.10 548.03 L464.30 548.03 L464.50 548.03 L464.70 548.11 L464.90 548.11 L465.10 548.11 L465.30 548.11 L465.50 548.11 L465.70 548.21 L465.90 548.21 L466.10 548.21 L466.30 548.21 L466.50 548.21 L466.70 548.23 L466.90 548.23 L467.10 548.23 L467.30 548.23 L467.50 548.23 L467.70 548.29 L467.90 548.29 L468.10 548.29 L468.30 548.29 L468.50 548.29 L468.70 548.15 L468.90 548.15 L469.10 548.15 L469.30 548.15 L469.50 548.15 L469.70 548.18 L469.90 548.18 L470.10 548.18 L470.30 548.18 L470.50 548.18 L470.70 548.24 L470.90 548.24 L471.10 548.24 L471.30 548.24 L471.50 548.24 L471.70 548.18 L471.90 548.18 L472.10 548.18 L472.30 548.18 L472.50 548.18 L472.70 548.19 L472.90 548.19 L473.10 548.19 L473.30 548.19 L473.50 542.04 L473.70 538.32 L473.90 537.72 L474.10 538.32 L474.30 541.90 L474.50 548.06 L474.70 548.25 L474.90 548.25 L475.10 548.25 L475.30 548.25 L475.50 548.25 L475.70 547.99 L475.90 547.99 L476.10 547.99 L476.30 547.99 L476.50 547.99 L476.70 548.15 L476.90 548.15 L477.10 548.15 L477.30 548.15 L477.50 548.15 L477.70 548.11 L477.90 548.11 L478.10 548.11 L478.30 548.11 L478.50 548.11 L478.70 548.15 L478.90 548.15 L479.10 548.15 L479.30 548.15 L479.50 548.15 L479.70 548.04 L479.90 548.04 L480.10 548.04 L480.30 548.04 L480.50 548.04 L480.70 548.04 L480.90 548.04 L481.10 548.04 L481.30 548.04 L481.50 548.04 L481.70 548.12 L481.90 548.12 L482.10 548.12 L482.30 548.12 L482.50 548.12 L482.70 548.15 L482.90 548.15 L483.10 548.15 L483.30 548.15 L483.50 548.15 L483.70 548.07 L483.90 548.07 L484.10 548.07 L484.30 548.07 L484.50 548.07 L484.70 548.03 L484.90 548.03 L485.10 548.03 L485.30 548.03 L485.50 548.03 L485.70 548.17 L485.90 548.17 L486.10 548.17 L486.30 548.17 L486.50 548.17 L486.70 548.07 L486.90 548.07 L487.10 548.07 L487.30 548.07 L487.50 548.07 L487.70 548.00 L487.90 548.00 L488.10 548.00 L488.30 548.00 L488.50 548.00 L488.70 548.15 L488.90 548.15 L489.10 548.15 L489.30 548.15 L489.50 548.15 L489.70 548.22 L489.90 548.22 L490.10 548.22 L490.30 548.22 L490.50 548.22 L490.70 548.22 L490.90 548.22 L491.10 548.22 L491.30 548.22 L491.50 548.22 L491.70 548.07 L491.90 548.07 L492.10 548.07 L492.30 548.07 L492.50 541.94 L492.70 541.05 L492.90 541.95 L493.10 547.28 L493.30 547.40 L493.50 547.51 L493.70 547.51 L493.90 547.58 L494.10 547.65 L494.30 547.70 L494.50 547.75 L494.70 547.82 L494.90 547.85 L495.10 547.88 L495.30 547.90 L495.50 547.92 L495.70 548.13 L495.90 548.14 L496.10 548.15 L496.30 548.16 L496.50 548.17 L496.70 548.20 L496.90 548.20 L497.10 548.21 L497.30 548.21 L497.50 548.21 L497.70 546.01 L497.90 545.56 L498.10 546.01 L498.30 548.20 L498.50 548.21 L498.70 548.23 L498.90 548.23 L499.10 548.23 L499.30 548.23 L499.50 548.23 L499.70 548.07 L499.90 548.07 L500.10 548.07 L500.30 548.07 L500.50 548.08 L500.70 548.03 L500.90 548.03 L501.10 548.03 L501.30 548.03 L501.50 548.03 L501.70 548.02 L501.90 548.02 L502.10 548.02 L502.30 548.02 L502.50 548.02 L502.70 548.22 L502.90 548.22 L503.10 548.22 L503.30 548.22 L503.50 548.22 L503.70 548.03 L503.90 548.03 L504.10 548.03 L504.30 548.03 L504.50 548.03 L504.70 548.20 L504.90 548.20 L505.10 548.20 L505.30 548.20 L505.50 548.20 L505.70 548.16 L505.90 548.16 L506.10 548.16 L506.30 548.16 L506.50 548.16 L506.70 548.07 L506.90 548.07 L507.10 548.07 L507.30 548.07 L507.50 548.07 L507.70 548.27 L507.90 548.27 L508.10 548.27 L508.30 548.27 L508.50 548.27 L508.70 548.27 L508.90 548.27 L509.10 548.27 L509.30 548.27 L509.50 548.27 L509.70 548.04 L509.90 548.04 L510.10 548.04 L510.30 548.04 L510.50 548.04 L510.70 548.20 L510.90 548.20 L511.10 548.20 L511.30 548.20 L511.50 548.20 L511.70 548.18 L511.90 548.18 L512.10 548.18 L512.30 546.73 L512.50 546.42 L512.70 546.66 L512.90 548.12 L513.10 548.12 L513.30 548.12 L513.50 548.12 L513.70 548.09 L513.90 548.09 L514.10 548.09 L514.30 548.09 L514.50 548.09 L514.70 548.29 L514.90 548.29 L515.10 548.29 L515.30 548.29 L515.50 548.29 L515.70 548.19 L515.90 548.19 L516.10 548.19 L516.30 548.19 L516.50 548.19 L516.70 548.16 L516.90 548.16 L517.10 548.16 L517.30 548.16 L517.50 548.16 L517.70 548.14 L517.90 548.14 L518.10 548.14 L518.30 548.14 L518.50 529.55 L518.70 526.89 L518.90 529.64 L519.10 548.23 L519.30 548.23 L519.50 548.23 L519.70 548.11 L519.90 548.11 L520.10 548.11 L520.30 548.11 L520.50 548.11 L520.70 548.00 L520.90 548.00 L521.10 548.00 L521.30 548.00 L521.50 548.00 L521.70 548.17 L521.90 548.17 L522.10 548.17 L522.30 548.17 L522.50 506.10 L522.70 499.84 L522.90 506.06 L523.10 548.13 L523.30 548.13 L523.50 548.13 L523.70 548.26 L523.90 548.26 L524.10 548.26 L524.30 548.26 L524.50 548.26 L524.70 548.21 L524.90 548.21 L525.10 548.21 L525.30 548.21 L525.50 548.21 L525.70 548.09 L525.90 548.09 L526.10 548.09 L526.30 548.09 L526.50 548.09 L526.70 548.26 L526.90 526.31 L527.10 523.07 L527.30 526.31 L527.50 548.26 L527.70 548.02 L527.90 548.02 L528.10 548.02 L528.30 548.02 L528.50 548.02 L528.70 548.01 L528.90 548.01 L529.10 548.01 L529.30 548.01 L529.50 548.01 L529.70 548.26 L529.90 548.26 L530.10 548.26 L530.30 548.26 L530.50 548.26 L530.70 548.00 L530.90 548.00 L531.10 548.00 L531.30 548.00 L531.50 548.00 L531.70 548.18 L531.90 548.18 L532.10 548.18 L532.30 548.18 L532.50 548.18 L532.70 548.06 L532.90 548.06 L533.10 548.06 L533.30 548.06 L533.50 548.06 L533.70 548.06 L533.90 548.06 L534.10 548.06 L534.30 548.06 L534.50 548.06 L534.70 548.20 L534.90 548.20 L535.10 548.20 L535.30 548.20 L535.50 548.20 L535.70 548.09 L535.90 548.09 L536.10 548.09 L536.30 548.09 L536.50 548.09 L536.70 548.09 L536.90 548.09 L537.10 548.09 L537.30 548.09 L537.50 548.09 L537.70 545.86 L537.90 545.41 L538.10 545.86 L538.30 548.05 L538.50 548.05 L538.70 548.21 L538.90 548.21 L539.10 548.21 L539.30 548.21 L539.50 548.21 L539.70 548.06 L539.90 548.06 L540.10 548.06 L540.30 548.06 L540.50 548.06 L540.70 548.00 L540.90 548.00 L541.10 548.00 L541.30 548.00 L541.50 548.00 L541.70 548.09 L541.90 548.09 L542.10 548.09 L542.30 548.09 L542.50 548.09 L542.70 548.13 L542.90 548.13 L543.10 548.13 L543.30 548.13 L543.50 548.13 L543.70 548.26 L543.90 548.26 L544.10 548.26 L544.30 548.26 L544.50 512.42 L544.70 507.00 L544.90 512.30 L545.10 548.14 L545.30 548.14 L545.50 548.14 L545.70 548.19 L545.90 548.19 L546.10 548.19 L546.30 548.19 L546.50 548.19 L546.70 548.07 L546.90 548.07 L547.10 548.07 L547.30 548.07 L547.50 548.07 L547.70 548.09 L547.90 548.09 L548.10 548.09 L548.30 548.09 L548.50 548.09 L548.70 548.12 L548.90 548.12 L549.10 548.12 L549.30 548.12 L549.50 548.12 L549.70 548.24 L549.90 548.24 L550.10 548.24 L550.30 548.24 L550.50 548.24 L550.70 548.10 L550.90 548.10 L551.10 548.10 L551.30 548.10 L551.50 548.10 L551.70 548.10 L551.90 548.10 L552.10 548.10 L552.30 548.10 L552.50 548.10 L552.70 548.24 L552.90 548.24 L553.10 548.24 L553.30 548.24 L553.50 548.24 L553.70 548.02 L553.90 548.02 L554.10 548.02 L554.30 548.02 L554.50 548.02 L554.70 548.09 L554.90 548.09 L555.10 548.09 L555.30 548.09 L555.50 548.09 L555.70 548.26 L555.90 548.26 L556.10 548.26 L556.30 548.26 L556.50 548.26 L556.70 548.01 L556.90 548.01 L557.10 548.01 L557.30 541.59 L557.50 540.64 L557.70 541.83 L557.90 548.25 L558.10 548.25 L558.30 548.25 L558.50 548.25 L558.70 548.19 L558.90 548.19 L559.10 548.19 L559.30 548.19 L559.50 548.19 L559.70 548.07 L559.90 548.07 L560.10 548.07 L560.30 548.07 L560.50 548.07 L560.70 548.11 L560.90 548.11 L561.10 548.11 L561.30 548.11 L561.50 548.11 L561.70 548.12 L561.90 548.12 L562.10 548.12 L562.30 548.12 L562.50 548.12 L562.70 548.09 L562.90 548.09 L563.10 548.09 L563.30 548.09 L563.50 548.09 L563.70 548.15 L563.90 548.15 L564.10 548.15 L564.30 548.15 L564.50 548.15 L564.70 548.20 L564.90 548.20 L565.10 548.20 L565.30 548.20 L565.50 548.20 L565.70 545.14 L565.90 544.50 L566.10 545.14 L566.30 548.24 L566.50 548.24 L566.70 548.27 L566.90 548.27 L567.10 548.27 L567.30 548.27 L567.50 548.27 L567.70 548.07 L567.90 548.07 L568.10 548.07 L568.30 548.07 L568.50 548.07 L568.70 548.06 L568.90 548.06 L569.10 548.06 L569.30 548.06 L569.50 548.06 L569.70 546.67 L569.90 546.37 L570.10 546.67 L570.30 548.13 L570.50 548.13 L570.70 548.07 L570.90 548.07 L571.10 548.07 L571.30 548.07 L571.50 548.07 L571.70 548.18 L571.90 548.18 L572.10 548.18 L572.30 548.18 L572.50 548.18 L572.70 548.21 L572.90 548.21 L573.10 548.21 L573.30 548.21 L573.50 548.21 L573.70 548.18 L573.90 548.18 L574.10 548.18 L574.30 548.18 L574.50 548.18 L574.70 548.03 L574.90 548.03 L575.10 548.03 L575.30 548.03 L575.50 548.03 L575.70 548.28 L575.90 548.28 L576.10 548.28 L576.30 548.28 L576.50 548.28 L576.70 548.14 L576.90 548.14 L577.10 548.14 L577.30 548.14 L577.50 548.14 L577.70 548.22 L577.90 548.22 L578.10 548.22 L578.30 548.22 L578.50 548.22 L578.70 548.06 L578.90 548.06 L579.10 548.06 L579.30 548.06 L579.50 548.06 L579.70 548.18 L579.90 544.33 L580.10 540.94 L580.30 540.37 L580.50 540.94 L580.70 544.34 L580.90 548.19 L581.10 548.19 L581.30 548.19 L581.50 548.19 L581.70 548.17 L581.90 548.17 L582.10 548.17 L582.30 548.17 L582.50 548.17 L582.70 548.13 L582.90 548.13 L583.10 548.13 L583.30 548.13 L583.50 548.13 L583.70 548.06 L583.90 548.06 L584.10 548.06 L584.30 548.06 L584.50 548.06 L584.70 548.19 L584.90 548.19 L585.10 548.19 L585.30 548.19 L585.50 548.19 L585.70 548.03 L585.90 548.03 L586.10 548.03 L586.30 548.03 L586.50 548.03 L586.70 548.26 L586.90 548.26 L587.10 548.26 L587.30 548.26 L587.50 548.26 L587.70 548.21 L587.90 548.21 L588.10 548.21 L588.30 548.21 L588.50 548.21 L588.70 548.26 L588.90 548.26 L589.10 548.26 L589.30 548.26 L589.50 548.26 L589.70 548.26 L589.90 548.26 L590.10 548.26 L590.30 548.26 L590.50 548.26 L590.70 548.05 L590.90 548.05 L591.10 548.05 L591.30 548.05 L591.50 548.05 L591.70 548.07 L591.90 548.07 L592.10 548.07 L592.30 548.07 L592.50 545.43 L592.70 545.05 L592.90 545.59 L593.10 548.24 L593.30 548.24 L593.50 548.24 L593.70 548.24 L593.90 548.24 L594.10 548.24 L594.30 548.24 L594.50 548.24 L594.70 548.17 L594.90 548.17 L595.10 548.17 L595.30 548.17 L595.50 543.50 L595.70 539.29 L595.90 538.61 L596.10 539.29 L596.30 543.40 L596.50 548.07 L596.70 548.04 L596.90 548.04 L597.10 548.04 L597.30 548.04 L597.50 548.04 L597.70 548.06 L597.90 548.06 L598.10 548.06 L598.30 548.06 L598.50 548.06 L598.70 548.11 L598.90 548.11 L599.10 548.11 L599.30 548.11 L599.50 548.11 L599.70 548.25 L599.90 548.25 L600.10 548.25 L600.30 548.25 L600.50 548.25 L600.70 548.17 L600.90 548.17 L601.10 548.17 L601.30 548.17 L601.50 548.17 L601.70 548.23 L601.90 548.23 L602.10 548.23 L602.30 548.23 L602.50 548.23 L602.70 548.13 L602.90 548.13 L603.10 548.13 L603.30 548.13 L603.50 548.13 L603.70 548.12 L603.90 548.12 L604.10 548.12 L604.30 548.12 L604.50 548.12 L604.70 548.23 L604.90 548.23 L605.10 548.23 L605.30 548.23 L605.50 548.23 L605.70 548.22 L605.90 548.22 L606.10 548.22 L606.30 548.22 L606.50 548.22 L606.70 548.05 L606.90 548.05 L607.10 548.05 L607.30 548.05 L607.50 548.05 L607.70 548.28 L607.90 548.28 L608.10 548.28 L608.30 548.28 L608.50 548.28 L608.70 548.05 L608.90 548.05 L609.10 548.05 L609.30 548.05 L609.50 548.05 L609.70 548.02 L609.90 548.02 L610.10 548.02 L610.30 548.02 L610.50 548.02 L610.70 548.00 L610.90 548.00 L611.10 548.00 L611.30 548.00 L611.50 548.00 L611.70 548.18 L611.90 548.18 L612.10 548.18 L612.30 548.18 L612.50 548.18 L612.70 548.12 L612.90 548.12 L613.10 548.12 L613.30 548.12 L613.50 548.12 L613.70 548.11 L613.90 548.11 L614.10 548.11 L614.30 548.11 L614.50 548.11 L614.70 548.10 L614.90 548.10 L615.10 548.10 L615.30 548.10 L615.50 548.10 L615.70 547.99 L615.90 547.99 L616.10 547.99 L616.30 547.99 L616.50 547.99 L616.70 548.08 L616.90 548.08 L617.10 548.08 L617.30 548.08 L617.50 548.08 L617.70 548.20 L617.90 548.20 L618.10 548.20 L618.30 548.20 L618.50 548.20 L618.70 548.03 L618.90 548.03 L619.10 548.03 L619.30 548.03 L619.50 548.03 L619.70 548.14 L619.90 548.14 L620.10 548.14 L620.30 548.14 L620.50 548.14 L620.70 548.11 L620.90 548.11 L621.10 548.11 L621.30 548.11 L621.50 548.11 L621.70 548.07 L621.90 548.07 L622.10 548.07 L622.30 548.07 L622.50 548.07 L622.70 548.29 L622.90 548.29 L623.10 548.29 L623.30 548.29 L623.50 548.29 L623.70 548.06 L623.90 548.06 L624.10 548.06 L624.30 548.06 L624.50 546.78 L624.70 546.55 L624.90 546.81 L625.10 548.09 L625.30 548.09 L625.50 548.09 L625.70 548.14 L625.90 548.14 L626.10 548.14 L626.30 548.14 L626.50 548.14 L626.70 548.13 L626.90 548.13 L627.10 548.13 L627.30 548.13 L627.50 548.13 L627.70 548.15 L627.90 548.15 L628.10 548.15 L628.30 548.15 L628.50 548.15 L628.70 548.23 L628.90 548.23 L629.10 548.23 L629.30 548.23 L629.50 548.23 L629.70 548.13 L629.90 548.13 L630.10 548.13 L630.30 548.13 L630.50 548.13 L630.70 548.28 L630.90 548.28 L631.10 548.28 L631.30 548.28 L631.50 548.28 L631.70 548.14 L631.90 548.14 L632.10 548.14 L632.30 548.14 L632.50 548.14 L632.70 548.10 L632.90 548.10 L633.10 548.10 L633.30 548.10 L633.50 548.10 L633.70 548.16 L633.90 548.16 L634.10 548.16 L634.30 548.16 L634.50 548.16 L634.70 548.12 L634.90 548.12 L635.10 548.12 L635.30 548.12 L635.50 548.12 L635.70 548.00 L635.90 548.00 L636.10 548.00 L636.30 548.00 L636.50 548.00 L636.70 548.02 L636.90 548.02 L637.10 548.02 L637.30 548.02 L637.50 548.02 L637.70 548.25 L637.90 548.25 L638.10 548.25 L638.30 548.25 L638.50 548.25 L638.70 548.05 L638.90 548.05 L639.10 548.05 L639.30 548.05 L639.50 548.05 L639.70 548.10 L639.90 548.10 L640.10 548.10 L640.30 548.10 L640.50 548.10 L640.70 548.28 L640.90 548.28 L641.10 548.28 L641.30 548.28 L641.50 548.28 L641.70 548.18 L641.90 548.18 L642.10 548.18 L642.30 548.18 L642.50 548.18 L642.70 548.22 L642.90 548.22 L643.10 548.22 L643.30 548.22 L643.50 548.22 L643.70 548.27 L643.90 548.27 L644.10 548.27 L644.30 548.27 L644.50 548.27 L644.70 548.13 L644.90 548.13 L645.10 548.13 L645.30 548.13 L645.50 548.13 L645.70 548.01 L645.90 548.01 L646.10 548.01 L646.30 548.01 L646.50 548.01 L646.70 548.19 L646.90 548.19 L647.10 548.19 L647.30 548.19 L647.50 548.19 L647.70 548.03 L647.90 548.03 L648.10 548.03 L648.30 548.03 L648.50 548.03 L648.70 548.08 L648.90 548.08 L649.10 548.08 L649.30 548.08 L649.50 548.08 L649.70 548.25 L649.90 548.25 L650.10 548.25 L650.30 548.25 L650.50 548.25 L650.70 548.03 L650.90 548.03 L651.10 548.03 L651.30 548.03 L651.50 548.03 L651.70 548.11 L651.90 548.11 L652.10 548.11 L652.30 548.11 L652.50 548.11 L652.70 548.01 L652.90 548.01 L653.10 548.01 L653.30 548.01 L653.50 548.01 L653.70 548.07 L653.90 548.07 L654.10 548.07 L654.30 548.07 L654.50 548.07 L654.70 548.07 L654.90 548.07 L655.10 548.07 L655.30 548.07 L655.50 548.07 L655.70 548.19 L655.90 548.19 L656.10 548.19 L656.30 548.19 L656.50 548.19 L656.70 548.05 L656.90 548.05 L657.10 548.05 L657.30 548.05 L657.50 548.05 L657.70 548.01 L657.90 548.01 L658.10 548.01 L658.30 548.01 L658.50 548.01 L658.70 548.03 L658.90 548.03 L659.10 548.03 L659.30 548.03 L659.50 548.03 L659.70 548.16 L659.90 548.16 L660.10 548.16 L660.30 548.16 L660.50 548.16 L660.70 548.06 L660.90 548.06 L661.10 548.06 L661.30 548.06 L661.50 548.06 L661.70 548.14 L661.90 548.14 L662.10 548.14 L662.30 548.14 L662.50 548.14 L662.70 548.26 L662.90 548.26 L663.10 548.26 L663.30 548.26 L663.50 548.26 L663.70 548.28 L663.90 548.28 L664.10 548.28 L664.30 548.28 L664.50 548.28 L664.70 548.27 L664.90 548.27 L665.10 548.27 L665.30 548.27 L665.50 548.27 L665.70 548.23 L665.90 548.23 L666.10 548.23 L666.30 548.23 L666.50 548.23 L666.70 548.24 L666.90 548.24 L667.10 548.24 L667.30 548.24 L667.50 548.24 L667.70 548.14 L667.90 548.14 L668.10 548.14 L668.30 548.14 L668.50 548.14 L668.70 548.08 L668.90 548.08 L669.10 548.08 L669.30 548.08 L669.50 548.08 L669.70 548.13 L669.90 548.13 L670.10 548.13 L670.30 548.13 L670.50 548.13 L670.70 548.16 L670.90 548.16 L671.10 548.16 L671.30 548.16 L671.50 548.16 L671.70 548.09 L671.90 548.09 L672.10 548.09 L672.30 548.09 L672.50 548.09 L672.70 548.20 L672.90 548.20 L673.10 548.20 L673.30 548.20 L673.50 548.20 L673.70 548.15 L673.90 548.15 L674.10 548.15 L674.30 548.15 L674.50 548.15 L674.70 548.06 L674.90 548.06 L675.10 548.06 L675.30 548.06 L675.50 548.06 L675.70 548.17 L675.90 548.17 L676.10 548.17 L676.30 548.17 L676.50 548.17 L676.70 548.24 L676.90 548.24 L677.10 548.24 L677.30 548.24 L677.50 548.24 L677.70 548.02 L677.90 548.02 L678.10 548.02 L678.30 548.02 L678.50 548.02 L678.70 548.07 L678.90 548.07 L679.10 548.07 L679.30 548.07 L679.50 548.07 L679.70 548.18 L679.90 548.18 L680.10 548.18 L680.30 548.18 L680.50 548.18 L680.70 548.18 L680.90 548.18 L681.10 548.18 L681.30 548.18 L681.50 548.18 L681.70 548.13 L681.90 548.13 L682.10 548.13 L682.30 548.13 L682.50 548.13 L682.70 548.11 L682.90 548.11 L683.10 548.11 L683.30 548.11 L683.50 548.11 L683.70 548.23 L683.90 548.23 L684.10 548.23 L684.30 548.23 L684.50 548.23 L684.70 548.29 L684.90 548.29 L685.10 548.29 L685.30 548.29 L685.50 548.29 L685.70 548.23 L685.90 548.23 L686.10 548.23 L686.30 548.23 L686.50 548.23 L686.70 548.05 L686.90 548.05 L687.10 548.05 L687.30 548.05 L687.50 548.05 L687.70 548.25 L687.90 548.25 L688.10 548.25 L688.30 548.25 L688.50 548.25 L688.70 548.15 L688.90 548.15 L689.10 548.15 L689.30 548.15 L689.50 548.15 L689.70 548.23 L689.90 548.23 L690.10 548.23 L690.30 548.23 L690.50 548.23 L690.70 548.23 L690.90 548.23 L691.10 548.23 L691.30 548.23 L691.50 548.23 L691.70 548.24 L691.90 548.24 L692.10 548.24 L692.30 548.24 L692.50 548.24 L692.70 548.17 L692.90 548.17 L693.10 548.17 L693.30 548.17 L693.50 548.17 L693.70 548.24 L693.90 548.24 L694.10 548.24 L694.30 548.24 L694.50 548.24 L694.70 548.29 L694.90 548.29 L695.10 548.29 L695.30 548.29 L695.50 548.29 L695.70 548.26 L695.90 548.26 L696.10 548.26 L696.30 548.26 L696.50 548.26"/>
<text class="pk pm" transform="translate(95.5 482.0) rotate(-45)">Myristal acid</text>
<text class="pk pc" transform="translate(259.6 487.3) rotate(-45)">Heptanal</text>
<text class="pk pc" transform="translate(358.0 492.6) rotate(-45)">Nonanal</text>
<text class="pk pc" transform="translate(430.3 505.2) rotate(-45)">Decanal</text>
<text class="pk pc" transform="translate(479.2 532.7) rotate(-45)">Hexenal</text>
<path class="ax" d="M663.3 435.5 H701.2"/>
<text class="b" font-size="16.5" x="706.2" y="441">day24</text>
<text class="b" font-size="16" x="689.8" y="461.8" font-size="16.4">0<tspan font-size="11" dy="-7">o</tspan><tspan dy="7">C</tspan></text>
<text class="b" font-size="20" x="380.3" y="614.3" text-anchor="middle">Time(min)</text>
</svg></body></html>
